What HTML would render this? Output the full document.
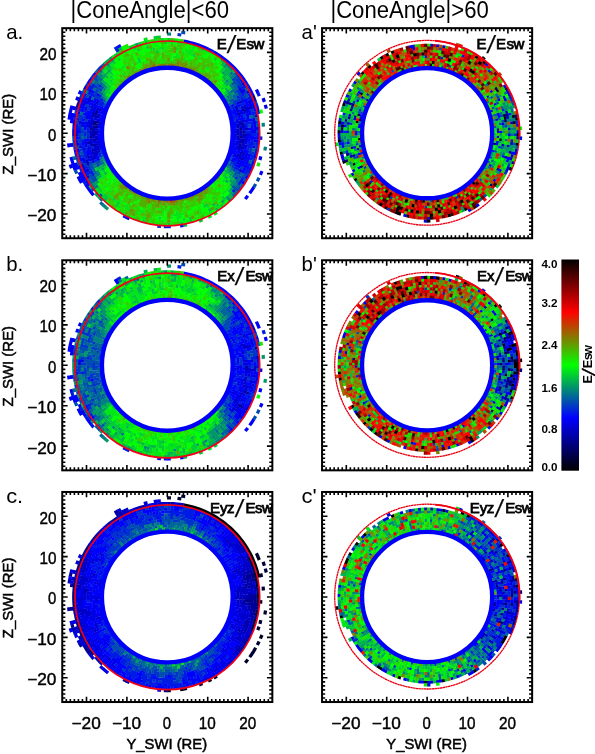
<!DOCTYPE html>
<html lang="en"><head><meta charset="utf-8"><title>E/Esw maps</title>
<style>html,body{margin:0;padding:0;background:#fff}svg{display:block}</style></head>
<body>
<svg width="595" height="754" viewBox="0 0 595 754" font-family="'Liberation Sans', sans-serif" fill="#000">
<g fill="none" stroke-width="3.25">
<path stroke="#000080" d="M97.1 123.2l-.3 2.7M241 130.8l-.2-2.9M94.3 122.8l-.3 2.8M90.8 135.7l.1 3M254.1 98.3l-1.4-3.3M78.4 104.1l-1.1 3.5"/>
<path stroke="#000099" d="M97.5 120.7l-.4 2.8M96.8 125.6l-.2 2.8M238.2 135.8l0-2.7M97.2 110.3l-.8 2.6l-.7 2.6M94.7 120.2l-.4 2.9M94 125.3l-.3 2.9M93.6 133l0 2.9M239.9 146.2l.4-2.9M240.8 138.5l.2-2.9M243.9 133.4l-.1-3M90.9 127.7l-.1 3M91.5 143.7l.4 3M92.4 149l.7 2.9M243.4 141.4l.3-3M243.8 136l.1-3M243.7 111.5l-1-3M255.3 101.4l-1.4-3.4"/>
<path stroke="#0000b3" d="M100.3 121.2l-.4 2.7M238 128.4l-.2-2.8M98.5 115.9l-.6 2.7M96.4 130.6l0 2.6l0 2.6M96.6 138l.2 2.8M97.1 142.9l.4 2.8M97.9 147.8l.6 2.7M238 138.3l.2-2.8M241 133.4l0-2.9M240.6 125.6l-.3-2.7l-.4-2.7M238.9 115.5l-.8-2.8M95.8 115.2l-.7 2.8M93.8 127.9l-.2 2.7l0 2.8M93.7 138.2l.3 2.9M94.3 143.3l.4 2.9M237.4 156.1l.8-2.7M240.3 143.6l.3-2.8M243.7 128l-.3-2.8l-.3-2.8M93.8 111.9l-.8 2.8l-.6 2.7M90.8 130.4l-.1 3M93 151.6l.8 2.9M240.8 154.5l.8-2.9M242.2 149.3l.5-3M243.1 144l.4-3M243.7 138.7l.1-3M246.6 130.6l-.1-3.1M88.3 141.3l.4 3.1M241.8 160.5l1.1-2.9M245.5 108l-1-3.1M88.2 155.7l1 3.1M86.4 159.3l1 3l1.1 2.9M82 164l1.3 3.4M79.5 101l-1.2 3.5"/>
<path stroke="#0000cc" d="M235.4 133.3l-.1-2.6M234.3 145.2l.4-2.7M238.2 133.3l0-2.6l-.2-2.6M237.8 125.9l-.3-2.7M100.7 108.8l-.9 2.6M99.2 113.5l-.7 2.7M96.6 128.1l-.2 2.8M96.4 135.5l.2 2.8M97.4 145.4l.6 2.7M98.5 150.2l.7 2.7M236.6 148.1l.6-2.7M237.8 140.8l.2-2.8M240.9 128.2l-.3-2.9M238.2 113l-.8-2.6l-.8-2.4l-1-2.6M98.1 107.8l-1 2.8M93.6 135.6l.2 2.9M94.7 145.9l.5 2.6l.6 2.5l.6 2.5l.8 2.6M238.8 151.2l.6-2.7l.5-2.6M240.6 141.1l.3-2.9M241 135.9l0-2.9M243.1 122.7l-.4-3M97.4 101.9l-1.1 2.8M92.4 117.1l-.5 2.8l-.4 2.6l-.3 2.7l-.3 2.8M90.7 133l.1 3M90.9 138.4l.3 2.8l.3 2.8M93.7 154.1l.8 2.8l.9 2.6M237.2 164.5l1.1-2.8M239.2 159.5l.9-2.6l.8-2.8M242.7 146.7l.4-3M241 103.6l-1.2-2.8M92.8 105.9l-1.1 2.9M88.4 124.7l-.3 3.1M89.1 146.8l.6 3.1M91.7 157.6l1.1 2.9M243.6 155.2l.8-3M245.5 147.1l.4-3M246.6 136.1l.1-3.1M247.1 113.5l-.8-3l-.9-2.9M87.5 152.9l.8 3.1M239.8 171.9l1.5-2.8M249.1 109.9l-1-3.1M251.8 109.2l-1-3.3M256.7 117.6l-.7-3.4M248.9 93.6l-1.6-3.1M244.3 85.3l-1.9-3M83.3 99l-1.3 3.4M76.6 133l.1 3.6M83.1 167l1.4 3.3M257.8 139.7l.1-3.5M86.4 86.3l-1.8 3.2M80.7 98l-1.4 3.4M77.5 107.2l-1 3.6M74.7 120l-.4 3.4l-.3 3.5M73.8 129.7l0 3.5l0 3.5"/>
<path stroke="#0000e6" d="M235.3 131l-.1-2.7M102.6 112l-.8 2.6M101.3 116.6l-.6 2.6M99.9 123.6l-.3 2.5l-.2 2.5M99.3 130.7l-.1 2.6M99.4 137.8l.2 2.5l.3 2.4l.4 2.3l.4 2.4l.6 2.4M234.7 142.8l.3-2.6M235.2 138.1l.1-2.5l.1-2.5M237.5 123.5l-.4-2.6l-.5-2.6M98 118.3l-.6 2.7M96.8 140.5l.3 2.7M233.9 157.6l.8-2.5l.8-2.5M236.1 150.5l.6-2.7M237.1 145.7l.4-2.6l.3-2.6M239.5 118l-.7-2.8M95.2 117.7l-.5 2.8M94 140.8l.3 2.8M236.5 158.6l1-2.8M243.8 130.7l-.1-3M241.6 114.8l-.8-2.9M238.3 104.7l-1.1-2.8M98.6 99.5l-1.3 2.7M96.4 104.4l-1 2.6l-.9 2.5l-.8 2.8M238.2 162l1.1-2.8M241.5 151.9l.7-2.9M245.9 122.3l-.4-3M244.4 114.2l-.8-3M242.9 108.8l-1.1-2.9M98.6 93.4l-1.5 2.7M93.8 103.3l-1.2 2.9M91.9 108.5l-1 3M89.1 119.3l-.4 2.9l-.4 2.9M88.1 138.6l.3 3.1M90.9 154.9l1 3M92.6 160.2l1.2 2.9M242.7 157.9l1-3M244.9 149.9l.6-3.1M245.9 144.4l.4-2.9l.2-2.8l.1-2.9M249.5 130.5l-.2-3.2M243.6 102.6l-1.3-3M92.3 99.6l-1.3 3M86.9 115.9l-.6 3.2M85.9 121.6l-.4 3.2M85.5 141.6l.4 3l.5 3M89.1 158.4l1 3.1M244.5 161.5l1-2.9l.8-2.7l.8-3M249.5 136.2l0-3.2M252.3 133.4l0-3.3M242.5 93.4l-1.6-2.7l-1.6-2.7M90.9 95.8l-1.3 2.8l-1.1 2.7l-1.2 3M86.5 106.8l-1 3.1M83.1 121.2l-.4 3.1l-.2 3.1M83.5 147.8l.7 3.3M244.9 168l1.3-3.1M255.2 133.4l-.1-3.3l-.1-3l-.3-3.1l-.4-3l-.5-3.2M250.9 106.2l-1-3.1l-1.2-3M245 92.1l-1.7-3M91.3 89.1l-1.7 3M85.9 100.1l-1.2 3l-1 3.1M80.3 120.8l-.4 3.4M80.3 145.2l.5 3.4M82.8 157.2l.9 3.2l1.1 3M87 168.8l1.4 3.1M253.8 148.6l.5-3.4M254.7 142.6l.3-3.5M257.9 130.2l-.1-3.5M254.5 108.4l-1-3.4M252.6 102.4l-1.3-3.4M81.1 105l-1 3.4M79.3 111.1l-.8 3.4M76.7 129.8l-.1 3.6M77.1 142.5l.4 3.5M84.4 169.9l1.5 3.2M87.1 175.6l1.7 3.1M242.4 184.1l1.9-3M250.1 170.3l1.4-3.3M254.4 158.4l.9-3.4M217 54l-3.1-1.9M211.4 50.7l-3.3-1.6M199.5 45.4l-3.5-1.2M86.2 179.8l1.9 3.1M126.1 217.2l3.3 1.5M78 96.9l-1.3 3.5M74.7 106.4l-.9 3.7M71.5 143.1l.4 3.7M79.2 172.2l1.6 3.4M91.2 192.4l2.4 2.9M259.9 160l.9-3.7M78.1 176.5l1.7 3.4M266.3 108.7l-1-3.8M264.4 101.9l-1.3-3.8M70.2 164.5l1.3 3.8"/>
<path stroke="#0000ff" d="M235.2 128.6l-.2-2.5l-.3-2.4l-.4-2.5M232.8 114.6l-.8-2.6M104.2 107.6l-.9 2.3l-.8 2.4M101.9 114.3l-.7 2.6M100.7 118.9l-.5 2.6M99.2 133.1l.1 2.5l.1 2.5M232 154.4l.7-2.4l.7-2.3l.5-2.3l.5-2.5M235 140.5l.2-2.7M236.1 116.2l-.6-2.5l-.8-2.4l-.8-2.5M233.1 106.8l-1.1-2.6M101.6 106.5l-1 2.6M99.9 111.1l-.8 2.7M232 162.2l1-2.4l1-2.5M235.4 152.9l.7-2.7M239.9 120.5l-.5-2.8M102.3 98.4l-1.3 2.6M99 105.4l-1 2.7M97.1 155.8l.9 2.6l1 2.6M235.6 161l1-2.7M238.1 153.7l.8-2.8M242.7 120.1l-.5-2.8l-.7-2.8M240.9 112.3l-.8-2.9M239.3 107.2l-1.1-2.8M236 166.9l1.3-2.7M246.5 127.8l-.3-3.1M96 98.3l-1.2 2.6l-1.2 2.7M91 111.2l-.7 2.8l-.7 2.7l-.5 2.9M89.6 149.5l.7 2.9l.7 2.8M238.6 168.1l1.2-2.6l1.1-2.6l1.1-2.7M244.3 152.6l.7-3.1M248.7 121.9l-.4-3l-.6-2.8l-.7-3M91.1 102.2l-1.1 3M88.3 110.4l-.8 2.9l-.7 3M85.6 124.4l-.3 3.1l-.2 3M85.3 138.8l.3 3.2M86.8 150.1l.8 3.2M242.3 166.8l1.2-2.8l1.1-2.8M247 153.3l.8-3.2M249 142l.3-3.1l.2-3M252.3 130.4l-.2-3.1l-.2-3.2M251.5 121.5l-.5-3.2M250.5 115.7l-.7-3.1l-.8-3M248.2 107.1l-1-3l-1.1-2.8l-1.2-2.9M93.7 90.5l-1.6 2.9M84.8 112.5l-.7 3.2M83.6 118.3l-.5 3.2M82.7 141.9l.4 3.3M242.3 173.3l1.4-2.8l1.4-2.9M246.1 165.2l1.1-2.9l1-2.8l.8-2.9l.9-3M251.5 145.2l.4-3.3M252.1 139.3l.2-3.3M87.1 97.3l-1.3 3.2M83.8 105.9l-1 3.1l-.8 3.1M79.5 129.9l-.1 3.5M247.5 169.1l1.3-3.2M254.9 139.5l.2-3.4M255.3 111.4l-.9-3.4M253.6 105.4l-1.1-3.4M82.1 102l-1.1 3.4M76.7 136.2l.1 3.5M77.9 148.8l.7 3.4M80.1 158l1 3.4M245.8 178.7l1.7-3.1M252.5 164.4l1.1-3.4M257.5 142.9l.3-3.6M257.9 136.6l.1-3.6M258.8 113.9l-.8-3.3l-.9-3.4M252.8 95.3l-1.4-3.1l-1.5-2.9l-1.7-3M246.7 83.8l-1.9-2.9l-1.8-2.7l-2-2.6l-2.1-2.5l-2.1-2.5l-2.2-2.4l-2.3-2.3l-2.4-2.2l-2.5-2.1l-2.5-2.1l-2.6-2l-2.7-1.8l-2.9-1.9M208.5 49.2l-3.2-1.4l-3-1.3l-3.2-1.3M196.4 44.3l-3.3-1l-3.2-.8l-3.2-.8l-3.4-.6M95.8 72.9l-2.3 2.9M91.8 78.1l-2 2.8l-1.9 2.9M75.9 113.6l-.7 3.6M75.2 149.2l.7 3.6M79.3 165l1.4 3.4M81.8 171.1l1.4 3.1l1.5 2.9l1.7 3M87.9 182.6l2 3.1M123.2 215.7l3.3 1.6M180.1 225.8l3.6-.5M80.8 90.8l-1.6 3.4M73.1 113l-.7 3.5l-.5 3.3l-.4 3.5M75.6 162.8l1.2 3.4l1.2 3.3M80.6 175.3l1.6 3.1l1.8 3.2M85.5 184.1l1.9 3l1.9 2.7l2.2 2.9M258 93l-1.6-3.5M120.9 45.5l-3.4 1.9M72 105.7l-.9 3.5l-.8 3.4l-.7 3.4l-.5 3.6M68.6 143.4l.5 3.8M71 157l1 3.5l1 3.3l1.1 3.3l1.3 3.4M79.6 179.6l1.9 3.4M245.3 198.9l2.5-3.1M249.7 193.3l2.2-3.1l2-3.1M260.4 174.9l1.6-3.7"/>
<path stroke="#001ae5" d="M233.9 119.2l-.5-2.5l-.7-2.4M232.1 112.3l-.9-2.5M99.4 128.3l-.1 2.7M231.2 156.6l.9-2.5M236.7 118.6l-.6-2.7M234 109.1l-1-2.6M103.6 102l-1.1 2.4l-1 2.4M99.1 152.6l.8 2.5l.8 2.5M101.1 100.7l-1.2 2.5l-1 2.5M233.5 165.7l1.2-2.5l1-2.5M101.1 94.8l-1.5 2.6M91.9 146.3l.5 3M95.3 159.2l1.1 2.8M234.8 169.3l1.4-2.7M246.7 133.4l-.1-3.1M246.3 125.1l-.4-3.1M245.5 119.6l-.6-3.1M242 106.2l-1.2-2.9M238.7 98.5l-1.4-2.7M88.1 127.5l-.1 2.9l-.1 3M88 135.8l.1 3.1M88.7 144.1l.4 3M237.3 170.6l1.4-2.7M249.5 133.4l0-3.2M249.1 124.8l-.4-3.2M244.6 105.2l-1.1-3M242.5 99.9l-1.4-2.9M100.9 84.7l-1.9 2.7M94.8 94.5l-1.5 2.8M90.1 104.9l-1 3.1M85.1 133l0 3.2M86.3 147.3l.6 3.2M235.4 179.3l1.7-2.7M247.7 150.5l.6-3l.4-2.9l.4-3M251.9 124.5l-.4-3.3M243.8 96.1l-1.5-3M239.5 88.3l-1.8-2.8M92.3 93.1l-1.5 3M85.6 109.6l-.9 3.2M82.5 139l.2 3.3M83.1 144.9l.5 3.2M84.1 150.7l.7 3.1l.8 2.8l.9 3M90.8 170.3l1.4 2.8l1.5 2.8M251 148.1l.5-3.2M251.9 142.3l.2-3.3M252.3 136.3l0-3.3M253.3 115.1l-.8-3.3M248.8 100.5l-1.3-3.2M243.5 89.4l-1.8-2.9M94.6 83.9l-1.8 2.7l-1.7 2.8M89.8 91.8l-1.6 3M79.7 126.9l-.2 3.4M79.5 136.1l.2 3.4M79.9 142.2l.4 3.4M85.8 165.9l1.3 3.2M88.2 171.6l1.6 3M232.5 192.1l2.2-2.6M238.3 185l1.8-2.7l1.7-2.5l1.7-2.8M244.8 174.6l1.5-2.9l1.3-2.9M248.7 166.3l1.2-3.2M250.8 160.5l1-3.1l.8-3.1M255.1 136.5l.1-3.5M256.1 114.5l-.8-3.4M251.5 99.4l-1.3-3.1l-1.5-3M245.9 88l-1.8-3M242.6 82.6l-2-2.9M90.5 85l-1.7 2.9l-1.7 2.9M85.9 93.3l-1.5 3l-1.3 3.1M80.2 108l-.9 3.4M78 117.3l-.5 3.5M77.1 123.5l-.3 3.4l-.1 3.3M76.8 139.3l.3 3.6M79.3 155l.9 3.4M85.7 172.8l1.6 3.1M248.7 173.1l1.5-3.2M251.3 167.4l1.3-3.4M255.3 155.3l.7-3.2l.7-3.3M257.1 146l.4-3.5M257.3 107.6l-1.1-3.5M248.4 86.6l-1.9-3.1M214.2 52.3l-3.2-1.8M75.2 116.8l-.5 3.6M74 126.5l-.2 3.6M75.8 152.5l.8 3.5M80.5 168.1l1.4 3.3M157.3 226.2l3.7 .3M163.8 226.7l3.5 0l3.5 0M260.6 139.9l.2-3.6M119.3 49.7l-3.2 1.9M83.8 181.2l1.9 3.2M259.3 96.2l-1.5-3.5M117.9 47.2l-3.3 2"/>
<path stroke="#0033cc" d="M234.4 121.5l-.5-2.6M231.3 110.1l-.9-2.4l-1-2.3M105.2 105.4l-1.1 2.4M101.2 149.5l.7 2.5l.7 2.4M229.4 161l1.1-2.4M231 164.4l1.1-2.5M235.7 105.7l-1-2.5l-1.2-2.5M232.3 168l1.3-2.6M240.2 109.7l-1-2.8M237.3 102.2l-1.3-2.7M99.8 97.1l-1.4 2.7M97.3 164.2l1.3 2.7M233.5 171.6l1.5-2.6M245 116.9l-.7-3.1M239.9 101.1l-1.3-2.8M101.6 88.7l-1.7 2.6M97.3 95.8l-1.4 2.7M87.9 133l.1 3.1M241.3 97.3l-1.4-2.7l-1.4-2.5l-1.6-2.6M97.7 89.5l-1.6 2.6l-1.5 2.7M89.2 107.6l-1 3.1M86.4 118.8l-.5 3.1M85.1 130.2l0 3.2M90 161.2l1.1 3M238.4 174.5l1.6-2.9M241.1 169.4l1.4-2.9M245.1 98.8l-1.4-3M234.4 81l-2.1-2.6M96.9 85.5l-1.8 2.8M87.4 103.9l-1 3.2M84.2 115.3l-.7 3.3M82.3 130.1l0 3.3M88.4 164.9l1.2 2.9l1.3 2.8M249.8 153.9l.7-3l.6-3.1M252.6 112.1l-.9-3.3M246.4 94.8l-1.6-3M241.9 86.8l-1.8-2.7l-1.7-2.5l-2-2.6M81.4 114.8l-.6 3.1l-.5 3.3M79.9 123.8l-.3 3.5M79.4 133l.1 3.5M79.6 139.1l.3 3.5M80.7 148.3l.7 3.3M82 154.3l.9 3.3M84.7 163.1l1.2 3.2M252.5 154.6l.8-3.3M254.3 145.6l.4-3.4M258 133.4l-.1-3.6M257.5 123.9l-.4-3.5M240.8 80l-2-2.6l-2.1-2.6M78.6 114.2l-.7 3.4M77.5 120.4l-.4 3.5M78.5 151.9l.8 3.4M81 161l1.1 3.4M247.3 175.9l1.6-3.1M253.5 161.4l1-3.4M256.6 149.1l.5-3.5M256.3 104.5l-1.2-3.5M102.5 65.8l-2.5 2.4l-2.3 2.6M93.7 75.5l-2.2 2.9M88.1 83.5l-1.9 3.1M83.3 92l-1.4 3.2l-1.4 3.1M76.6 110.4l-.8 3.5M74 139.5l.3 3.7M74.7 146l.5 3.6M76.5 155.6l1 3.6M181.3 35l-3.8-.5"/>
<path stroke="#004db2" d="M106.2 103.2l-1.1 2.4M102.5 154.1l.9 2.5M230.4 158.8l.9-2.5M231.1 102.3l-1.3-2.5M104.8 99.8l-1.3 2.5M229.8 166.6l1.3-2.5M233.6 101l-1.3-2.6M98.9 160.7l1.1 2.6M235 97.4l-1.5-2.6M96.3 161.7l1.1 2.8M236.1 93.7l-1.6-2.7M103.2 86.4l-1.8 2.5M234.5 175.4l1.6-2.5l1.4-2.6M249.3 127.6l-.3-3.2M233.9 85l-1.9-2.6M99.2 87.1l-1.7 2.7M85.1 135.9l.2 3.2M91 163.8l1.2 2.8l1.3 2.8M237.9 85.8l-1.8-2.6l-1.9-2.5M98.6 83.1l-1.9 2.7M82.5 127.1l-.2 3.3M82.3 133l0 3.3M93.6 175.6l1.6 2.7l1.7 2.6M232.3 188l2.1-2.6M239.3 178.4l1.7-2.8M253.9 118.1l-.7-3.3M247.6 97.6l-1.4-3.1M236.7 79.2l-2.2-2.6M98.2 79l-2.1 2.7M88.4 94.5l-1.4 3.1M81.3 151.3l.8 3.3M89.6 174.3l1.6 2.8l1.6 2.7l1.8 2.7M234.5 189.8l2.2-2.6M243.3 177.3l1.7-3M257.8 127.1l-.3-3.6M236.9 75l-2.3-2.6M97.9 74.8l-2.1 2.6l-2 2.6M92.2 82.3l-1.9 3M77.5 145.6l.5 3.5M99.8 193.7l2.4 2.6M236.7 191.6l2.1-2.6l2-2.6M244.1 181.4l1.8-3M73.8 136.3l.2 3.6M74.3 142.8l.4 3.6M77.3 158.8l1.1 3.3l1.1 3.3M91.5 188l2.2 2.9M75.3 170.2l1.5 3.5M185.2 32.8l-3.9-.6M253.7 187.4l2-3.4M257.3 181.3l1.8-3.6"/>
<path stroke="#006699" d="M229.5 105.6l-1.1-2.4M227.3 165.3l1.2-2.4M232.1 104.5l-1.1-2.5M228.8 97.9l-1.5-2.4M100.6 157.3l1 2.6M102.5 161.9l1.1 2.5M103.5 96.2l-1.4 2.5M99.9 163l1.2 2.7M231.1 170.2l1.4-2.5M236.2 99.8l-1.4-2.7M232.3 92.8l-1.6-2.5M102.5 92.5l-1.6 2.6M237.5 96.1l-1.5-2.7M234.7 91.3l-1.7-2.6M100.1 91l-1.6 2.7M93.6 162.8l1.2 2.8M233 177.7l1.7-2.6M237.1 89.8l-1.6-2.6l-1.8-2.5M102.6 82.4l-1.9 2.6M93.5 97l-1.4 2.9M93.3 169.1l1.4 2.7l1.5 2.7M236.9 176.9l1.7-2.7M251.1 118.6l-.7-3.3M102.3 78.4l-2.1 2.6M95.3 88l-1.7 2.8M82.3 136l.2 3.3M236 183.3l1.8-2.5l1.7-2.7M240.9 175.9l1.6-2.9M232.7 74.5l-2.3-2.5M100.1 76.6l-2.2 2.6M96.3 81.4l-2 2.8M82.1 111.8l-.8 3.3M236.4 187.4l2.1-2.7M249.8 163.4l1.1-3.2M253.2 151.6l.7-3.3M257.1 120.8l-.5-3.5M247.5 90.8l-1.7-3.1M102.2 70.1l-2.4 2.6M88.7 178.4l1.7 2.9l1.8 2.8M232.4 196.3l2.3-2.4l2.2-2.5M240.6 186.7l2-2.9M104.9 63.6l-2.7 2.5M97.9 70.5l-2.4 2.7M84.8 89.1l-1.6 3.3M99.9 198l2.6 2.6M73.8 156.3l.9 3.7M100.2 202.4l2.8 2.5"/>
<path stroke="#008080" d="M227.5 101.4l-1.3-2.4M107.3 101.1l-1.2 2.4M103.3 156.3l.9 2.5M226.2 167.4l1.3-2.4M228.4 163.2l1.1-2.4M230 100l-1.4-2.4M106 97.6l-1.4 2.4M101.5 159.6l1.1 2.6M228.6 168.8l1.4-2.4M232.5 98.7l-1.3-2.4l-1.4-2.2l-1.5-2.3M229.7 172.4l1.5-2.5M105.5 88.1l-1.8 2.4M233.2 88.9l-1.7-2.4l-1.7-2.3M228.2 82.3l-2-2.3M104.8 84.2l-1.8 2.5M94.7 165.3l1.3 2.8M97.1 170.3l1.4 2.6l1.6 2.5M96 174.2l1.7 2.7M232.6 78.7l-2.2-2.5M100.4 80.7l-2 2.7M234.2 185.7l2-2.7M234.7 76.9l-2.2-2.6M102.1 74.3l-2.2 2.6M96.1 184.7l2.1 2.7M232.7 70.3l-2.4-2.3l-2.3-2.2l-2.5-2.2M109.1 63.6l-2.6 2.3M94 79.7l-2 2.9M87.3 90.5l-1.6 3.1M92 183.8l1.9 2.7l2 2.7M227.8 200.7l2.6-2.4M263.4 126.7l-.3-3.8M102.7 204.7l2.8 2.4M171 34.1l-3.9-.1M264.9 150.6l.6-3.8"/>
<path stroke="#009966" d="M228.5 103.5l-1.2-2.4M104.1 158.6l1.1 2.4M103.5 164.1l1.3 2.5M227.3 170.9l1.5-2.4M228.5 92.1l-1.6-2.4M104.9 94l-1.5 2.5M102.1 167.7l1.4 2.5M233.7 95.1l-1.6-2.6M107.1 85.9l-1.8 2.4M103.9 90.3l-1.6 2.5M225.8 182.5l1.9-2.3M230.7 176.1l1.5-2.3l1.5-2.5M229.8 182.2l1.8-2.5M224.5 74.2l-2.3-2.2M230.2 186.2l1.9-2.4l1.7-2.3l1.8-2.5M230.6 76.4l-2.2-2.4M110.5 69.9l-2.4 2.2M106.2 74l-2.1 2.3l-2.1 2.4M96.7 180.6l1.9 2.7M230.4 190.2l2.2-2.5M226.2 68l-2.6-2.2M94.3 182.2l2 2.8M221.3 202.6l2.6-2.2M226 198.6l2.5-2.3M230.4 194.4l2.3-2.5M114.1 59.7l-2.8 2.1M100 72.4l-2.3 2.6M138.6 44.2l-3.5 1.2M112.5 57.4l-2.9 2.2M95.5 193.2l2.4 2.7M105.2 206.9l2.9 2.4"/>
<path stroke="#00b34c" d="M226.3 99.3l-1.3-2.2l-1.3-2.1M108.4 99l-1.3 2.4M105.1 160.8l1.1 2.4M223.7 171.4l1.4-2.2M227.5 95.8l-1.5-2.4M107.3 95.5l-1.5 2.4M226 173l1.5-2.4M227 90l-1.7-2.3M106.3 91.8l-1.6 2.5M101 165.4l1.3 2.6M104.7 172.1l1.6 2.5M225.3 178.7l1.7-2.3M228.3 174.6l1.6-2.5M227.7 86.2l-1.8-2.2l-1.8-2.1M98.4 166.6l1.4 2.7M229.1 178.3l1.8-2.4M230 84.5l-2-2.5M226.4 80.2l-2-2.1l-2.1-2.1M106.6 82l-2 2.5M99.9 175.1l1.7 2.6M231.4 180l1.8-2.5M232.2 82.7l-1.9-2.3l-2-2.3M226.6 76.2l-2.3-2.3M108.3 76l-2.2 2.3M104.4 80.2l-2 2.5M97.5 176.6l1.7 2.7M228.6 74.3l-2.2-2.3l-2.3-2.1M108.4 71.9l-2.4 2.4M212.2 205.4l2.8-1.8M228.4 192.4l2.2-2.4M230.6 72.3l-2.3-2.3l-2.3-2.2M223.9 66l-2.6-2.2M111 65.8l-2.6 2.2M104.2 72l-2.3 2.5M208.4 210.9l3-1.7M228.2 196.5l2.4-2.4M234.8 72.7l-2.4-2.6M225.7 63.8l-2.6-2.1l-2.6-2M111.6 61.6l-2.7 2.2M104.4 67.8l-2.5 2.5M104.2 198.3l2.6 2.4M215.2 210.2l3-1.9M230.2 198.6l2.5-2.5M109.9 59.4l-2.7 2.2l-2.6 2.2M89.7 185.3l2.1 3M97.7 195.6l2.5 2.7M183.3 225.3l3.6-.7M122.2 48l-3.3 1.9"/>
<path stroke="#00cc33" d="M109.6 97l-1.3 2.3M106.1 162.9l1.2 2.4M226.2 93.7l-1.6-2.3M223.3 89.7l-1.8-2.2M110 91.4l-1.6 2.3M104.6 166.4l1.4 2.4M223.1 177l1.6-2.1l1.5-2.2M110.9 85.7l-1.7 2.1l-1.5 2.1l-1.6 2.2M103.4 169.9l1.5 2.5M230.9 90.5l-1.8-2.4M224.3 82.1l-2-2.2M141.3 61.2l-2.8 1.1M112.3 79.9l-2 2.2M108.8 83.9l-1.9 2.3M99.6 169l1.5 2.6M140.3 58.5l-2.9 1.2M112.3 76l-2.2 2.2M95.9 167.9l1.4 2.7M228.5 78.3l-2.2-2.3M222.4 72.2l-2.4-2.1M195.6 56l-3.1-1M158.9 51.4l-3.2 .4M112.4 72l-2.3 2.2M203.2 207.2l2.7-1.4l2.7-1.5M224.3 70.1l-2.5-2.2M164.5 48.2l-3.3 .2M155.6 49l-3.2 .5M112.8 67.9l-2.5 2.2M112.5 198.2l2.6 2.1M117.2 201.9l2.7 1.9M158.2 217.8l3.3 .2M221.8 198.5l2.5-2.2M216.6 60.5l-2.9-1.9M149.2 47.2l-3.3 .8M140.3 49.6l-3.2 1.1M120.9 58.6l-2.9 1.9M115.8 62l-2.7 2.1M108.6 67.8l-2.5 2.3M97.9 187.2l2.1 2.5l2.1 2.4M104 194.1l2.3 2.3l2.3 2.2M115.5 204.2l2.8 2M182.4 219.8l3.3-.7M188.4 218.5l3.3-.9M216.3 206.2l2.8-2M223.6 200.6l2.6-2.2M204.4 50.4l-3.3-1.4M167.5 42.5l-3.6 .1M136.5 47.9l-3.4 1.3M106.8 65.7l-2.6 2.4M101.9 196.1l2.5 2.5M142.1 220.3l3.4 .9M167.1 223.9l3.6-.1M179.7 223l3.5-.5M189.1 221.2l3.4-.9M220.5 206.7l2.8-2.1M170.8 39.7l-3.7 0M164.2 39.7l-3.6 .2M148 41.7l-3.5 .8M141.7 43.2l-3.5 1.1M132.4 46.4l-3.3 1.4M117.9 53.8l-3.1 2M199.1 221.2l3.4-1.4M160.8 37.1l-3.6 .3l-3.5 .4"/>
<path stroke="#00e619" d="M223.8 95.3l-1.5-2.2M115.2 89.3l-1.6 2.1M112.3 93.1l-1.5 2.2M107.1 165l1.3 2.4M212.7 183.9l2-1.8M225 169.4l1.3-2.3M111.5 89.4l-1.6 2.2M108.6 93.4l-1.5 2.4M107.1 170.6l1.5 2.4M112.9 178.7l1.8 2.1M225.5 87.9l-1.7-2.1l-1.8-2M124.1 73.5l-2.3 1.7M114.4 81.9l-1.9 2l-1.8 2M222 182.6l1.8-2l1.7-2.1M226.9 176.7l1.6-2.4M229.3 88.3l-1.8-2.4M208 68.4l-2.6-1.6M191.1 60.4l-2.9-.8M186 59l-2.9-.7M178.1 57.4l-2.8-.3l-2.8-.3M138.8 62.2l-2.8 1.1M114.2 78l-2.1 2.1M110.5 81.9l-1.9 2.2M100.9 171.3l1.5 2.5l1.4 2.2l1.7 2.3M108.6 182.3l1.9 2.2M164.5 209.7l3 .1M218.4 190.2l2.2-2M227.5 180.5l1.8-2.4M178.5 54.6l-3.1-.4M125.4 65.8l-2.5 1.6l-2.4 1.7M114.3 74.1l-2.3 2.1M110.3 77.9l-2 2.2l-1.9 2.2M101.4 177.5l1.8 2.5M161.6 212.4l3.1 .1M175.4 212.2l3.1-.4M202 204.6l2.7-1.4M213.8 197.5l2.5-1.8M228 184.4l2-2.5M200.9 58.2l-3-1.3M192.9 55.1l-2.9-.9l-3-.8M184.6 52.8l-3.2-.6M161.7 51.2l-3.2 .3M110.3 73.9l-2.3 2.3M106.3 78.1l-2.1 2.4M104.2 185.9l2.1 2.4M108 190.2l2.3 2.3M118.8 199.6l2.7 1.9M126 204.3l2.9 1.6M139 210.4l2.9 1l2.9 .9M172.9 215.2l3-.2l2.8-.4l2.9-.4l3-.6M213.1 201.5l2.7-1.9M222.2 194.4l2.2-2.1l2-2l2-2.1l2-2.3M217.4 64.5l-2.7-1.9M193.7 52.4l-3-.9l-2.8-.8l-3.1-.7M179.3 49l-3.3-.4M161.5 48.4l-3.3 .2M152.7 49.4l-3.3 .7M115.1 66.1l-2.6 2.1M108.1 194.3l2.3 2.1l2.4 2.1M114.8 200.1l2.7 2M124.6 206.8l2.8 1.5l2.8 1.4M135.3 212l3.1 1.2M170.1 218.2l3.3-.2M176 217.8l3.1-.4l3.1-.5M199 212.1l3.1-1.3M207.1 208.4l2.9-1.6M194.6 49.7l-3.3-1M158.3 45.8l-3.4 .4M113.3 63.8l-2.6 2.2M106.4 69.9l-2.4 2.4M101.9 191.9l2.3 2.5M118 205.9l2.9 1.9M142.9 217.6l3.3 .9M161 220.8l3.4 .2M176.3 220.6l3.4-.4M200 214.7l3.2-1.3M213.7 207.8l2.9-1.9M210 53.2l-2.9-1.5l-3.1-1.4M195.5 47l-3.4-1M180.1 43.4l-3.5-.4M173.8 42.7l-3.5-.1M148.6 44.4l-3.4 .8M127.7 51.6l-3.1 1.6M116.7 57.9l-2.9 2M95.7 188.9l2.1 2.6l2.2 2.5M121.8 211.7l3.1 1.7M133.1 217.2l3.4 1.3M186 222l3.4-.8M209.7 213.4l3.1-1.7M217.9 208.5l2.9-2M223 204.8l2.7-2.2M177.3 40.2l-3.7-.3M157.7 40.2l-3.6 .4M135.5 45.2l-3.4 1.4M120.7 52.1l-3.1 1.9M115.2 55.6l-3 2.1M208.1 217.3l3.3-1.6M213.9 214.3l3.1-1.9M147.5 38.9l-3.7 .9"/>
<path stroke="#00ff00" d="M221 91.4l-1.6-2.1M110.9 95l-1.4 2.2M108.3 167.1l1.3 2.2l1.3 2.1M113.6 175l1.6 2.1M116.6 178.6l1.8 2M210.9 185.4l2.1-1.7M219.4 177.1l1.6-2.1M224.7 91.6l-1.6-2.2M218.4 84.1l-2-2M140.9 67.4l-2.6 1.1M114.7 85.6l-1.8 2.1M105.8 168.5l1.5 2.4M108.4 172.7l1.5 2.2l1.5 2l1.7 2M184.3 202l2.7-.7M212.8 187.6l2.1-1.8M216.4 184.3l2-2M219.9 180.8l1.7-2l1.7-2.1M222.2 84l-2-2.1M208.7 72.2l-2.5-1.6M172.6 59.7l-2.9-.2M142.2 63.9l-2.5 .9l-2.4 1l-2.5 1.2M120 76.6l-2.1 1.9M107.6 176.4l1.7 2.3M110.7 180.5l1.9 2.1M128.1 195.6l2.5 1.5M137.2 200.5l2.6 1.1M167.1 206.9l2.9 0M206.2 195.8l2.5-1.6M220.2 184.5l2-2.1M220.6 78.2l-2.2-2M188.6 59.7l-2.9-.8M162.1 56.8l-3 .3M146.4 59.6l-2.8 .8l-2.6 .9M133.9 64.3l-2.7 1.4M126.9 68.2l-2.5 1.6M120.3 72.8l-2.3 1.9M116.2 76.2l-2.2 2M106.9 180.2l1.9 2.3M114 188.2l2.2 2M133.6 201.9l2.7 1.3M203.1 200.9l2.6-1.5M210 196.8l2.4-1.8M216.4 191.9l2.2-1.9M224.1 184.5l1.9-2.2M222.6 76.2l-2.3-2.1M218.5 72.5l-2.5-2M202.2 61.9l-2.8-1.3M194.6 58.7l-2.8-1l-2.8-.9M175.8 54.3l-3.1-.3M153.7 55l-3.1 .6M137.7 59.5l-2.8 1.2M118.6 70.5l-2.3 1.9l-2.2 1.9M120.5 197.3l2.5 1.8M129.9 203.2l2.7 1.4M140 207.7l2.9 1.1M164.4 212.5l3.1 .1M191.7 208.8l2.8-1l2.7-1.1M199.4 205.8l2.8-1.3M209.2 200.6l2.6-1.7M220.3 192.3l2.3-2.1M224.3 188.5l2.1-2.3M220.3 70.3l-2.5-2M178.9 51.8l-3.2-.4M144.8 54.1l-3.1 1M136.7 56.9l-3 1.3M123.9 63.4l-2.6 1.6l-2.3 1.7l-2.5 1.8M114.6 70.1l-2.4 2.1M106.1 188.1l2.2 2.3M123.6 202.8l2.7 1.7M164.3 215.4l3.2 0M187 213l3-.8l2.9-.9M200.6 208.4l2.9-1.4M220 196.3l2.4-2.1M222.1 68.2l-2.4-2l-2.6-1.9M215 62.8l-2.8-1.8M207.4 58.2l-2.8-1.4l-2.9-1.4M185.2 50.1l-3.3-.7M149.8 50l-3.1 .7l-2.8 .8l-2.9 .8l-3 1M135.6 54.3l-3.1 1.3M122.4 61l-2.7 1.7l-2.4 1.7l-2.5 1.9M98.4 183l2 2.7M155.3 217.4l3.3 .4M161.2 218l3.1 .2l3.2 0M173.1 218l3.3-.2M181.9 217l3.3-.7M201.7 211l2.9-1.4l2.8-1.4M209.7 206.9l2.8-1.7M217.1 202.1l2.7-2M224.1 196.5l2.3-2.1l2.2-2.3M219.1 62.2l-2.8-2M214 58.8l-2.9-1.8M208.7 55.7l-3-1.6M197.5 50.7l-3.2-1.1M188.7 48l-3.3-.8M167.5 45.3l-3.5 .1M161.4 45.5l-3.5 .3M155.3 46.2l-3.4 .5M146.2 47.9l-3.3 .9M137.4 50.6l-3.2 1.2M131.7 52.9l-3.1 1.4M123.5 57l-2.9 1.8M118.3 60.2l-2.8 2M154.9 220.2l3.4 .4M164 221l3.5 .1M170.2 221l3.2-.1l3.3-.3M179.3 220.2l3.4-.5M185.4 219.2l3.3-.8M194.3 216.8l3.2-1.1M205.7 212.3l3-1.6M220.8 59.9l-2.9-2M215.5 56.4l-2.9-1.7l-2.9-1.7M198.5 48l-3.4-1.1M192.5 46.1l-3.3-.9l-3.2-.8M177 43l-3.6-.3M161.2 42.7l-3.4 .3l-3.1 .4l-3.3 .5M145.5 45.2l-3.4 .9M133.5 49l-3.1 1.3l-3 1.5M124.9 53l-2.9 1.7l-2.8 1.6l-2.8 1.8M106.5 200.5l2.6 2.3M116.4 208.3l3 1.9M130.2 216l3.3 1.4M139.1 219.4l3.4 1M182.9 222.6l3.4-.7M192.1 220.4l3.4-1M204 216.1l3.2-1.5M212.5 211.8l3-1.8M225.5 202.8l2.6-2.3M180.5 40.6l-3.6-.4M167.5 39.7l-3.7 0M129.4 47.7l-3.1 1.4l-3.1 1.6M261.6 113.4l-.9-3.7M125.2 46.5l-3.3 1.7"/>
<path stroke="#1ae500" d="M222.5 93.3l-1.6-2.1M219.5 89.6l-1.6-2l-1.7-1.8M116.8 87.5l-1.7 2.1M113.7 91.2l-1.6 2.1M110.8 171.1l1.4 2.1l1.5 2M115.1 176.8l1.7 2.1M209.1 186.9l2.1-1.6M214.5 182.3l1.9-1.9M220.9 175.2l1.5-2l1.4-2.1M221.7 87.7l-1.7-1.9l-1.8-2M213 79l-2.2-1.8M202.9 71.9l-2.3-1.3l-2.4-1.2M165 62.3l-2.6 .2l-2.7 .2M143.2 66.5l-2.6 1M138.6 68.4l-2.4 1.1l-2.3 1.2M127.8 74.3l-2.3 1.6M123.8 77.2l-2.2 1.8M118.2 82.1l-2 2M113.1 87.5l-1.8 2.2M114.5 180.5l1.8 2l1.9 1.8M131.7 194.5l2.4 1.4M214.6 186l2.1-1.9M218.2 182.6l1.9-2.1M220.4 82.1l-1.9-1.9l-1.9-1.8l-2-1.8M212.8 75.2l-2.3-1.7M206.5 70.8l-2.5-1.5M202.1 68.2l-2.6-1.3M190.2 63.1l-2.7-.8M175.2 59.9l-2.9-.3M167.5 59.5l-2.9 0M162.3 59.6l-2.7 .3l-2.7 .3M149.6 61.6l-2.6 .7l-2.6 .8M128.4 70.6l-2.5 1.6M118.1 78.3l-2 1.9l-1.9 1.9M106.1 174.3l1.6 2.4M109.1 178.5l1.8 2.2M112.4 182.4l1.9 2l1.8 1.8l2 1.9M123.8 192.8l2.4 1.6M130.3 197l2.5 1.4M149.3 204.7l2.8 .7M162 206.7l2.9 .2M182.5 205.4l2.8-.7M187.5 204.1l2.7-.8M212.6 191.4l2.1-1.7l1.9-1.7l2-1.9M222.5 80.1l-2.1-2.1M210.2 69.8l-2.5-1.6M198.6 63.3l-2.8-1.1M180.8 57.8l-3-.4M172.8 56.8l-3-.1M154.2 57.8l-3 .5M124.6 69.6l-2.3 1.7l-2.3 1.7M118.2 74.5l-2.2 1.9M110.3 184.3l2 2.2M116 190l2.2 1.9M122.2 195l2.4 1.8M136 203.1l2.8 1.1M146 206.7l2.8 .8l2.7 .6M156.5 209l2.8 .3l2.8 .3M167.1 209.8l3-.1M172.5 209.6l3-.3M183.1 208.1l2.9-.7M195.8 204.2l2.8-1.1M200.7 202.1l2.7-1.4M205.4 199.6l2.5-1.5l2.3-1.5M220.4 188.4l2-2l1.9-2.1M220.5 74.3l-2.3-2M216.3 70.7l-2.5-1.8M207.1 64.5l-2.7-1.5M199.7 60.7l-2.8-1.2M189.3 56.9l-2.8-.7l-2.9-.7M181.2 55l-3-.4M173 54l-2.9-.1l-2.8-.1l-2.9 .1M161.9 54l-3.1 .3M151 55.5l-2.9 .7l-2.7 .7l-2.6 .8l-2.8 1M132.6 61.8l-2.7 1.4M127.8 64.4l-2.7 1.6M103 179.7l1.7 2.4l1.8 2.1l1.8 2.1l1.9 2l2.1 2.1M114.1 192.1l2.3 2M118.3 195.7l2.5 1.8M137.4 206.7l2.9 1.2M142.6 208.6l3 1M147.9 210.2l3.1 .7M172.7 212.4l3.1-.3M180.9 211.4l2.9-.5l2.9-.7M189 209.6l3-1M196.9 206.9l2.8-1.2M206.8 202l2.7-1.6M222.3 190.4l2.2-2.2M226.2 186.4l2-2.3M215.8 66.8l-2.7-1.9M187.4 53.5l-3.2-.8M167.5 51l-3.1 0l-3 .2M150.4 52.7l-3 .7l-2.9 .8M142.1 55l-2.9 .9l-2.9 1.1M128.9 60.5l-2.9 1.6M99 179l1.9 2.7M102.4 183.7l2 2.5M121.2 201.3l2.7 1.7M133.7 208.2l3 1.3M152.9 214.1l3 .5l2.8 .4l2.9 .2l3 .2M170 215.4l3.2-.2M192.5 211.4l2.9-.9l2.7-1.1l2.8-1.2M210.7 203l2.7-1.7M217.8 198.1l2.5-2M212.5 61.2l-2.8-1.7M170.4 48.2l-3.1 0l-3.1 0M158.6 48.6l-3.3 .4M130.2 56.7l-2.8 1.4l-2.6 1.5l-2.7 1.6M100.2 185.4l2 2.5l1.9 2.2l2.1 2.3M119.6 203.6l2.8 1.8M138 213.1l3.2 1M152.4 216.9l3.2 .5M187.7 215.8l3-.9l3-.9M219.5 200.3l2.6-2.1M221.5 64.1l-2.7-2.1M211.4 57.2l-3-1.7M206 54.3l-3-1.4l-2.8-1.2l-3-1.1M191.7 48.8l-3.3-.9M185.7 47.3l-3.3-.7M176.7 45.8l-3.5-.3M170.6 45.4l-3.5-.1M164.4 45.4l-3.4 .2M143.3 48.7l-3.3 1M134.6 51.7l-3.2 1.3M113.1 202.3l2.7 2.1M120.6 207.6l2.8 1.7l2.8 1.6M137.1 215.7l3 1.1l3.2 .9M148.9 219.1l3.3 .7M157.9 220.6l3.5 .3M197.2 215.8l3.2-1.2M202.9 213.5l3.1-1.4M218.8 204.4l2.7-2.1M170.7 42.6l-3.6-.1M151.7 43.8l-3.4 .7M148.3 221.9l3.4 .7M154.5 223l3.3 .4l3.4 .3M170.3 223.8l3.5-.1M195.1 219.5l3.2-1.1l3.2-1.2M206.9 214.8l3.1-1.6M151.3 41.1l-3.6 .7M144.9 42.4l-3.6 1M128.3 45.1l-3.4 1.6M257.8 166.3l1.2-3.5"/>
<path stroke="#33cc00" d="M216.4 86l-1.8-1.8l-1.9-1.7M211.2 81.1l-2.1-1.6M125.5 79.5l-2.1 1.6M121.9 82.5l-2 1.8M118.4 85.8l-1.8 2M118.2 180.4l1.8 1.8l1.9 1.7M127.2 188.2l2.2 1.5M216.2 180.6l1.8-2M214.9 80.6l-2.1-1.8M205 73.2l-2.4-1.5M189.4 65.8l-2.7-.8M174.9 62.7l-2.7-.2l-2.4-.2l-2.5 0l-2.6 0M160 62.7l-2.6 .3l-2.6 .4M132 71.7l-2.3 1.4l-2.2 1.4M121.8 78.8l-1.9 1.7l-2 1.8M116.4 83.8l-1.9 2.1M117.9 184.1l2.1 1.9M123.5 189l2.1 1.6l2.1 1.4l2 1.3l2.3 1.4M136.1 196.9l2.4 1.1l2.4 1M152.4 202.5l2.7 .6M164.7 204.1l2.7 0M181.9 202.6l2.7-.6M186.7 201.4l2.7-.8M193.7 199l2.4-1l2.4-1.1M208.9 190.6l2.1-1.5l2-1.7M210.8 73.6l-2.4-1.6M197.4 65.9l-2.5-1.1l-2.5-.9M185.3 61.7l-2.8-.7M164.9 59.5l-2.9 .2M157.2 60.2l-2.7 .4l-2.7 .5M144.7 63l-2.8 1M132.8 68l-2.4 1.3l-2.3 1.5M126.2 72l-2.4 1.6M117.9 187.9l2 1.8l2.1 1.7M132.5 198.2l2.5 1.3l2.5 1.1M146.8 204l2.8 .8M159.4 206.5l2.9 .3M169.7 206.9l2.7-.1l2.6-.3l2.6-.3l2.7-.4M185 204.8l2.8-.8M189.9 203.4l2.6-.9l2.4-.9l2.5-1.1M204 197.1l2.5-1.5M208.4 194.4l2.2-1.6l2.2-1.6M218.6 76.4l-2.1-1.8l-2.1-1.7l-2.1-1.6l-2.3-1.7M203.4 65.7l-2.7-1.4M196.1 62.3l-2.6-1l-2.7-1M170.1 56.7l-2.8-.1l-2.8 .1M159.5 57l-3 .4M151.5 58.3l-2.9 .7M131.5 65.5l-2.6 1.5M105.3 178.1l1.8 2.4M112.1 186.3l2.1 2.1M124.4 196.6l2.3 1.5l2.5 1.5M131.2 200.7l2.7 1.4M153.8 208.6l3 .4M161.8 209.6l3 .1M175.1 209.4l2.9-.4l2.6-.4l2.8-.5M188.2 206.8l2.8-.8l2.5-.9l2.6-1M212.2 195.2l2.2-1.7l2.2-1.8M214.1 69.1l-2.4-1.7l-2.5-1.6M184 55.6l-3.1-.6M156.4 54.6l-3 .4M135.2 60.6l-2.8 1.3M130.2 63l-2.7 1.5M120.8 68.9l-2.5 1.8M112 190.2l2.3 2.1M122.8 198.9l2.4 1.6l2.6 1.5M134.9 205.7l2.8 1.2M145.3 209.5l3 .8M150.6 210.8l2.9 .6l2.9 .4M178.2 211.8l3-.4M186.3 210.3l3-.8M204.4 203.4l2.7-1.5M211.6 199.1l2.5-1.8M216 195.9l2.3-1.9l2.2-1.9M218.1 68.5l-2.6-1.9M211 63.6l-2.6-1.6l-2.5-1.4l-2.6-1.3l-2.7-1.3M198.3 57l-3-1.1M173.2 51.2l-3-.2l-3.1 0M156 51.8l-3 .4l-3 .6M134 58l-2.7 1.3l-2.7 1.4M126.3 61.9l-2.7 1.7M116.8 68.3l-2.5 2M100.7 181.4l1.9 2.6M110.1 192.2l2.2 2.1l2.3 2M128.6 205.7l2.7 1.4l2.7 1.3M136.3 209.4l3 1.1M144.5 212.2l3.1 .8M150 213.6l3.2 .6M184.2 213.7l3.2-.8M208.3 204.5l2.7-1.7M215.5 199.8l2.6-1.9M210 59.6l-2.9-1.6M202.1 55.6l-3.1-1.3M196.6 53.3l-3.2-1M182.2 49.5l-3.2-.5M173.4 48.4l-3.3-.2M132.9 55.4l-3 1.4M106 192.1l2.4 2.4M122.1 205.2l2.8 1.7M143.7 214.9l3.2 .9M149.4 216.3l3.3 .7M193.4 214.1l3.2-1M182.7 46.7l-3.2-.5l-3.2-.4M173.6 45.6l-3.4-.2M126.2 55.5l-3 1.7M110.7 200.4l2.6 2.2M125.9 210.7l3 1.6M134.2 214.6l3.2 1.2M151.9 219.7l3.4 .5M218.2 58.1l-3-1.9M186.3 44.5l-3.3-.6l-3.3-.5M142.5 46l-3.2 .9l-3.2 1.1M108.9 202.6l2.7 2.2M113.8 206.5l2.9 2M119.1 210l3 1.8M127.4 214.6l3.2 1.5M151.4 222.5l3.5 .5M160.8 223.7l3.3 .1l3.4 .1M173.4 223.7l3.4-.3l3.3-.4M183.7 41.1l-3.6-.5M161 39.9l-3.7 .3M154.5 40.6l-3.6 .5"/>
<path stroke="#4db200" d="M213 82.7l-2.1-1.7M207.4 78.2l-2.2-1.5M203.5 75.5l-2.2-1.3l-2-1.1l-2.3-1.1M148.7 67.7l-2.6 .8M139.7 71l-2.4 1.1M135.5 73l-2.2 1.2l-2.2 1.3M127.4 78l-2.1 1.6M123.7 81l-2.1 1.7M120.1 84.1l-1.9 1.9M137.3 194.3l2.4 1.1M143.9 197.1l2.5 .9M155.3 200.2l2.7 .4M183.6 199.3l2.6-.7M207.2 188.4l2.1-1.6M217.8 178.9l1.7-2.1M211.1 77.4l-2.1-1.6l-2.1-1.4l-2.2-1.4M198.5 69.5l-2.4-1.1l-2.2-.9l-2.4-.9l-2.4-.9M177.3 63l-2.7-.3M150.3 64.4l-2.7 .7M145.5 65.7l-2.6 .9M134.1 70.5l-2.4 1.4M125.7 75.8l-2.2 1.6M133.9 195.7l2.5 1.3M140.6 198.9l2.5 .9l2.4 .9M150 202l2.7 .6M154.8 203l2.8 .4M159.7 203.7l2.8 .2M167.2 204.1l2.7 0M174.6 203.7l2.6-.3l2.4-.4l2.6-.5M189.1 200.7l2.4-.9l2.5-.9M202.6 194.7l2.4-1.5M206.8 192.1l2.3-1.6M214.8 76.8l-2.2-1.8M204.3 69.4l-2.5-1.4M199.8 67l-2.7-1.2M192.7 64l-2.8-1M187.8 62.4l-2.8-.8M182.8 61.1l-2.7-.5l-2.5-.4l-2.7-.3M135.1 66.9l-2.6 1.3M122 75l-2.2 1.8M121.8 191.2l2.3 1.7M125.9 194.2l2.5 1.6M139.5 201.5l2.6 1l2.4 .8l2.6 .8M151.8 205.3l2.7 .5l2.7 .4M164.6 206.9l2.9 0M180 205.8l2.8-.5M201.8 198.4l2.5-1.4M218.4 186.3l2-2M205.7 67l-2.6-1.5M201 64.5l-2.7-1.3M183.4 58.3l-3-.5M164.8 56.7l-3 .1M156.8 57.4l-3 .4M148.9 58.9l-2.9 .8M136.3 63.2l-2.7 1.3M118 191.7l2.2 1.8l2.2 1.7M128.9 199.4l2.6 1.5M138.5 204.1l2.6 1l2.5 .9l2.8 .8M151.2 208.1l3 .5M169.8 209.7l3-.1M185.7 207.5l2.9-.8M198.3 203.2l2.7-1.3M209.5 66l-2.7-1.6M204.7 63.2l-2.7-1.4M197.2 59.7l-2.9-1.2M164.7 53.9l-3.1 .1M159.2 54.2l-3.1 .4M127.5 201.9l2.7 1.5M132.4 204.5l2.8 1.3M156.1 211.8l2.9 .4l2.9 .2M167.1 212.6l3-.1l2.9-.1M213.4 65.1l-2.7-1.7M181.7 52.3l-3.1-.5M116.5 197.9l2.6 1.9M147.2 212.9l3.2 .8M199.3 54.4l-3.1-1.2M138.4 53.2l-3.1 1.2M132.5 210.8l3.1 1.3M140.9 214l3.1 1M167.1 218.2l3.3 0M184.8 216.4l3.2-.7M196.2 213.2l3.1-1.2M214.7 203.8l2.7-1.9M152.2 46.6l-3.3 .7M128.9 54.1l-3 1.6M108.4 198.4l2.6 2.2M128.6 212.1l3.1 1.4M145.9 218.4l3.3 .8M201.5 49.2l-3.4-1.3M164.3 42.6l-3.5 .1M111.3 204.6l2.8 2.1M124.6 213.2l3.1 1.6M136.1 218.4l3.4 1.1M145.2 221.2l3.4 .8M201.1 217.4l3.3-1.4M174 39.9l-3.6-.2M123.6 50.5l-3.2 1.8"/>
<path stroke="#669900" d="M209.3 79.6l-2.1-1.6M205.5 76.8l-2.2-1.4M197.3 72.1l-2.4-1.1M188.5 68.5l-2.4-.7l-2.5-.7M181.6 66.6l-2.6-.5M167.4 65.1l-2.6 .1M158 65.8l-2.7 .4M151 67.1l-2.6 .7M144.2 69.2l-2.5 .9M137.6 72l-2.4 1.2M131.3 75.4l-2.2 1.4M121.6 183.7l2.1 1.7M131.1 190.9l2.3 1.3M135.2 193.2l2.4 1.2M139.5 195.3l2.3 1l2.4 .9M150.7 199.2l2.6 .6M160 200.9l2.7 .2M176.6 200.6l2.5-.4l2.4-.4l2.4-.6M188.2 198l2.5-.9M192.7 196.4l2.3-1l2.3-1.1M199.1 193.4l2.2-1.2l2.1-1.3l2.1-1.3M216.7 82.3l-2.1-1.9M184.6 64.4l-2.6-.6l-2.5-.5M155.1 63.3l-2.5 .5l-2.6 .6M147.9 65l-2.7 .8M119.7 185.8l2 1.7l2.1 1.7M145.2 200.6l2.7 .8M157.3 203.4l2.7 .3M162.2 203.9l2.8 .2M169.6 204.1l2.8-.2M198.2 197l2.4-1.2l2.3-1.3M204.7 193.4l2.4-1.5M170 59.5l-2.9 0M152.1 61l-2.8 .7M156.9 206.2l2.8 .3M197.1 200.6l2.5-1.1l2.5-1.3M116.1 193.9l2.5 2M176.1 51.5l-3.2-.3M114.3 196.1l2.5 2M167.1 215.4l3.2 0M176.4 48.6l-3.3-.2M129.9 209.6l3 1.4M146.6 215.7l3.2 .7M131.4 213.4l3.2 1.3M167.1 221.1l3.5-.1M191.3 217.7l3.3-1M211.1 209.4l2.9-1.8"/>
<path stroke="#808000" d="M195.1 71.1l-2.3-1l-2.2-.9l-2.4-.8M183.9 67.2l-2.6-.6M179.3 66.2l-2.5-.4l-2.4-.3l-2.5-.2M169.8 65.2l-2.6-.1M165.1 65.2l-2.5 .1l-2.4 .2l-2.5 .3M153.3 66.6l-2.6 .6M146.4 68.4l-2.5 .9M141.9 70l-2.4 1.1M129.4 76.7l-2.2 1.5M123.4 185.3l2 1.5l2 1.6M129.1 189.6l2.2 1.4M133.1 192.1l2.4 1.3M146.1 197.9l2.4 .7l2.5 .7M153 199.8l2.6 .5M162.4 201.1l2.5 .1l2.4 .1l2.5-.1M185.9 198.7l2.6-.8M190.4 197.2l2.5-.9M197 194.4l2.4-1.2M205.2 189.7l2.2-1.5M187 65.1l-2.7-.7M179.8 63.4l-2.8-.4M147.6 201.3l2.7 .7M172.1 203.9l2.8-.2M129.2 66.8l-2.6 1.6"/>
<path stroke="#996600" d="M172.2 65.3l-2.7-.1M155.6 66.1l-2.6 .5M157.7 200.6l2.6 .3M171.9 201.1l2.5-.2l2.5-.3"/>
<path stroke="#cc3300" d="M169.5 201.2l2.7-.1"/>
</g>
<circle cx="167.3" cy="133.2" r="65.4" fill="none" stroke="#0000f8" stroke-width="4.4"/>
<circle cx="167.3" cy="133.4" r="92.4" fill="none" stroke="#f00018" stroke-width="1.7"/>
<rect x="62.26" y="28.16" width="210.08" height="210.08" fill="none" stroke="#000" stroke-width="2"/><path d="M66.30 28.16v3.10M66.30 238.24v-3.10M62.26 234.20h3.10M272.34 234.20h-3.10M70.34 28.16v3.10M70.34 238.24v-3.10M62.26 230.16h3.10M272.34 230.16h-3.10M74.38 28.16v3.10M74.38 238.24v-3.10M62.26 226.12h3.10M272.34 226.12h-3.10M78.42 28.16v3.10M78.42 238.24v-3.10M62.26 222.08h3.10M272.34 222.08h-3.10M82.46 28.16v3.10M82.46 238.24v-3.10M62.26 218.04h3.10M272.34 218.04h-3.10M86.50 28.16v5.40M86.50 238.24v-5.40M62.26 214.00h5.40M272.34 214.00h-5.40M90.54 28.16v3.10M90.54 238.24v-3.10M62.26 209.96h3.10M272.34 209.96h-3.10M94.58 28.16v3.10M94.58 238.24v-3.10M62.26 205.92h3.10M272.34 205.92h-3.10M98.62 28.16v3.10M98.62 238.24v-3.10M62.26 201.88h3.10M272.34 201.88h-3.10M102.66 28.16v3.10M102.66 238.24v-3.10M62.26 197.84h3.10M272.34 197.84h-3.10M106.70 28.16v3.10M106.70 238.24v-3.10M62.26 193.80h3.10M272.34 193.80h-3.10M110.74 28.16v3.10M110.74 238.24v-3.10M62.26 189.76h3.10M272.34 189.76h-3.10M114.78 28.16v3.10M114.78 238.24v-3.10M62.26 185.72h3.10M272.34 185.72h-3.10M118.82 28.16v3.10M118.82 238.24v-3.10M62.26 181.68h3.10M272.34 181.68h-3.10M122.86 28.16v3.10M122.86 238.24v-3.10M62.26 177.64h3.10M272.34 177.64h-3.10M126.90 28.16v5.40M126.90 238.24v-5.40M62.26 173.60h5.40M272.34 173.60h-5.40M130.94 28.16v3.10M130.94 238.24v-3.10M62.26 169.56h3.10M272.34 169.56h-3.10M134.98 28.16v3.10M134.98 238.24v-3.10M62.26 165.52h3.10M272.34 165.52h-3.10M139.02 28.16v3.10M139.02 238.24v-3.10M62.26 161.48h3.10M272.34 161.48h-3.10M143.06 28.16v3.10M143.06 238.24v-3.10M62.26 157.44h3.10M272.34 157.44h-3.10M147.10 28.16v3.10M147.10 238.24v-3.10M62.26 153.40h3.10M272.34 153.40h-3.10M151.14 28.16v3.10M151.14 238.24v-3.10M62.26 149.36h3.10M272.34 149.36h-3.10M155.18 28.16v3.10M155.18 238.24v-3.10M62.26 145.32h3.10M272.34 145.32h-3.10M159.22 28.16v3.10M159.22 238.24v-3.10M62.26 141.28h3.10M272.34 141.28h-3.10M163.26 28.16v3.10M163.26 238.24v-3.10M62.26 137.24h3.10M272.34 137.24h-3.10M167.30 28.16v5.40M167.30 238.24v-5.40M62.26 133.20h5.40M272.34 133.20h-5.40M171.34 28.16v3.10M171.34 238.24v-3.10M62.26 129.16h3.10M272.34 129.16h-3.10M175.38 28.16v3.10M175.38 238.24v-3.10M62.26 125.12h3.10M272.34 125.12h-3.10M179.42 28.16v3.10M179.42 238.24v-3.10M62.26 121.08h3.10M272.34 121.08h-3.10M183.46 28.16v3.10M183.46 238.24v-3.10M62.26 117.04h3.10M272.34 117.04h-3.10M187.50 28.16v3.10M187.50 238.24v-3.10M62.26 113.00h3.10M272.34 113.00h-3.10M191.54 28.16v3.10M191.54 238.24v-3.10M62.26 108.96h3.10M272.34 108.96h-3.10M195.58 28.16v3.10M195.58 238.24v-3.10M62.26 104.92h3.10M272.34 104.92h-3.10M199.62 28.16v3.10M199.62 238.24v-3.10M62.26 100.88h3.10M272.34 100.88h-3.10M203.66 28.16v3.10M203.66 238.24v-3.10M62.26 96.84h3.10M272.34 96.84h-3.10M207.70 28.16v5.40M207.70 238.24v-5.40M62.26 92.80h5.40M272.34 92.80h-5.40M211.74 28.16v3.10M211.74 238.24v-3.10M62.26 88.76h3.10M272.34 88.76h-3.10M215.78 28.16v3.10M215.78 238.24v-3.10M62.26 84.72h3.10M272.34 84.72h-3.10M219.82 28.16v3.10M219.82 238.24v-3.10M62.26 80.68h3.10M272.34 80.68h-3.10M223.86 28.16v3.10M223.86 238.24v-3.10M62.26 76.64h3.10M272.34 76.64h-3.10M227.90 28.16v3.10M227.90 238.24v-3.10M62.26 72.60h3.10M272.34 72.60h-3.10M231.94 28.16v3.10M231.94 238.24v-3.10M62.26 68.56h3.10M272.34 68.56h-3.10M235.98 28.16v3.10M235.98 238.24v-3.10M62.26 64.52h3.10M272.34 64.52h-3.10M240.02 28.16v3.10M240.02 238.24v-3.10M62.26 60.48h3.10M272.34 60.48h-3.10M244.06 28.16v3.10M244.06 238.24v-3.10M62.26 56.44h3.10M272.34 56.44h-3.10M248.10 28.16v5.40M248.10 238.24v-5.40M62.26 52.40h5.40M272.34 52.40h-5.40M252.14 28.16v3.10M252.14 238.24v-3.10M62.26 48.36h3.10M272.34 48.36h-3.10M256.18 28.16v3.10M256.18 238.24v-3.10M62.26 44.32h3.10M272.34 44.32h-3.10M260.22 28.16v3.10M260.22 238.24v-3.10M62.26 40.28h3.10M272.34 40.28h-3.10M264.26 28.16v3.10M264.26 238.24v-3.10M62.26 36.24h3.10M272.34 36.24h-3.10M268.30 28.16v3.10M268.30 238.24v-3.10M62.26 32.20h3.10M272.34 32.20h-3.10" stroke="#000" stroke-width="1.6" fill="none"/>
<text y="49.2" font-size="15" stroke="#000" stroke-width="0.75"><tspan x="216.8">E</tspan><tspan x="228.0" dy="3.8" font-size="23" font-style="italic" stroke-width="0.25">/</tspan><tspan x="236.3 246.6 253.6" dy="-3.8">Esw</tspan></text>
<text x="6.2" y="38.9" font-size="21" text-anchor="start" textLength="17.0" lengthAdjust="spacingAndGlyphs">a.</text>
<text x="56.4" y="59.8" font-size="15.6" text-anchor="end" textLength="17.0" lengthAdjust="spacingAndGlyphs" stroke="#000" stroke-width="0.4">20</text>
<text x="56.4" y="100.2" font-size="15.6" text-anchor="end" textLength="17.0" lengthAdjust="spacingAndGlyphs" stroke="#000" stroke-width="0.4">10</text>
<text x="56.4" y="140.6" font-size="15.6" text-anchor="end" textLength="8.3" lengthAdjust="spacingAndGlyphs" stroke="#000" stroke-width="0.4">0</text>
<text x="56.4" y="181.0" font-size="15.6" text-anchor="end" textLength="29.2" lengthAdjust="spacingAndGlyphs" stroke="#000" stroke-width="0.4">−10</text>
<text x="56.4" y="221.4" font-size="15.6" text-anchor="end" textLength="29.2" lengthAdjust="spacingAndGlyphs" stroke="#000" stroke-width="0.4">−20</text>
<text x="13.3" y="134.1" font-size="15" text-anchor="middle" textLength="80.6" lengthAdjust="spacingAndGlyphs" transform="rotate(-90 13.3 134.1)" stroke="#000" stroke-width="0.5">Z_SWI (RE)</text>
<g fill="none" stroke-width="3.25">
<path stroke="#000000" d="M359.2 137.8l.2 2.7M357.3 120.7l-.4 2.8M500.4 141.1l.3-2.9M505.3 119.6l-.6-3.1M353.4 162.8l1.2 2.8M342.5 124.1l-.2 3.3M354.9 178.1l1.8 2.8M395.1 212l3.1 1.2M406.4 215.7l3.2 .7M447.5 215.8l3.2-.9M464.2 209.7l3-1.5M514.5 124.2l-.4-3.4M513.7 118.1l-.7-3.3M394.4 51.7l-3.2 1.3M388.7 54.1l-3 1.6M383.3 57l-2.9 1.8M370.8 65.8l-2.6 2.2M364 72l-2.3 2.5M344.6 103l-1.1 3.2M340.1 120.8l-.4 3.4M339.3 129.9l-.1 3.5M339.4 139.1l.3 3.5M341.1 151.3l.8 3.3M343.5 160.2l1.1 3.2M516.9 120.8l-.5-3.5M485.5 63.8l-2.7-2.2M478 58.1l-3-1.9M509.9 170.3l1.4-3.3M516.9 146l.4-3.5M517.7 136.6l.1-3.6M484.8 59.6l-2.9-2.2"/>
<path stroke="#00001a" d="M362.3 92.5l-1.6 2.6"/>
<path stroke="#000033" d="M360.5 118.9l-.5 2.6M494.1 145.2l.4-2.7M359 113.5l-.7 2.7M504.8 116.9l-.7-3.1M498.4 92.2l-1.7-2.7"/>
<path stroke="#00004d" d="M360.8 165.4l1.3 2.6M342.3 127.1l-.2 3.3M507.3 90.8l-1.7-3.1"/>
<path stroke="#000066" d="M505.7 122.3l-.4-3M496.9 89.8l-1.7-2.7M347.3 152.9l.8 3.1M490 186.2l2-2.5"/>
<path stroke="#000080" d="M353.6 103.3l-1.2 2.9M351.7 108.5l-1 3M348.3 101.2l-1.2 3.1M346.2 159.3l1 3.2M516.5 117.6l-.7-3.4M517.6 139.7l.1-3.5"/>
<path stroke="#000099" d="M368.2 99l-1.3 2.4M357.7 147.8l.6 2.7M355.6 115.2l-.7 2.8M351.7 146.3l.5 3M353.5 154.1l.8 2.9M349.5 116.5l-.6 3.1M497.1 170.6l1.4-2.7M507.6 116.3l-.8-3.2M350.9 102.2l-1.1 3M509.6 153.9l.7-3.2M512.3 164.4l1.1-3.4"/>
<path stroke="#0000b3" d="M360 144.9l.5 2.6M498 133.3l0-2.7M497 121l-.6-2.7M502.5 146.7l.4-3M350.7 154.9l1 3M509.3 130.5l-.2-3.2M506.9 113.5l-.8-3.1M346.2 118.8l-.5 3.1M505.2 158.8l1-3.1M511.3 145.2l.4-3.3M345.7 100.1l-1.2 3.2M339.3 136.1l.2 3.4M510.6 160.5l1-3.3"/>
<path stroke="#0000cc" d="M361.1 116.6l-.6 2.6M498 130.9l-.2-2.8M497.8 138.3l.2-2.8M503.3 125.4l-.4-3M499.7 101.1l-1.3-2.8M352.6 105.9l-1.1 2.9M350.1 113.8l-.7 3.1M348.5 122l-.4 3.1M508.1 119.1l-.6-3.2M508 147.6l.5-3.1M511.7 124.5l-.4-3.3M415.4 49l-3.2 .5M349.5 98.4l-1.3 3.1M339.2 133l.1 3.5"/>
<path stroke="#0000e6" d="M491.9 112.3l-.9-2.5M359.4 125.9l-.2 2.7M497.3 143.2l.3-2.7M498.7 115.5l-.8-2.8M495.5 105.7l-1.1-2.6M363.3 96.2l-1.4 2.5M355 117.7l-.5 2.8M358.2 166.6l1.4 2.7M347.8 130.3l-.1 3.1M353.1 169.1l1.5 2.8M493.5 181.7l1.9-2.7M509.3 136.2l0-3.2M506 101.5l-1.2-2.9l-1.3-2.8M342.1 130.1l0 3.3M351.9 173l1.6 2.9M403.5 214.9l3.2 .9M426.9 218.2l3.3 0M445.5 47.3l-3.3-.7M439.5 46.2l-3.4-.4M433.4 45.6l-3.4-.2M415.1 46.2l-3.3 .5l-3.1 .6M356.1 81.4l-2 2.8M351.1 89.1l-1.7 3M348.2 94.5l-1.4 3.1M339.7 142.2l.4 3.4M341.8 154.3l.8 3.1l1 3.1M423.8 221l3.5 .1M468.2 210.9l3-1.7M476.1 206.2l2.8-2M506 171.9l1.4-3l1.2-3M511.5 157.6l.9-3.3M517.8 133.4l-.1-3.6M517.6 127.1l-.3-3.6M510 96.5l-1.4-3.1l-1.5-2.9M505.7 88l-1.8-3M487.9 65.9l-2.6-2.3M359.8 72.4l-2.3 2.6M515.1 155.3l.7-3.2l.7-3.3M520.4 139.9l.2-3.6"/>
<path stroke="#0000ff" d="M361.7 114.3l-.7 2.6M359.7 123.6l-.3 2.6M356.2 133.1l0 2.7M358.9 152.6l.8 2.7M496.9 145.7l.4-2.8M500.8 133.4l0-2.9M499.3 118l-.7-2.8M354.5 145.9l.5 2.8M492.1 92.8l-1.6-2.5M358.4 99.5l-1.3 2.7M359.9 91l-1.6 2.7M348.1 141.3l.4 3.1M345.4 124.4l-.3 3.2M499.6 171.9l1.5-2.8M342.9 121.2l-.4 3.3M342.5 141.9l.4 3.1l.5 3.1M507 162.5l1-3l.9-3M512.3 154.6l.8-3.3"/>
<path stroke="#001ae5" d="M361.6 151.8l.8 2.6M492.5 152.1l.7-2.6M488.6 97.9l-1.5-2.4M368.4 93.4l-1.5 2.4M356.2 130.6l0 2.7M489.6 166.6l1.3-2.5M370.5 180.5l1.9 2.1M499.2 148.7l.5-2.8M443.2 58.3l-3-.5M427.3 56.6l-3 .1M503.5 111.5l-1-3M354.6 100.8l-1.2 2.8M502.5 157.9l1-3M344.9 130.2l0 3.2M346.6 150.1l.8 3.2M510.3 115.7l-.7-3.2M464.5 56.8l-3-1.4M344.6 112.5l-.7 3.2M511.7 142.3l.2-3.3M490.4 72.3l-2.4-2.4M340.6 117.8l-.5 3.4M511.3 99.4l-1.4-3.3"/>
<path stroke="#0033cc" d="M443.7 67.2l-2.6-.6M365 105.4l-1.1 2.4M362.4 112l-.8 2.6M490.2 158.8l.9-2.5M493.8 109.1l-1-2.6M360.5 108.8l-.9 2.6M356.9 142.9l.4 2.8M364.4 166.4l1.4 2.4M455.8 198l2.5-1.1M500.4 125.6l-.3-2.8M356.9 155.8l1 2.8M390.1 197l2.5 1.4M424.4 206.9l2.9 0M351.3 122.4l-.4 3M506.3 127.8l-.3-3.1M498.5 98.5l-1.4-2.7M358.4 93.4l-1.5 2.7M387 208.2l3 1.5M339.7 123.8l-.3 3.5M504.6 174.6l1.6-3M508.5 166.3l1.2-3.2M514.9 136.5l.1-3.5M517.3 123.9l-.4-3.5M512.4 102.4l-1.3-3.4"/>
<path stroke="#004db2" d="M495 128.6l-.2-2.7M495.9 116.2l-.7-2.7M451.5 66.6l-2.6-.9M393.9 70.5l-2.4 1.4M359.7 111.1l-.8 2.7M479.7 180.8l1.8-2.1M491.8 162.2l1.1-2.6M495.2 152.9l.7-2.7M497.3 110.6l-1-2.8M492.3 98.7l-1.4-2.5M502.9 122.7l-.4-3M502 117.4l-.7-2.9M498.1 104.7l-1.1-2.8M354.2 156.7l1 2.8M350 152.2l.8 3M442 49.5l-3.2-.5M342.3 139l.2 3.3M483.9 196.5l2.4-2.2M514.1 145.6l.4-3.4M513.4 105.4l-1.1-3.4"/>
<path stroke="#006699" d="M493.2 116.9l-.7-2.6M488.3 103.5l-1.2-2.4M359.1 130.7l-.1 2.6M363.1 156.3l.9 2.5M429.3 201.2l2.7-.1M488.2 163.2l1.1-2.4M488.4 168.8l1.4-2.4M499.7 120.5l-.5-2.8M353.6 127.9l-.2 2.9M356.2 153.4l.8 2.7M363.2 169.9l1.5 2.5M503.5 128l-.3-3M501.4 114.8l-.8-2.9M487.5 86.2l-1.9-2.3M353.6 111.9l-.8 2.9M502 149.3l.5-3M502.7 108.8l-1.1-2.9M497.3 96.1l-1.5-2.7M347.9 138.6l.3 3.1M503.4 155.2l.8-3M506 141.7l.3-3.1M359 87.1l-1.7 2.7M345.7 121.6l-.4 3.2M345.3 141.6l.4 3.2M350.7 95.8l-1.4 3M479.3 200.3l2.6-2.1M512.1 136.3l0-3.3M512.4 112.1l-.9-3.3M506.2 94.8l-1.6-3M516.4 149.1l.5-3.5"/>
<path stroke="#008080" d="M494.2 121.5l-.5-2.6M360.1 121.2l-.4 2.7M371.9 173.1l1.6 2.1M484.8 169.4l1.3-2.3M365.8 97.6l-1.4 2.4M369.7 174.8l1.6 2.2M354.9 148.4l.7 2.8M492.1 168l1.3-2.6M497.1 102.2l-1.3-2.7M359.6 97.1l-1.4 2.7M506.1 125.1l-.4-3.1M361.4 88.7l-1.7 2.6M509.3 133.4l0-3.2M508.5 121.9l-.5-3.1M506.2 110.7l-1-3.1M504.4 105.2l-1.1-3M344.9 135.9l.2 3.2M349.8 161.2l1.1 3M498.2 174.5l1.6-2.9M512.1 130.4l-.2-3.3M511.3 121.5l-.5-3.2M347.2 103.9l-1 3.2M344 115.3l-.7 3.3M343.9 150.7l.7 3.2M514.9 130.3l-.2-3.4M514.1 121.2l-.5-3.4M511.6 109.2l-1-3.3"/>
<path stroke="#009966" d="M370.7 95l-1.4 2.2M363.2 109.8l-.9 2.5M359 133.1l.1 2.6M360.5 147.2l.6 2.6M491 156.6l.8-2.4l.8-2.4M496.5 118.6l-.6-2.7M361.4 106.5l-1 2.6M356.4 128.1l-.2 2.8M356.2 135.5l.2 2.8M356.6 140.5l.3 2.7M353.4 135.6l.2 2.9M493.3 165.7l1.2-2.7M500.1 143.6l.3-2.8M500.8 135.9l0-2.9M503.7 133.4l-.1-3M363.7 90.3l-1.6 2.5M351.7 119.7l-.4 3M350.6 135.7l.1 2.8l.3 2.9M351.3 143.7l.4 3M499.9 157l.8-2.7l.7-2.7M357.1 95.8l-1.4 2.7M348.2 124.7l-.3 3l-.1 2.9M348.5 144.1l.4 3M495.8 173l1.5-2.7M504.7 149.9l.6-2.9l.4-2.9M506.4 136.1l.1-3.1M509.1 127.6l-.3-3.2M505.3 108l-1-3.1M501.1 97.3l-1.5-2.8M346.7 115.9l-.6 3.2M345.7 144.5l.5 3.1M376.3 197.9l2.6 1.9M460.4 208.4l2.9-1.4M495.2 179.3l1.7-2.7M502.1 166.8l1.3-3M506.8 153.3l.7-3l.6-3M509.1 139.1l.2-3.2M510.9 118.6l-.7-3.3M508.9 109.9l-.9-3l-1-3M360.2 80.7l-2 2.7M342.1 136l.2 3.3M356.5 180.6l1.9 2.7M461.5 211l3-1.4M490.2 190.2l2.2-2.5M510.2 151.1l.7-3.1l.4-3.1M513.1 115.1l-.8-3.3M354.4 83.9l-1.9 2.9M343.6 105.9l-1 3.3M340.1 145.2l.5 3.4M509.6 163.4l1.1-3.2M513.6 148.6l.5-3.4M514.3 108.4l-1-3.4"/>
<path stroke="#00b34c" d="M494.5 123.9l-.4-2.7M410.8 67.1l-2.6 .7M359.7 142.5l.4 2.7M486 167.4l1.3-2.4M495.1 135.7l.1-2.6M497.8 128.4l-.2-2.8M489.8 100l-1.4-2.4M479.9 85.9l-1.9-2.1M442 63.9l-2.7-.6M372.9 87.5l-1.8 2.2M363.4 102l-1.1 2.5M358.3 150.2l.7 2.7M495.9 150.5l.6-2.7M500.1 123.1l-.4-2.9M498 113l-.8-2.7M429.8 59.5l-2.9 0M362.1 98.4l-1.3 2.6M358.8 105.4l-1 2.6l-.8 2.4l-.8 2.6M494.4 163.3l1.1-2.6M503.6 130.7l-.1-3M494.8 97.4l-1.5-2.6M424.6 56.7l-3 .1M355.2 106.9l-1 2.8M352.2 117.1l-.5 3M350.6 130.4l-.1 2.8l.1 2.8M350.9 141l.4 3M487.3 180.5l1.8-2.4M499 159.5l1-2.8M501.3 151.9l.7-2.9M504.2 114.2l-.8-3M488 82.3l-2-2.3M355.8 98.3l-1.3 2.8M348.9 119.3l-.4 3M347.7 133l.1 3l.1 2.9M362.8 179.7l1.8 2.5M504.1 152.6l.7-3.1M347.4 113.1l-.8 3.2M344.9 133l0 3.2M345.1 138.8l.3 3.2M346.1 147.3l.6 3.2M350.8 163.8l1.3 3M504.3 161.5l1-3.1M512.1 133.4l0-3.3M511.9 127.4l-.2-3.3M507.1 104.3l-1.2-3.1M352.1 93.1l-1.5 3M342.1 133l0 3.3M345.3 156.5l1 3.1M358.2 183l2 2.7M515 133.4l-.1-3.5M508.6 100.5l-1.3-3.2M488.3 70.1l-2.5-2.3M342.7 108.8l-.9 3.3M339.5 126.9l-.2 3.4M340.5 148.3l.7 3.3M513 151.6l.7-3.3"/>
<path stroke="#00cc33" d="M417.8 65.8l-2.7 .4M369.4 97l-1.3 2.3M364 107.6l-.9 2.5M441.1 199.8l2.6-.6M445.7 198.7l2.6-.8M483.5 171.4l1.4-2.2M494.5 142.8l.3-2.6M495 138.1l.1-2.7M497.6 125.9l-.3-2.6l-.4-2.6M494.6 111.4l-.9-2.6M389.7 73l-2.4 1.5M362.4 104.2l-1.1 2.6M356.6 125.6l-.2 2.8M360.4 157.3l1 2.6M490.8 164.4l1.1-2.5M492.8 159.9l.9-2.5l.8-2.3l.8-2.5M496.4 148.1l.6-2.7M496.4 108.1l-1-2.7M450 63.1l-2.7-.8M354.5 120.2l-.4 2.7l-.3 2.7M354.1 143.3l.4 2.9M481.8 182.6l1.9-2.1M497.9 153.7l.8-2.8M499.7 146.2l.4-2.9M500.6 138.5l.2-2.9M502.5 120.1l-.5-3M357.2 101.9l-1.1 2.8M354.3 109.4l-.8 2.9M352.9 114.5l-.7 2.9M352.8 151.6l.8 2.9M356.1 161.7l1.1 2.8M502.9 144l.3-2.8l.3-2.7l.1-2.8M506.4 130.6l-.1-3.1M501.8 106.2l-1.2-2.9M350.8 111.2l-.8 3M349.4 149.5l.7 3.1M354.5 165.3l1.3 2.8M421.5 51.2l-3.2 .3M348 155.7l1 3.1M503.3 164.2l1.1-3M508.5 144.8l.4-3.2M496 83.4l-2-2.7M459.1 54.4l-3.1-1.2M346.3 106.8l-1 3.1M343.4 118.3l-.5 3.2M343.3 147.8l.7 3.3M503.5 170.6l1.4-3M505.9 165.2l1.2-3.1M510.7 106.2l-1.1-3.2M380.7 58.6l-2.9 1.9M496.2 187.4l2.1-2.7M514.7 139.5l.2-3.4M517.3 142.9l.3-3.6"/>
<path stroke="#00e619" d="M495.1 131l-.1-2.7M489.3 105.6l-1.1-2.4M484.9 97.2l-1.4-2.2M482.3 93.3l-1.6-2.1M381.7 82.5l-2 1.8M410.5 199.2l2.6 .6M454.7 195.4l2.4-1.1M493.1 149.8l.6-2.6M492.9 106.8l-1.1-2.6M490.9 102.3l-1.3-2.5M362.3 161.9l1.1 2.5M395.9 196.9l2.5 1.1M470.6 189.2l2.2-1.8M500.7 128.2l-.3-2.9M494.5 103.4l-1.2-2.7M464.1 69.4l-2.5-1.4M356.3 112.7l-.8 2.8M353.8 125.3l-.3 2.9M353.8 140.8l.3 2.8M358.7 160.7l1.1 2.6M365.9 174.3l1.6 2.4M498.6 151.2l.7-2.8M500.7 112.3l-.8-2.9M463.2 65.7l-2.7-1.4M386.7 68.2l-2.5 1.6M359.4 169l1.5 2.6M480.2 188.4l2.1-2.1M490.5 176.1l1.6-2.5M495.8 166.9l1.2-2.6l1.1-2.6M363 86.4l-1.8 2.5M407.7 210.2l3.1 .7M487.8 184.4l2-2.5M477.9 68.5l-2.6-1.9M352.1 99.6l-1.3 3M349.9 104.9l-1 3.1M348.1 110.4l-.8 3.1M345.1 127.3l-.2 3.2M438.4 214.6l3.1-.5M470.5 203l2.7-1.7M509.7 112.8l-.9-3.2M461.9 55.6l-3.1-1.3M353.5 90.5l-1.6 2.9M341.2 114.8l-.7 3.3M336.9 142.5l.4 3.5"/>
<path stroke="#00ff00" d="M495.2 133.3l-.1-2.6M441.4 66.6l-2.6-.5M427.2 65.1l-2.6 .1M415.4 66.1l-2.6 .5M359.2 128.3l-.1 2.7M363.9 158.6l1.1 2.4M489.2 161l1.1-2.4M493.7 147.5l.5-2.6M484.5 91.6l-1.6-2.2M356.4 138l.2 2.8M368.2 172.7l1.6 2.3M376 182.3l2 2M383.3 189l2.2 1.6M441.7 202.6l2.7-.6M460.3 195.9l2.4-1.4M452.5 64l-2.8-1M447.6 62.4l-2.8-.8M440.1 60.6l-2.9-.4M424.7 59.5l-2.9 .2M360.9 100.7l-1.2 2.7M353.5 138.2l.3 2.9M359.7 163l1.2 2.7M367.4 176.4l1.7 2.3M406.6 204l2.8 .8M495.4 161l1-2.7M499.1 107.2l-1.1-2.8M485.8 84.1l-1.9-2.2M455.9 62.3l-2.8-1.1M401.1 61.2l-2.8 1.1M391.3 65.5l-2.6 1.5M380.1 72.8l-2.3 1.9M352.2 149l.7 2.9M355.1 159.2l1.1 2.8M357.1 164.2l1.3 2.7M442.9 208.1l2.9-.7M498 162l1.1-2.8M495.9 93.7l-1.6-2.7M482.4 76.2l-2.3-2.1M355.7 167.9l1.4 2.7M369.9 188.2l2.2 2.2M380.3 197.3l2.5 1.8M478 194.1l2.3-2M501.6 160.5l1.1-2.9M506.3 138.9l.1-3.1M458.1 57l-3-1.1M354.6 94.5l-1.5 2.8M475.3 199.8l2.4-1.8l2.4-1.9M506.1 156l.8-3.1M364 76.2l-2.2 2.5M504.7 168l1.3-3.1M507.4 97.6l-1.4-3.1M511.1 167.4l1.3-3.4M520.6 130.1l-.2-3.6"/>
<path stroke="#1ae500" d="M492.6 114.6l-.8-2.6M490.3 107.8l-1.1-2.4M486.1 99.3l-1.3-2.3M457.1 72.1l-2.4-1.1M434.4 65.5l-2.7-.2M379.9 84.1l-1.9 1.9M375 89.3l-1.6 2.1M453.8 67.5l-2.6-1M356.9 123.2l-.3 2.7M464.5 193.4l2.4-1.5M482.9 177l1.6-2.2M497.6 140.8l.2-2.8M478.4 80.3l-2.1-2M474.6 76.8l-2.2-1.8M359.8 103.1l-1.1 2.6M355.5 150.9l.8 2.8M399.3 201.5l2.7 1M404.2 203.3l2.7 .8M439.8 205.8l2.8-.5M468.2 194.4l2.4-1.6M453.4 61.3l-2.8-1M432.6 56.8l-3-.1M370.3 81.9l-1.9 2.2M351 125l-.3 2.9l-.1 2.8M360.7 171.3l1.6 2.6M363.5 175.9l1.8 2.4M386.4 198l2.6 1.6M494.6 169.3l1.4-2.7M503.6 136l.1-3M500.8 103.6l-1.2-2.8M473.9 69.1l-2.5-1.8M441 55l-3-.4M356.9 170.3l1.5 2.7M432.5 212.4l3.1-.3M494.3 175.4l1.6-2.7M505.7 144.4l.4-3.1M502.3 99.9l-1.4-2.9M441.5 52.3l-3-.5l-3-.4M393.8 58l-2.9 1.4M360.7 84.7l-1.9 2.7M357.5 89.5l-1.7 2.7M353.3 97l-1.4 2.9M404.3 212.2l3.1 .8M503.6 96.1l-1.5-3M406.7 50.6l-3.2 .9M392.7 55.4l-3 1.4M366 74l-2.2 2.4M362.1 78.4l-2.1 2.6M345.4 109.6l-.9 3.2M458.8 212.1l3.1-1.3M469.5 206.9l2.8-1.7M511.9 139.3l.2-3.3M504.8 92.1l-1.7-3M430.4 45.4l-3.5-.1M346.9 97.3l-1.3 3.2M349.4 174.3l1.7 3M488 196.5l2.4-2.4M500.6 80l-2.1-2.8M492.5 70.3l-2.5-2.5M469.8 53.2l-3.1-1.6M464.2 50.4l-3.3-1.4M513.3 161.4l1-3.4"/>
<path stroke="#33cc00" d="M467.2 78.2l-2.2-1.5M448.3 68.5l-2.6-.8M406.2 68.4l-2.5 .9M401.7 70l-2.4 1.1M359.1 135.4l.1 2.7M452.5 196.4l2.4-1.1M495.3 113.8l-.8-2.7M487.3 95.8l-1.5-2.4M481.5 87.7l-1.8-2.1M422.3 62.5l-2.8 .2M364.6 99.8l-1.3 2.5M358.3 115.9l-.6 2.7M357.2 145.4l.6 2.7M377.7 184.1l2 1.8l1.9 1.7M436.8 203.4l2.8-.4M498 135.8l0-2.7M491 96.5l-1.5-2.5M409.4 61.6l-2.8 .8M366.1 91.8l-1.5 2.3l-1.4 2.4M357.8 158.3l1 2.7M361.9 167.7l1.4 2.5M372.2 182.4l2 2.1M397 200.5l2.6 1.1M429.5 206.9l2.9-.2M463.8 197.1l2.5-1.5M437.9 57.4l-3-.4M365.1 178.1l1.8 2.4M370.1 184.3l2 2.2M375.8 190l2.2 1.9M493 88.9l-1.8-2.5M478.3 72.5l-2.5-2M352.4 160.2l1.2 2.9M358.3 172.7l1.6 2.7M394.7 205.7l2.8 1.2M461.8 204.6l2.7-1.4M500.6 163.1l1.2-2.9M492 82.7l-2-2.5M435.9 51.5l-3.2-.3M349 107.6l-1 3.1M348.9 158.4l1 3.1M351.9 166.5l1.4 2.9M354.4 171.6l1.6 2.9M365.9 188.1l2.2 2.3M418.3 214.9l3.2 .3M486.1 190.4l2.2-2.3M500.9 169.4l1.4-2.9M502.3 93.4l-1.6-2.9M472.3 61.2l-2.8-1.7M421.3 48.4l-3.3 .2M355.1 88l-1.7 2.8M347.1 162.1l1.2 3.1M353.4 175.6l1.7 2.8M365.8 192.1l2.4 2.4M486 194.5l2.4-2.4M502.1 173.3l1.5-3M503.3 89.4l-1.8-2.9M418.1 45.8l-3.4 .4M501.5 179.9l1.7-2.8l1.6-2.8M502.4 82.6l-2-2.9M472.6 54.7l-3.1-1.7"/>
<path stroke="#4db200" d="M491.1 110.1l-.9-2.5M476.2 86l-1.9-1.9M465.3 76.8l-2.2-1.4M399.5 71l-2.4 1.1M367.1 101.1l-1.2 2.4M366.9 165l1.2 2.2l1.3 2.2M478.2 84.1l-2-2M460.5 70.7l-2.5-1.3M432.2 62.5l-2.8-.2M403 66.5l-2.6 1M381.6 78.8l-1.9 1.7l-2 1.8M367.1 95.5l-1.5 2.4M407.4 201.3l2.7 .7M481.3 178.9l1.8-2.2M500.8 130.8l-.2-2.9M493.4 101l-1.3-2.6M489.7 94.3l-1.6-2.5M422.1 59.6l-2.9 .3M417 60.2l-2.9 .4M370.7 85.7l-1.8 2.2M426.9 206.9l2.9 0M485.1 178.7l1.7-2.3M489.5 172.4l1.5-2.5M493.5 95.1l-1.6-2.6M445.8 59l-2.9-.7M421.9 56.8l-3 .3M379.8 193.4l2.4 1.8M403.3 206l2.9 .8M448 206.8l2.9-.8M491.9 173.9l1.5-2.4l1.4-2.5M464.5 63.2l-2.7-1.4M443.8 55.6l-3.1-.6M405.4 56.8l-3 1M348.9 146.8l.6 3.1M351.5 157.6l1.1 2.9M451.5 208.8l2.9-1.1M480.1 192.3l2.3-2.1M486 186.4l2-2.3M499.6 165.6l1.2-2.8M503.4 102.6l-1.3-3M376.6 68.3l-2.5 2M356 91.9l-1.6 2.9M357.3 176.6l1.7 2.7M492.4 78.7l-2.2-2.5M484.1 70.1l-2.5-2.2M453.5 52.4l-3.1-1M356.7 85.5l-1.8 2.8M508.8 156.8l.9-3.2M448.5 48l-3.3-.8M421.2 45.5l-3.5 .3M349.6 91.8l-1.6 3M492.3 192.1l2.2-2.6"/>
<path stroke="#669900" d="M483.6 95.3l-1.5-2.2M480.8 91.4l-1.6-2.1M474.5 84.3l-2-1.8M364.9 160.8l1.1 2.4M369.3 169.2l1.4 2.2M443.4 199.3l2.6-.7M477.6 178.9l1.7-2.1M482.1 173.3l1.5-2.2M487.1 165.3l1.2-2.4M486 93.7l-1.6-2.3M424.8 62.3l-2.8 .2M407.7 65l-2.7 .8M371.3 89.4l-1.6 2.2M365.6 168.5l1.4 2.3l1.4 2.2M402.7 199.8l2.6 .9M487.1 170.9l1.5-2.4M470.6 73.6l-2.4-1.6M394.9 66.9l-2.6 1.3M392.3 198.2l2.6 1.3M434.7 206.5l2.8-.3M474.4 189.8l2.1-1.9M488.1 174.6l1.6-2.5M465.5 67l-2.6-1.5M382.2 71.2l-2.4 1.8M368.6 83.9l-1.9 2.3M362.1 173.6l1.6 2.5M478.2 190.2l2.2-2M483.9 184.5l1.9-2.2M506.5 133.4l-.1-3.1M491.4 86.7l-1.8-2.5M451.8 57.8l-3-1M413.5 55l-3.1 .6M387.6 64.4l-2.7 1.6M382.8 67.3l-2.5 1.8M370.1 77.9l-2.1 2.3M359.7 175.1l1.7 2.6M421.4 212.4l3.1 .1M499.8 94.8l-1.6-2.9M495.4 87.4l-1.9-2.7M490.2 80.5l-2.1-2.4M473.2 65.1l-2.7-1.7M455.4 56l-3.1-1M383.7 63.4l-2.7 1.7M355.8 174.2l1.7 2.7M358.8 179l1.9 2.7M390.9 207l2.9 1.4M468.1 204.5l2.7-1.7M484.1 192.5l2.3-2.3M500.8 90.8l-1.6-2.7l-1.7-2.6M490.4 76.4l-2.2-2.4M436.2 48.6l-3.3-.2M424.3 48.2l-3.3 .2M358.4 83.1l-1.9 2.7M374.6 200.1l2.7 2M494.5 76.9l-2.2-2.6M476.4 60.5l-2.9-1.9M499.8 182.5l1.9-2.9M514.5 142.6l.3-3.5M517.7 130.2l-.1-3.5"/>
<path stroke="#808000" d="M494.8 126.2l-.3-2.6M493.7 119.2l-.6-2.6M378.2 85.8l-1.7 1.8l-1.6 2M372.1 93.1l-1.5 2.2M408.2 198.6l2.6 .7M480.7 175.2l1.6-2.1M444.4 64.4l-2.7-.6M412.5 63.8l-2.7 .6M369.8 91.4l-1.6 2.3M363.3 164.1l1.3 2.5M484.4 175l1.6-2.3M419.5 59.9l-2.8 .3M411.9 61l-2.8 .7M406.9 62.3l-2.7 .8M388.2 70.6l-2.5 1.6M401.7 202.4l2.8 1M496 99.8l-1.4-2.7M490.7 90.5l-1.8-2.4M484.1 82.1l-2-2.2M365.3 88.1l-1.8 2.4M400.8 205.1l2.8 1M472 195.2l2.4-1.8M494.5 91.3l-1.7-2.6M469.3 66l-2.7-1.6M402.7 57.6l-2.9 1.1M378.4 70.5l-2.3 1.9l-2.2 1.9M364.6 84.2l-1.8 2.5M361.2 177.5l1.8 2.5M480.1 70.3l-2.5-2M362.4 82.4l-1.9 2.6M362.2 183.7l2 2.5M421.2 215.2l3.2 .2M455.1 210.5l3-1.1M497.7 85.8l-1.9-2.7M488.4 74.3l-2.4-2.4M481.9 68.2l-2.6-2.1M474.8 62.8l-2.8-1.8M427.3 48.2l-3.3 0M360 185.4l2 2.5l2 2.3M488.2 192.4l2.2-2.4M500.1 84.2l-2-2.8M358 79l-2.1 2.7M498.1 185l2-2.8M494.6 72.7l-2.4-2.6M514.2 158.4l.9-3.4"/>
<path stroke="#996600" d="M477.8 87.8l-1.8-2M383.5 81l-2.1 1.7M359.4 140.2l.3 2.6M362.3 154.1l.9 2.5M365.9 162.9l1.2 2.4M373.4 175l1.6 2.1M383.2 185.3l2.1 1.6M424.6 201.2l2.5 .1l2.5-.1M479.2 177.1l1.6-2.1M494.8 140.5l.2-2.7M470.9 77.4l-2.2-1.6M437.1 63l-2.7-.3M396.2 69.4l-2.5 1.3M376.2 83.8l-1.9 2.1M422 203.9l2.8 .2M434.4 203.7l2.7-.3M486.8 90l-1.6-2.2l-1.7-2.1M472.6 75.2l-2.3-1.7M461.9 68.2l-2.5-1.3l-2.5-1.1M427.3 59.5l-2.9 0M377.9 78.3l-2.1 2M353.4 133l0 2.9M364.5 172.1l1.6 2.5M379.6 189.6l2.2 1.8M456.9 200.6l2.7-1.2M483.5 180.7l1.8-2.2M489.1 88.3l-1.8-2.4M482.3 80.1l-2.1-2.1M366.9 85.9l-1.8 2.4M356.2 104.4l-1.1 2.8M391 200.7l2.7 1.4M421.6 209.6l3 .1M462.9 200.9l2.6-1.5M488.9 178.3l1.8-2.4M484.3 78.2l-2.2-2.2M480.3 74.3l-2.3-2M471.6 67.5l-2.6-1.7M466.9 64.5l-2.7-1.5M454.4 58.7l-2.9-1.1M397.5 59.5l-2.8 1.2M375.9 193.9l2.5 2M491.2 180l1.8-2.5M493.7 85l-1.9-2.6M484.3 74.2l-2.3-2.2M475.6 66.8l-2.7-1.9M460.7 58.2l-3-1.3M433 51.2l-3.2-.2M424.4 51l-3.2 .2M418.7 51.4l-3.2 .4M404.6 54.1l-2.9 .9l-2.9 1M368.1 76l-2.2 2.3M415.5 214.6l3.2 .4M426.9 215.4l3.2 0M432.7 215.2l3.2-.3M441.2 214.2l3.2-.6M508.8 142l.3-3.2M403.8 51.4l-3.1 1M514.8 127.3l-.3-3.5M460.2 51.8l-3.2-1.2M515.9 114.5l-.8-3.4M368.9 63.6l-2.6 2.3M459.3 45.4l-3.5-1.2"/>
<path stroke="#b34c00" d="M479.3 89.6l-1.7-2.1M393.2 74.2l-2.3 1.3M366 103.2l-1.1 2.4M388.9 189.6l2.2 1.4M448 198l2.5-.9M467 188.4l2.1-1.6M464.8 73.2l-2.4-1.5M439.6 63.4l-2.8-.4M374.5 85.6l-1.8 2.1M412.2 202.5l2.7 .6M429.4 204.1l2.8-.2M485.8 173l1.5-2.4M383.9 73.5l-2.3 1.7M372.4 83.8l-1.9 2.1M367.5 89.7l-1.6 2.4M368.9 178.5l1.8 2.2M414.1 205.8l2.9 .4M452.2 202.5l2.7-1M496.3 158.6l1-2.8M500 109.7l-1-2.8M360.9 94.8l-1.5 2.6M429.6 209.7l2.8-.1l2.9-.3M440.7 211.4l3.1-.6M489.6 182.2l1.8-2.5M508.9 124.8l-.4-3.2M407.4 53.4l-3.1 .8M439.1 49l-3.3-.4M499.1 178.4l1.7-2.8M509.7 103.3l-1.2-3.2M498.3 81.7l-2.1-2.7M442.5 46.7l-3.4-.5M361.9 74.3l-2.2 2.6M490.2 194.4l2.3-2.5M498.7 77.5l-2.2-2.7M390.4 50.3l-3.2 1.5"/>
<path stroke="#cc3300" d="M487.3 101.4l-1.3-2.4M471 81.1l-2.1-1.6M452.7 70.1l-2.5-.9M436.7 65.8l-2.6-.3M422.5 65.3l-2.7 .2M408.5 67.7l-2.6 .8M385.3 79.5l-2.1 1.6M370.6 171.1l1.5 2.2M392.9 192.1l2.4 1.3M401.5 196.3l2.3 .9l2.4 .8M412.8 199.8l2.6 .5M458.9 193.4l2.4-1.3M474.3 182.3l1.9-1.9M474.7 80.6l-2-1.7l-2.1-1.7M387.6 74.3l-2.3 1.6M359.6 155l.9 2.6M431.9 203.9l2.8-.2M444.1 202l2.7-.7M472.6 187.6l2.1-1.8M478 182.6l1.9-2.1M482 84l-2-2.1M468.5 72.2l-2.5-1.6M376 80.1l-2 2M369.1 87.7l-1.7 2.3M353.4 130.5l0 2.9M375.8 186.1l2.1 2M394.6 199.4l2.7 1.2M409.1 204.7l2.8 .7M480.4 78.2l-2.1-1.9l-2.1-1.8M429.9 56.7l-3-.1M406.2 59.6l-2.9 .8M384.4 69.6l-2.4 1.8M366.7 180.2l1.9 2.3M411 208.1l3 .5M453.1 205.2l2.8-1.1M459.5 60.7l-2.8-1.2M430 53.9l-3.1-.1M390 63l-2.7 1.5M385.2 65.8l-2.6 1.7M372.1 76l-2.2 2.2M392.2 204.5l2.8 1.3M435.2 212.2l3.1-.4M484.1 188.5l2.1-2.3M488.3 78.3l-2.1-2.2l-2.1-2.2M374.4 70.1l-2.4 2.1M370.1 73.9l-2.3 2.3M366.1 78.1l-2 2.3l-1.9 2.3M360.5 181.4l1.9 2.6M472.9 201.5l2.7-1.9M488.1 188.3l2.1-2.4M491.8 184l1.9-2.6M496.7 176.9l1.7-2.7M415.1 217.4l3.3 .4M438.8 217.4l3.2-.5M495.8 183.3l1.9-2.7M454.4 49.7l-3.3-1M400.1 49.6l-3.2 1.1M470.9 209.4l2.9-1.8M500.9 75.8l-2.3-2.9"/>
<path stroke="#e61900" d="M472.8 82.7l-2.1-1.7M459.2 73.2l-2.4-1.2M450.5 69.3l-2.5-.9M439.1 66.2l-2.7-.4M420.1 65.5l-2.6 .3M397.4 72l-2.3 1.1l-2.2 1.2M361 149.5l.7 2.6M379.7 182.1l2 1.8M390.9 190.9l2.3 1.3M405.9 197.9l2.6 .8M434.1 200.9l2.6-.3M438.8 200.3l2.6-.5M461 192.2l2.3-1.3M476.5 82.3l-2.1-1.9M414.9 63.3l-2.7 .6M385.5 75.8l-2.2 1.6M361.3 159.6l1.1 2.6M374.3 180.5l1.9 2.1M409.8 202l2.7 .6M424.5 204.1l2.7 0M439.3 203.1l2.7-.6M462.4 194.7l2.4-1.5M466.6 192.1l2.3-1.6M488.3 92.1l-1.6-2.4M437.5 60.2l-2.8-.3M404.5 63l-2.6 .9l-2.6 1M397.3 65.8l-2.7 1.2M390.4 69.3l-2.5 1.5M374.2 81.9l-2 2.1M374 184.3l2 2M383.6 192.8l2.4 1.6M476.3 188.1l2.1-2M490.9 170.2l1.4-2.5M497.2 156.1l.8-2.7M411.3 58.3l-2.9 .7M378 74.5l-2.2 1.9M372.1 79.9l-2 2.2M465.2 199.6l2.6-1.6M457 59.7l-2.9-1.2M374.1 74.1l-2.3 2.1M368.2 80l-2 2.3M373.9 192.1l2.3 2M387.3 201.9l2.7 1.5M464.2 203.4l2.7-1.5M469 200.6l2.6-1.7M492.8 177.7l1.7-2.6M468.4 62.1l-2.9-1.6M415.8 51.8l-3.1 .5M374.1 196.1l2.5 2M435.5 215l3.2-.4M465.5 205.9l2.9-1.6M494.2 81l-2.1-2.6M479.6 66.3l-2.7-2M382.2 61l-2.8 1.8M370.3 69.9l-2.4 2.2M421 218l3.3 .2M397.2 50.6l-3.2 1.2M483.1 61.8l-2.8-2.1M475.3 56.4l-3-1.8"/>
<path stroke="#ff0000" d="M429.6 65.2l-2.6-.1M424.9 65.2l-2.7 .1M391.1 75.4l-2.1 1.4l-1.9 1.3l-2 1.5M378 180.4l1.9 1.9M417.5 200.6l2.6 .3M456.8 194.4l2.4-1.2M470.7 185.4l2.1-1.7M476 180.6l1.8-2M468.9 75.9l-2.2-1.5l-2.2-1.4M462.7 71.9l-2.4-1.4M427.2 62.3l-2.7 0M417.4 63l-2.8 .4M391.8 71.7l-2.4 1.5M383.6 77.2l-2.2 1.8M357.8 118.3l-.6 2.7M387.3 191.9l2.4 1.5M393.7 195.7l2.5 1.3M446.5 201.4l2.7-.8M468.7 190.6l2.2-1.6M476.5 78.5l-2.1-1.9M454.9 64.9l-2.7-1M445.1 61.7l-2.7-.6l-2.6-.5M435 59.9l-2.9-.3M399.6 64.8l-2.6 1.1M386 72l-2.4 1.6M381.6 191.2l2.3 1.7M444.8 204.8l2.8-.8M449.7 203.4l2.8-1M459.3 199.5l2.6-1.3M472.4 191.4l2.2-1.8M467.8 68.4l-2.6-1.6M458.4 63.3l-2.8-1.1M448.4 59.7l-2.9-.8M408.7 58.9l-2.9 .8M393.7 64.3l-2.7 1.4M373.8 188.2l2.2 2M377.8 191.7l2.3 1.9M408.4 207.4l2.9 .7M418.9 209.3l3 .3M445.5 207.5l2.9-.8M450.6 206.1l2.8-1M467.5 198.2l2.5-1.6M474.1 193.6l2.2-1.8l2.1-1.8M486.2 80.2l-2.1-2.3M476.1 70.7l-2.5-1.8M435.6 54.3l-3.1-.3M408.1 56.1l-3 .8M380.6 68.9l-2.5 1.8M368 186.2l2.1 2.3M402.4 208.6l3 1M413.2 211.4l3 .4M443.4 210.9l3.1-.7M448.8 209.6l3-1M482.1 190.4l2.2-2.2M463.3 59.4l-2.9-1.4M386.1 61.9l-2.7 1.7M381.3 64.9l-2.7 1.9M378.6 199.6l2.7 1.9M401.5 211.3l3.1 1M407 212.9l3 .7l3 .6M452.3 211.4l3.1-1M456.4 53.3l-3.2-1M445 50.1l-3.3-.7M418.4 48.6l-3.3 .4M401 52.3l-3.2 1M387.3 58l-2.9 1.6M372.6 67.9l-2.5 2.2M368.2 71.9l-2.4 2.4M363.8 190l2.2 2.4M435.8 217.8l3.3-.4M497.5 180.9l1.8-2.8M500.7 175.9l1.6-2.9M496.5 79.2l-2.2-2.6M486 68l-2.6-2.2M478.9 62.2l-2.8-2M473.8 58.8l-2.9-1.8M468.5 55.7l-2.9-1.5l-2.8-1.3l-3-1.2M424.2 45.4l-3.4 .2M375.6 62l-2.7 2.1M366.2 69.9l-2.4 2.4M483.4 200.6l2.6-2.2M458.3 48l-3.4-1.1M462.3 46.6l-3.4-1.4"/>
<path stroke="#e50000" d="M446 67.8l-2.6-.7M413.1 66.6l-2.6 .6M395 193.2l2.3 1.2l2.2 1M450.2 197.2l2.5-.9M468.9 186.9l2.1-1.6M446.8 65.1l-2.7-.7M419.8 62.7l-2.7 .3M410.1 64.4l-2.7 .7M372.7 178.7l1.8 2.1M381.4 187.4l2.2 1.8M391.5 194.5l2.4 1.4M398.1 197.9l2.6 1.1M419.5 203.7l2.8 .2M451.2 199.9l2.6-1M432.4 59.7l-2.9-.2M392.6 68l-2.5 1.4M419.2 206.5l2.8 .3l2.7 .1M470.3 192.9l2.3-1.7M478.2 186.3l2-2M470 69.8l-2.5-1.6M416.6 57.4l-3 .4M396.1 63.2l-2.7 1.3M389 66.8l-2.6 1.6M376 76.2l-2.2 2M405.8 206.7l2.9 .8M416.3 209l3 .4M437.6 209l3-.4M455.6 204.2l2.8-1.1M482.1 186.5l2-2.2M485.6 182.5l1.9-2.3M410.8 55.5l-3.1 .7M456.7 206.9l2.8-1.2M498.4 168.1l1.3-2.8M482.2 72.2l-2.4-2.1M430.1 51l-3.2 0M396.5 56.9l-3 1.3M372.2 72l-2.3 2.2M369.9 192.2l2.3 2.2M385.8 204.3l2.7 1.5l2.7 1.4M412.7 214.1l3.1 .5M424.1 215.4l3.2 0M457.7 209.5l3-1.3M482 194.4l2.3-2.2M486.3 72.1l-2.4-2.2M447.8 50.7l-3.2-.7M395.4 54.3l-3.1 1.3M390 56.7l-3 1.5M384.7 59.5l-2.8 1.7M374.9 66.1l-2.6 2.1M370.1 196.3l2.5 2.2M381.9 205.2l2.8 1.7M409.2 216.3l3.3 .7M453.2 214.1l3.2-1M457.3 50.7l-3.2-1.1M490.2 68.1l-2.6-2.4"/>
<path stroke="#cc0000" d="M454.9 71.1l-2.4-1.1M385.1 186.8l2.1 1.6M465 189.7l2.2-1.5M491.9 104.5l-1.1-2.5M429.7 62.3l-2.7 0M405.3 65.7l-2.6 .9M400.4 198.9l2.6 1M417.1 203.4l2.7 .3M385.7 194.2l2.5 1.6M416.7 206.2l2.8 .3M442.3 205.4l2.8-.7M461.6 198.4l2.5-1.4M480 184.5l2-2.1M476.4 74.7l-2.3-1.9M435.3 57.1l-3-.3M398.6 62.2l-2.8 1.1M371.9 186.3l2.1 2.1M388.7 199.4l2.6 1.5M413.6 208.6l3 .4M426.9 209.8l3-.1M438.3 54.6l-3.1-.4M421.7 54l-3.1 .3M392.4 61.8l-2.7 1.4M364.4 181.9l2 2.5M378.1 195.7l2.5 1.8M418.6 212.1l3.1 .3M473.6 197.5l2.5-1.8M465.8 60.7l-2.8-1.5M449.9 54.2l-2.9-.8l-3-.7M410.2 52.7l-3.2 .8M372 194.2l2.4 2.1M381 201.3l2.7 1.7M398.8 210.4l3.1 1M479.8 196.3l2.4-2.1M467.2 58.2l-3-1.5M450.7 51.5l-3.2-.9M418 217.8l3.3 .2M432.9 218l3.3-.2M444.6 216.4l3.2-.7M466.9 208.4l2.9-1.6M492.1 188l2.1-2.6M492.5 74.5l-2.3-2.5M483.7 66l-2.6-2.2M451.5 48.8l-3.3-.9M436.5 45.8l-3.5-.3M386 55.5l-3 1.7M368.4 67.8l-2.5 2.3M436.1 220.6l3.4-.4M480.6 59.9l-2.9-2M467 51.8l-3.2-1.5"/>
<path stroke="#b20000" d="M461.3 74.3l-2.4-1.3M374.9 176.8l1.6 2l1.7 1.8M387 188.2l2.2 1.5M453.5 199l2.6-1.1M474.4 186l2.1-1.9M432.1 206.8l2.9-.3M454.6 201.6l2.6-1.1M374 78l-2.1 2.1M382 195l2.3 1.7l2.4 1.5M393.4 201.9l2.7 1.3M398.3 204.1l2.8 1.1M424.3 209.7l3 .1M469.8 196.8l2.4-1.8M427.3 53.8l-3.1 .1M400.1 58.5l-2.9 1.2M366.4 82l-2 2.5M429.7 212.5l3.1-.1M446.1 210.3l3-.8M388.7 60.5l-2.9 1.6M364 185.9l2.1 2.4M393.5 208.2l3 1.3M446.8 213l3.1-.8M463 207.2l2.8-1.5M412.5 49.4l-3.3 .7M398.2 53.2l-3.1 1.2M379.7 62.6l-2.7 1.9M372.3 198.2l2.6 2.1M377 201.9l2.7 1.9M412.2 216.9l3.2 .5M456 213.2l3.1-1.2M476.9 202.1l2.7-2M403.1 48.7l-3.3 1"/>
<path stroke="#990000" d="M469.1 79.6l-2.1-1.6M381.4 183.7l2.1 1.7M399.3 195.3l2.4 1.1M431.7 201.1l2.7-.2M458.3 69.5l-2.5-1.1M378 82.1l-2 2M414.6 203l2.8 .4M458 197l2.5-1.3M457.2 65.9l-2.6-1.1M381.8 75l-2.2 1.8M486.7 176.7l1.6-2.4M460.8 64.5l-2.7-1.3M419.3 57l-3 .4M414 57.8l-3 .5M432.8 54l-3.1-.1M459.2 205.8l2.8-1.3M383.4 202.8l2.7 1.7M444 213.7l3.2-.8M449.6 212.3l3.1-1M469.8 59.6l-2.9-1.6M433.2 48.4l-3.3-.2M409.6 50l-3.2 .7M424 218.2l3.3 0M501.7 86.8l-1.9-2.9M471.2 57.2l-3-1.7"/>
<path stroke="#800000" d="M419.8 200.9l2.7 .2M463.1 191l2.2-1.4M456.1 68.5l-2.6-1.1M449.2 65.8l-2.7-.8M414.4 60.6l-2.8 .5M377.7 187.9l2.1 1.9M440.6 57.8l-3-.4M403.6 60.3l-2.8 1M458.1 203.2l2.7-1.3M367.8 190.2l2.3 2.3M389.7 209.6l2.8 1.3l2.9 1.2M474.5 203.8l2.7-1.9"/>
<path stroke="#660000" d="M373.5 91.2l-1.6 2.1M483.1 89.7l-1.8-2.2M448.9 200.7l2.6-.9M480.2 82.1l-2-2M379.8 76.6l-2.1 1.9M466 195.8l2.5-1.6M368.4 182.3l1.9 2.2M440.2 208.6l3-.5M462 61.9l-2.8-1.3M449.1 56.9l-3-.8M389.7 203.2l2.7 1.4M424.2 212.5l2.9 .1l2.9-.1M444.4 52.8l-3.2-.6M477.2 64.5l-2.7-1.9M430.2 48.2l-3.3 0M367.9 194.3l2.4 2.2M441.7 217l3.3-.7M481.6 198.5l2.5-2.2M427.3 45.3l-3.5 .1M409 47.2l-3.3 .8"/>
<path stroke="#4c0000" d="M400.7 67.4l-2.4 1l-2.4 1.1M371.1 176.7l1.8 2.2M427 204.1l2.7 0M483.7 85.9l-1.9-2.1M447.3 204.1l2.7-.8M395.8 203.1l2.8 1.1M489.8 84.5l-2-2.5M446.5 56.2l-3.1-.7M419 54.2l-3.1 .4M382.6 198.9l2.4 1.6l2.6 1.5M466.6 202l2.7-1.6M471.4 199.1l2.5-1.8M475.8 195.9l2.5-2M452.7 55.1l-3.1-1M413 52.2l-3.2 .6M391.2 59.2l-2.8 1.5M384.4 206.8l2.9 1.6M472 205.4l2.8-1.8M496.7 75l-2.3-2.6"/>
<path stroke="#330000" d="M463.3 75.5l-2.3-1.3M404 69.2l-2.5 .9M434.7 62.7l-2.8-.2M476.2 184.3l2-2M466.3 70.8l-2.5-1.5M387.9 195.6l2.5 1.5M371.8 190.2l2.3 2.1M405.1 209.5l3 .8M427.3 51l-3.2 0M378.9 66.6l-2.6 1.9M377.3 64.3l-2.7 2M450.4 215l3.1-1M494 185.7l2-2.7M473.5 207.8l2.9-1.9"/>
<path stroke="#190000" d="M432 65.3l-2.7-.1M415.1 200.2l2.7 .4M422.2 201.1l2.7 .1M389.4 193.2l2.4 1.5M437.2 206.2l2.9-.4M472.2 71.4l-2.4-1.8M424.5 53.9l-3.1 .1M395 60.6l-2.8 1.3M397.2 206.7l2.7 1.1l2.8 1M470.8 63.6l-2.7-1.7M429.9 218.2l3.3-.2"/>
<path stroke="#000000" d="M436.4 200.6l2.7-.4M472.5 183.9l2-1.8M385.3 190.5l2.3 1.6M405 200.6l2.7 .8M411.6 205.3l2.8 .5M474.4 73l-2.4-1.8M450.9 60.4l-2.9-.8M434.9 209.4l3-.4M460.5 202.1l2.7-1.4M416.2 54.6l-3 .4M366.2 184.1l2 2.3M410.4 210.8l3.1 .6M415.9 211.8l3.1 .4M438 211.8l3-.4M454.1 207.9l2.9-1.2M399.1 55.9l-3 1.1M396.1 209.4l3 1.1M429.8 215.4l3.2-.2M379.4 203.6l2.8 1.8M397.8 213.1l3.2 1M481.3 64.1l-2.7-2.1M426.9 221.1l3.5-.1"/>
</g>
<circle cx="427.1" cy="133.2" r="65.05" fill="none" stroke="#0000f8" stroke-width="4.3"/>
<circle cx="427.1" cy="132.8" r="92.4" fill="none" stroke="#e80010" stroke-width="1.3" stroke-dasharray="2.4 0.3"/>
<path d="M435.1 40.7A92.4 92.4 0 0 1 519.5 136.8" fill="none" stroke="#f00010" stroke-width="1.9"/>
<rect x="322.06" y="28.16" width="210.08" height="210.08" fill="none" stroke="#000" stroke-width="2"/><path d="M326.10 28.16v3.10M326.10 238.24v-3.10M322.06 234.20h3.10M532.14 234.20h-3.10M330.14 28.16v3.10M330.14 238.24v-3.10M322.06 230.16h3.10M532.14 230.16h-3.10M334.18 28.16v3.10M334.18 238.24v-3.10M322.06 226.12h3.10M532.14 226.12h-3.10M338.22 28.16v3.10M338.22 238.24v-3.10M322.06 222.08h3.10M532.14 222.08h-3.10M342.26 28.16v3.10M342.26 238.24v-3.10M322.06 218.04h3.10M532.14 218.04h-3.10M346.30 28.16v5.40M346.30 238.24v-5.40M322.06 214.00h5.40M532.14 214.00h-5.40M350.34 28.16v3.10M350.34 238.24v-3.10M322.06 209.96h3.10M532.14 209.96h-3.10M354.38 28.16v3.10M354.38 238.24v-3.10M322.06 205.92h3.10M532.14 205.92h-3.10M358.42 28.16v3.10M358.42 238.24v-3.10M322.06 201.88h3.10M532.14 201.88h-3.10M362.46 28.16v3.10M362.46 238.24v-3.10M322.06 197.84h3.10M532.14 197.84h-3.10M366.50 28.16v3.10M366.50 238.24v-3.10M322.06 193.80h3.10M532.14 193.80h-3.10M370.54 28.16v3.10M370.54 238.24v-3.10M322.06 189.76h3.10M532.14 189.76h-3.10M374.58 28.16v3.10M374.58 238.24v-3.10M322.06 185.72h3.10M532.14 185.72h-3.10M378.62 28.16v3.10M378.62 238.24v-3.10M322.06 181.68h3.10M532.14 181.68h-3.10M382.66 28.16v3.10M382.66 238.24v-3.10M322.06 177.64h3.10M532.14 177.64h-3.10M386.70 28.16v5.40M386.70 238.24v-5.40M322.06 173.60h5.40M532.14 173.60h-5.40M390.74 28.16v3.10M390.74 238.24v-3.10M322.06 169.56h3.10M532.14 169.56h-3.10M394.78 28.16v3.10M394.78 238.24v-3.10M322.06 165.52h3.10M532.14 165.52h-3.10M398.82 28.16v3.10M398.82 238.24v-3.10M322.06 161.48h3.10M532.14 161.48h-3.10M402.86 28.16v3.10M402.86 238.24v-3.10M322.06 157.44h3.10M532.14 157.44h-3.10M406.90 28.16v3.10M406.90 238.24v-3.10M322.06 153.40h3.10M532.14 153.40h-3.10M410.94 28.16v3.10M410.94 238.24v-3.10M322.06 149.36h3.10M532.14 149.36h-3.10M414.98 28.16v3.10M414.98 238.24v-3.10M322.06 145.32h3.10M532.14 145.32h-3.10M419.02 28.16v3.10M419.02 238.24v-3.10M322.06 141.28h3.10M532.14 141.28h-3.10M423.06 28.16v3.10M423.06 238.24v-3.10M322.06 137.24h3.10M532.14 137.24h-3.10M427.10 28.16v5.40M427.10 238.24v-5.40M322.06 133.20h5.40M532.14 133.20h-5.40M431.14 28.16v3.10M431.14 238.24v-3.10M322.06 129.16h3.10M532.14 129.16h-3.10M435.18 28.16v3.10M435.18 238.24v-3.10M322.06 125.12h3.10M532.14 125.12h-3.10M439.22 28.16v3.10M439.22 238.24v-3.10M322.06 121.08h3.10M532.14 121.08h-3.10M443.26 28.16v3.10M443.26 238.24v-3.10M322.06 117.04h3.10M532.14 117.04h-3.10M447.30 28.16v3.10M447.30 238.24v-3.10M322.06 113.00h3.10M532.14 113.00h-3.10M451.34 28.16v3.10M451.34 238.24v-3.10M322.06 108.96h3.10M532.14 108.96h-3.10M455.38 28.16v3.10M455.38 238.24v-3.10M322.06 104.92h3.10M532.14 104.92h-3.10M459.42 28.16v3.10M459.42 238.24v-3.10M322.06 100.88h3.10M532.14 100.88h-3.10M463.46 28.16v3.10M463.46 238.24v-3.10M322.06 96.84h3.10M532.14 96.84h-3.10M467.50 28.16v5.40M467.50 238.24v-5.40M322.06 92.80h5.40M532.14 92.80h-5.40M471.54 28.16v3.10M471.54 238.24v-3.10M322.06 88.76h3.10M532.14 88.76h-3.10M475.58 28.16v3.10M475.58 238.24v-3.10M322.06 84.72h3.10M532.14 84.72h-3.10M479.62 28.16v3.10M479.62 238.24v-3.10M322.06 80.68h3.10M532.14 80.68h-3.10M483.66 28.16v3.10M483.66 238.24v-3.10M322.06 76.64h3.10M532.14 76.64h-3.10M487.70 28.16v3.10M487.70 238.24v-3.10M322.06 72.60h3.10M532.14 72.60h-3.10M491.74 28.16v3.10M491.74 238.24v-3.10M322.06 68.56h3.10M532.14 68.56h-3.10M495.78 28.16v3.10M495.78 238.24v-3.10M322.06 64.52h3.10M532.14 64.52h-3.10M499.82 28.16v3.10M499.82 238.24v-3.10M322.06 60.48h3.10M532.14 60.48h-3.10M503.86 28.16v3.10M503.86 238.24v-3.10M322.06 56.44h3.10M532.14 56.44h-3.10M507.90 28.16v5.40M507.90 238.24v-5.40M322.06 52.40h5.40M532.14 52.40h-5.40M511.94 28.16v3.10M511.94 238.24v-3.10M322.06 48.36h3.10M532.14 48.36h-3.10M515.98 28.16v3.10M515.98 238.24v-3.10M322.06 44.32h3.10M532.14 44.32h-3.10M520.02 28.16v3.10M520.02 238.24v-3.10M322.06 40.28h3.10M532.14 40.28h-3.10M524.06 28.16v3.10M524.06 238.24v-3.10M322.06 36.24h3.10M532.14 36.24h-3.10M528.10 28.16v3.10M528.10 238.24v-3.10M322.06 32.20h3.10M532.14 32.20h-3.10" stroke="#000" stroke-width="1.6" fill="none"/>
<text y="49.2" font-size="15" stroke="#000" stroke-width="0.75"><tspan x="476.6">E</tspan><tspan x="487.8" dy="3.8" font-size="23" font-style="italic" stroke-width="0.25">/</tspan><tspan x="496.1 506.4 513.4" dy="-3.8">Esw</tspan></text>
<text x="301.6" y="38.7" font-size="20.5" text-anchor="start" textLength="15.2" lengthAdjust="spacingAndGlyphs">a'</text>
<g fill="none" stroke-width="3.25">
<path stroke="#000099" d="M246.6 368.2l.1-3.1M238.4 406.6l1.6-2.9M240.9 408l1.6-2.9M247.2 394.6l1-3.2M256.7 349.7l-.7-3.4"/>
<path stroke="#0000b3" d="M245 349l-.7-3.1M240.8 395.2l1.2-2.9M243.6 387.3l.8-3M246.5 371l.1-3.1M244.6 337.3l-1.1-3M244.5 393.6l1-3.1M250.5 347.8l-.7-3.2M257.8 359.2l-.3-3.6M245.8 410.8l1.7-3.1M254.1 330.4l-1.4-3.3"/>
<path stroke="#0000cc" d="M235.2 370.2l.1-2.7M243.9 365.5l-.1-3M243.1 354.8l-.4-3M241.6 346.9l-.8-2.9M233.5 403.7l1.4-2.5l1.3-2.5M246.6 362.7l-.1-3.1M244.4 346.3l-.8-3M231.4 412.1l1.7-2.4l1.6-2.5M244.3 384.7l.7-2.9l.5-2.7l.4-2.9M247.8 348.4l-.8-3.2M236.9 409l1.7-2.7M241.1 401.5l1.4-2.9M245.4 390.9l.9-2.9l.8-3M248.7 376.9l.4-3l.2-2.9l.2-3M252.3 362.5l-.2-3.3M250.4 383.2l.7-3.3M252.1 371.4l.2-3.3M79.5 362l-.1 3.5M252.5 386.7l.8-3.3M254.3 377.7l.4-3.4M254.9 371.6l.2-3.2l.1-3.3M242.6 314.7l-2-2.9M244.1 413.5l1.8-3"/>
<path stroke="#0000e6" d="M235 358.3l-.3-2.6M232.8 346.7l-.8-2.6M234.3 377.3l.4-2.7M234 341.2l-1-2.6M232 394.3l1.1-2.6M238 370.4l.2-2.6l0-2.6M240.6 357.7l-.3-2.8M234.6 395.4l1.1-2.5l.9-2.5M238.1 385.8l.8-2.8M239.4 380.8l.5-2.8M240.3 375.7l.3-2.8M241 368l0-2.9M243.8 362.8l-.1-3M236 399l1.2-2.6l1.1-2.6M239.2 391.6l.9-2.6l.8-2.8M241.5 384l.7-2.8l.5-2.8M243.7 370.8l.1-3M246.7 365.5l-.1-3.1M241 335.7l-1.2-2.8M238.7 330.6l-1.4-2.7M234.5 407.5l1.6-2.5l1.3-2.4l1.3-2.5l1.1-2.5l1.2-2.7M241.8 392.6l1.1-2.9M245.9 376.5l.4-2.9l.2-2.9M246.4 342.8l-1-3.1M235.4 411.4l1.7-2.7M243.5 396.3l1.1-3M242.5 325.5l-1.6-2.9M82.5 359.2l-.2 3.3M237.7 413l1.7-2.6l1.6-2.7M242.3 405.4l1.5-3M244.9 400.1l1.3-3.1M249 388.9l.9-3.2M252.6 344.2l-.9-3.3M249.9 335.4l-1.2-3.2M247.6 329.7l-1.4-3.1M236.4 419.5l2-2.6l1.7-2.5l1.8-2.7M243.3 409.4l1.7-3M251.7 389.7l.9-3.3M253.2 383.7l.7-3.3M254.7 374.7l.3-3.5M257.9 362.3l-.1-3.5M250.2 328.6l-1.5-3.2M247.5 322.9l-1.7-2.9l-1.6-2.8l-1.8-2.8M230.4 300.2l-2.6-2.4M240.6 418.8l2-2.9M247.3 408l1.6-3.1M256.6 381.2l.5-3.5M257.9 368.7l.1-3.6M257.3 339.7l-1.1-3.5M252.8 327.4l-1.5-3.3M234.7 300.5l-2.4-2.5l-2.6-2.3M260.6 372l.2-3.6M80.8 322.9l-1.6 3.4M71.9 351.7l-.4 3.7M79.2 404.3l1.6 3.4M82.1 410.4l1.9 3.3M71 389.1l1 3.7"/>
<path stroke="#0000ff" d="M234.7 356l-.4-2.7M233.9 351.3l-.6-2.6M230.5 339.9l-1.1-2.4M229.4 393.1l1.1-2.4M231.2 388.7l.9-2.5M233.3 381.9l.6-2.6M234.7 374.9l.3-2.6M235.3 367.8l.1-2.6M238.2 363l-.2-2.6l-.2-2.7M237.5 355.6l-.4-2.6l-.4-2.4l-.6-2.6M234.8 343.5l-.9-2.6M233.1 338.9l-1.1-2.6M230 332.1l-1.4-2.4M231 396.5l1.1-2.5M233 392l.9-2.5l.8-2.3l.8-2.5M236.6 380.2l.6-2.7M237.8 372.9l.2-2.8M240.3 355.2l-.4-2.9M239.5 350.1l-.7-2.6l-.7-2.7M234.7 335.5l-1.1-2.5l-1.3-2.5M228.3 406.7l1.6-2.5M232.3 400.1l1.3-2.5l1.1-2.5M238.8 383.3l.7-2.8M240.6 373.2l.3-2.8l.1-2.7M243.7 360.1l-.3-2.8l-.3-2.8M242.7 352.2l-.5-2.8l-.7-2.8M240.9 344.4l-.8-2.9M239.3 339.3l-1.1-2.8M237.3 334.3l-1.2-2.6l-1.2-2.3l-1.4-2.5M91.9 378.4l.5 3M229.1 410.4l1.8-2.4M232.1 406l1.6-2.6M238.2 394.1l1.1-2.8M240.8 386.6l.8-2.9M243.4 373.5l.3-3M243.7 343.6l-.9-2.8l-1-2.8M239.9 333.2l-1.3-2.8M234.7 323.4l-1.7-2.6M242.7 390l1-3M249.5 365.5l0-3.1l-.2-3M248.3 351.2l-.6-3.2M247.1 345.6l-.8-3.1M242.5 332l-1.3-2.7l-1.4-2.7M235.6 319.5l-1.9-2.7M242.3 398.9l1.3-3M247 385.4l.8-3.2M251.1 350.7l-.7-3.3M249.9 344.9l-.9-3.2M248.2 339.2l-1-3l-1.1-2.9M243.8 328.2l-1.5-3M239.5 320.4l-1.7-2.7l-1.7-2.4l-1.8-2.4l-2-2.4M234.2 417.8l1.9-2.5l1.8-2.6M243.7 402.7l1.4-3M249.8 386l.7-3.2M251.5 377.3l.4-3.1l.2-3.1M255.2 365.5l-.1-3.5M253.3 347.2l-.8-3.3M251.8 341.3l-1-3.3M241.9 318.9l-1.9-2.9M238.5 313.8l-2.1-2.7M79.7 359l-.2 3.4M241.7 412l1.8-2.9M244.8 406.7l1.6-3M248.7 398.4l1.2-3.2M250.8 392.6l1-3.3M252.6 334.5l-1.3-3.4M248.9 325.7l-1.6-3.1M240.8 312.1l-2-2.6l-2.1-2.6M234.8 304.8l-2.4-2.6M228.1 298l-2.6-2.3M92 415.9l2 2.9M230.2 430.7l2.5-2.5M236.7 423.7l2.2-2.7M242.4 416.2l1.9-3M248.7 405.2l1.5-3l1.3-3.1M256 384.3l.7-3.4M257.1 378.1l.4-3.3l.3-3.4M251.4 324.5l-1.5-3.1l-1.6-2.9l-1.7-2.8l-1.8-2.7l-1.8-2.7l-2-2.6l-2.1-2.5l-2.1-2.5l-2.4-2.5M230 295.9l-2.6-2.2l-2.5-2.1l-2.6-2l-2.7-1.8l-2.7-1.8l-2.8-1.7l-2.9-1.6l-2.9-1.5l-3-1.3l-3-1.3l-3-1.2l-3.1-1l-3.1-1l-3.2-.8l-3.2-.8l-3.4-.6M123.2 447.8l3.3 1.6M157.3 458.3l3.7 .3M167.1 458.8l3.7 0M180.1 457.9l3.6-.5M119.3 281.8l-3.2 1.9M78 329l-1.3 3.5M74.7 338.5l-.9 3.7M73.1 345.1l-.7 3.5l-.5 3.5M71.5 375.2l.4 3.7M75.6 394.9l1.2 3.4l1.2 3.3M83.8 413.3l1.9 3.2M87.3 419l2 2.9l2.2 2.9M259.9 392.1l.9-3.7M259.3 328.3l-1.4-3.3l-1.5-3.4M117.9 279.3l-3.3 2M72 337.8l-.9 3.5l-.8 3.4l-.7 3.4l-.5 3.6M68.6 375.5l.5 3.8M72.9 395.8l1.2 3.4l1.3 3.4M78.1 408.6l1.6 3.3l1.8 3.2M266.3 340.8l-1-3.8M70.2 396.6l1.3 3.8M245.3 431l2.5-3.1M249.7 425.4l2.2-3.1l2-3.1M260.4 407l1.6-3.7"/>
<path stroke="#001ae5" d="M235.4 365.4l-.1-2.6M234.4 353.6l-.5-2.6M233.4 349l-.7-2.6M229.5 337.7l-1-2.2l-1.2-2.3M228.4 395.3l1.1-2.4M230.4 390.9l.9-2.5M232 386.5l.8-2.6M233.9 379.6l.5-2.6M235 372.6l.2-2.7M238.2 365.4l0-2.7M237.8 358l-.3-2.7M236.1 348.3l-.6-2.5l-.8-2.6M232.1 336.6l-1.1-2.4l-1.2-2.3M229.8 398.7l1.3-2.5M236.1 382.6l.6-2.7M237.1 377.8l.4-2.6l.3-2.6M239.9 352.6l-.5-2.8M238.2 345.1l-.8-2.7M236.6 340.2l-.9-2.5l-1.1-2.5M232.5 330.8l-1.3-2.4l-1.5-2.3M229.7 404.5l1.5-2.5M236.5 390.7l.9-2.6l.8-2.6M239.9 378.3l.4-2.9M240.2 341.8l-1-2.8M232.3 324.9l-1.6-2.5M230.7 408.2l1.6-2.5M242.7 378.8l.4-2.8l.4-2.9M243.8 368.1l.1-3M246.5 359.9l-.3-3.1M245.9 354.4l-.4-2.9l-.6-2.9M242 338.3l-1.2-2.9M237.5 328.2l-1.5-2.7M233.2 321l-1.8-2.5M88.4 356.8l-.3 3.1M88.7 376.2l.4 3M228 416.5l2-2.5M249.1 356.9l-.4-3.2M245.5 340.1l-1-3.1M243.6 334.7l-1.3-3M240 326.9l-1.6-2.9M237.1 321.9l-1.7-2.7M230.2 418.3l2-2.5M239.8 404l1.5-2.8M247.7 382.6l.6-3.2M249.5 368.3l0-3.2M252.3 365.5l0-3.3M252.1 359.5l-.2-3.3M249.1 342l-1-3.1M246.2 333.6l-1.3-3.1M82.5 371.1l.2 3.3M246.1 397.3l1.2-3.1M248.1 391.7l1-3.1M251 380.2l.5-3.2M255 359.4l-.3-3.5M248.8 332.6l-1.3-3.2M245 324.2l-1.6-2.8l-1.7-2.8M240.3 316.3l-2-2.8M234.7 309l-2.2-2.6M88.2 403.7l1.6 3M228.2 428.6l2.4-2.4M234.5 421.9l2.2-2.6M246.2 404l1.4-3l1.2-3M249.8 395.5l1.1-3.2M253.8 380.7l.5-3.4M258 365.5l-.1-3.6M257.1 352.9l-.5-3.5M256.1 346.6l-.8-3.2l-.8-3.1l-1-3.2M251.5 331.5l-1.4-3.3M76.8 371.4l.3 3.6M85.7 404.9l1.5 3l1.6 2.9M90.3 413.2l1.9 3M253.5 393.5l1-3.2l.8-3.1l.8-3.2M255.3 333.5l-1.4-3.4M100.2 300.2l-2.5 2.7M93.7 307.6l-2.2 2.9M89.7 417.4l2.1 3M126.1 449.3l3.3 1.5M163.8 458.8l3.7 0M80.6 407.4l1.7 3.3M85.5 416.2l2 3.1M91.2 424.5l2.4 2.9M181.3 267.1l-3.8-.5M120.9 277.6l-3.4 1.9M71.9 392.4l1.1 3.7M264.4 334l-1.3-3.8"/>
<path stroke="#0033cc" d="M235.3 363.1l-.1-2.5l-.2-2.6M232.1 344.4l-.8-2.4l-.9-2.3M227.5 333.5l-1.3-2.4M101.9 346.4l-.7 2.6M99.9 355.7l-.3 2.6M99.2 365.2l.1 2.6M100.7 379.3l.6 2.6M223.7 403.5l1.3-2.1l1.3-2.2M232.7 384.2l.7-2.6M226.2 325.8l-1.6-2.3M98 350.4l-.6 2.7M96.4 365.2l0 2.7M97.4 377.5l.6 2.7M98.5 382.3l.7 2.7M224.6 407.1l1.5-2.2l1.4-2.2M228.6 400.9l1.4-2.4M235.4 385l.7-2.7M241 365.5l0-2.8l-.1-2.5l-.3-2.8M237.5 342.7l-1-2.8M95.8 347.3l-.7 2.8M94.3 354.9l-.3 2.8M93.6 362.6l0 2.7l0 2.6l.2 2.7M94 372.9l.3 2.8M94.7 378l.5 2.8M95.7 383l.8 2.8M223.7 412.8l1.7-2.1l1.5-2.1l1.6-2.2M231.1 402.3l1.4-2.5M238.3 336.8l-1.1-2.8M233.7 327.2l-1.6-2.6M229.3 320.4l-1.8-2.4M94.5 341.5l-.8 2.9M93.1 346.6l-.7 2.9M91.2 357.1l-.3 3M91.1 373.1l.4 2.9l.4 2.8M92.4 381.1l.6 2.7l.8 2.8M94.4 388.8l1 2.7l1 2.6M246.3 357.2l-.4-3.1M236.1 325.8l-1.6-2.7M231.6 318.8l-1.8-2.5M101.6 320.8l-1.7 2.6M94.8 332.9l-1.2 2.8M87.9 365.1l.1 3.1M89.1 378.9l.6 3.1M229.8 414.3l1.8-2.5M233.9 317.1l-1.9-2.6M94.8 326.6l-1.5 2.8M91.1 334.3l-1.1 2.9l-.9 2.7l-.9 2.9M87.6 345.2l-.8 3.2M85.1 362.3l0 3.2M85.1 368l.2 3l.3 3.1M92.1 398.6l1.4 2.9M228.3 420.4l2.1-2.4M233.7 413.8l1.9-2.7M248.2 379.7l.5-3.1M251.5 353.6l-.5-3.2M245.1 330.9l-1.4-3M241 322.9l-1.7-2.8M230.6 308.5l-2.2-2.4M90.9 327.9l-1.3 2.8l-1.1 2.7l-1.2 3M84.8 344.6l-.7 3.2M82.7 356.2l-.2 3.3M82.3 362.2l0 3.3M87.3 394.2l1.2 3.1M90.8 402.4l1.5 3M226.2 426.6l2.4-2.4M232.3 420.1l2.1-2.6M252.3 368.4l0-3.3M255.1 362.4l-.2-3.4M254.7 356.3l-.4-3.2l-.5-3.1l-.6-3.1M250.9 338.3l-1.1-3.2M246.4 326.9l-1.6-3M85.9 332.2l-1.2 3.2M83.8 338l-1 3.1l-.8 2.9l-.7 3.2M79.4 365.1l.1 3.3l.1 3l.3 3.3M83.7 392.3l1 3.1l1.2 3M89.6 406.4l1.7 3M232.5 424.2l2.2-2.6M257.5 356l-.4-3.5M253.6 337.5l-1.1-3.4M236.9 307.1l-2.3-2.6M94 311.8l-2 2.9M84.5 328.2l-1.3 3.1l-1.2 3.2M76.7 368.3l.1 3.5M227.8 432.8l2.6-2.4M234.6 426.1l2.3-2.6M238.7 421.3l2.1-2.8M251.3 399.5l1.2-3.2l1.1-3.2M258.1 342.9l-1-3.6M86.4 318.4l-1.8 3.2M80.7 330.1l-1.4 3.4M75.2 348.9l-.5 3.4l-.4 3.4M75.8 384.6l.8 3.5M87.9 414.7l2 3.1"/>
<path stroke="#004db2" d="M226.3 331.4l-1.3-2.2l-1.3-2l-1.4-2M105.2 337.5l-1.1 2.4M102.6 344.1l-.8 2.6M101.3 348.7l-.6 2.6M100.3 353.3l-.4 2.7M99.6 358l-.2 2.7M99.3 362.8l-.1 2.6M99.6 372.3l.3 2.5l.4 2.5M101.8 383.9l.8 2.6M222.3 405.4l1.5-2.2M226.2 399.5l1.2-2.2l1.1-2.3M228.8 330l-1.4-2.3l-1.4-2.2M98.5 348l-.6 2.7M96.6 360.2l-.2 2.6l0 2.6M96.4 367.6l.2 2.8M96.8 372.6l.3 2.6l.4 2.6M97.9 379.9l.6 2.7M99.8 387.1l.9 2.4l.9 2.5M102.5 394l1.1 2.5M219.9 412.9l1.8-2.1M227.3 403l1.5-2.4M229.9 326.4l-1.5-2.3l-1.5-2.1l-1.6-2.2M96.5 344.8l-.8 2.8M93.8 360l-.2 2.9M94.3 375.4l.4 2.9M95.1 380.5l.7 2.8M230.9 322.6l-1.8-2.4M102.5 324.6l-1.6 2.6M92.4 349.2l-.5 3M91.5 354.5l-.4 3M90.9 359.8l-.1 2.8l-.1 2.7l.1 2.8M90.9 370.5l.3 3M93.7 386.2l.8 2.9M97.3 396.3l1.2 2.6l1.3 2.5M224.1 416.6l1.8-2.1l1.7-2.1l1.7-2.2M96 330.4l-1.3 2.8M92.8 338l-1 2.8l-.9 2.8M88.7 354.1l-.4 3.1M88.1 359.6l-.1 2.9l-.1 3M88 367.9l.1 3.1M90.2 384.3l.8 3M91.7 389.7l1.1 2.9M93.6 394.9l1.2 2.8M98.5 404.8l1.6 2.7M224.3 420.6l2.1-2.3M249.3 359.7l-.3-3.2M248.7 354l-.5-3.1M238.6 324.3l-1.7-2.7M230.4 312.6l-2-2.3l-2.1-2.2M86.9 348l-.6 3.2M85.6 356.5l-.3 3.1l-.2 3M85.5 373.7l.4 3l.5 3M86.8 382.2l.7 3l.8 2.9M94.6 403.7l1.6 2.9M232 416.1l1.9-2.6M251.9 356.6l-.4-3.3M95.3 320.1l-1.7 2.8M86.5 338.9l-1 3.1M84.2 347.4l-.7 3.1l-.4 3.1M84.1 382.8l.7 3.2M85.5 388.6l1 3.1M89.5 399.7l1.4 3M228.4 424.5l2.2-2.4M236.7 311.3l-2.2-2.6M230.6 304.4l-2.4-2.4M81.4 346.9l-.7 3.3M79.9 355.9l-.3 3.5M85.8 398l1.3 3.2M94.3 414.3l2 2.8M101.9 424l2.3 2.5M221.3 434.7l2.6-2.2M230.4 426.5l2.3-2.5M232.7 302.4l-2.5-2.5M225.7 295.9l-2.7-2.2M100 304.5l-2.2 2.5l-2.1 2.6M92.2 314.4l-1.9 3M85.9 325.4l-1.5 3.2M77.5 352.5l-.4 3.5M76.8 358.8l-.1 3.5M76.6 365.1l.1 3.6M77.5 377.7l.5 3.5M80.1 390.1l1 3.4M82 396.1l1.2 3.2l1.2 2.9l1.5 3M88.7 410.5l1.8 3M232.4 428.4l2.4-2.6M257.8 371.8l.1-3.5M258.8 346l-.8-3.5M256.3 336.6l-1.2-3.5M97.9 302.6l-2.4 2.7M89.9 312.8l-2 3.1M78.4 336.2l-1.1 3.5M75.9 345.7l-.7 3.6M74.3 374.9l.4 3.4l.5 3.4M77.3 390.9l1.1 3.5M79.3 397.1l1.3 3.2l1.3 3.2M84.6 409l1.8 3.2M97.7 427.7l2.5 2.7M75.3 402.3l1.5 3.5M185.2 264.9l-3.9-.6M253.7 419.5l2-3.4M257.3 413.4l1.8-3.6"/>
<path stroke="#006699" d="M104.2 339.7l-.9 2.5M100.7 351l-.5 2.6M99.4 360.4l-.1 2.7M99.3 367.5l.1 2.5l.2 2.6M100.2 377l.5 2.6M101.2 381.6l.7 2.6M102.5 386.2l.9 2.5M105.1 392.9l1.1 2.4M224.7 323.7l-1.6-2.2M102.6 336.3l-1.1 2.6M99.9 343.2l-.8 2.6l-.6 2.5M97.5 352.8l-.4 2.6l-.3 2.5l-.2 2.6M96.6 370.1l.2 2.8M103.5 396.2l1.3 2.5M221.5 411l1.8-2.2M104.9 326.1l-1.5 2.5M101.1 332.8l-1.2 2.5l-1 2.5M97.2 342.4l-.8 2.7M95.2 349.8l-.5 2.7l-.4 2.7M94 357.4l-.3 2.9M93.7 370.3l.3 2.9M96.4 385.5l.8 2.6l.8 2.4l.9 2.4l1 2.4l1.1 2.3l1.3 2.5M226 316.2l-1.8-2.1l-1.8-2l-2-2M107.1 318l-1.8 2.4M103.9 322.4l-1.6 2.5M99.8 329.2l-1.3 2.5l-1.1 2.5l-1.1 2.6M93.8 344l-.8 2.9M91.9 351.8l-.4 3M96.3 393.8l1.1 2.8M99.6 401.1l1.5 2.6M222.3 418.6l2-2.2M230 316.6l-1.9-2.3l-1.8-2.1l-1.9-2l-2.1-2.1M103.2 318.5l-1.8 2.5M100.1 323.1l-1.6 2.7M97.3 327.9l-1.4 2.7M93.8 335.4l-1.2 2.9M91 343.3l-.8 3M89.1 351.4l-.4 3M88.1 370.7l.2 2.9l.4 2.9M90.9 387l1 3M92.6 392.3l1.2 2.9M94.7 397.4l1.3 2.8M97.1 402.4l1.5 2.7M226.2 418.5l2-2.3M232.2 314.8l-2-2.5M226.6 308.3l-2.2-2.1l-2.2-2.1M102.6 314.5l-1.9 2.6M99.2 319.2l-1.7 2.7M96.2 324l-1.6 2.9M92.3 331.7l-1.3 3M88.3 342.5l-.8 3.1M85.1 365.1l0 3.2M86.3 379.4l.6 3.2M88.2 387.8l.9 2.9l1 2.9M91 395.9l1.3 3M93.3 401.2l1.5 2.8M121.2 433.4l2.7 1.7M215.5 431.9l2.6-1.9M226.3 422.5l2.2-2.3M232.6 310.8l-2.2-2.5M226.5 304.2l-2.4-2.2M96.9 317.6l-1.8 2.8M85.6 341.7l-.9 3.2M82.3 365.1l0 3.3M82.7 374l.4 3.3M83.5 379.9l.7 3.3M84.7 385.7l.9 3.2M98.4 415.1l2 2.7M232.7 306.6l-2.3-2.5M98.2 311.1l-2.1 2.7M92.9 318.6l-1.7 2.8l-1.6 2.8M88.4 326.6l-1.4 3.1M80.8 349.9l-.5 3.4M82.8 389.3l1 3.3M87 400.9l1.4 3.1M91.1 409.1l1.8 2.9M96.1 416.8l2 2.6l2 2.5M223.6 432.7l2.5-2.1l2.4-2.2M212.8 286.8l-3.1-1.7M139.5 279l-3.4 1.1M102.2 302.2l-2.4 2.6M88.8 319.8l-1.6 2.9l-1.5 3M81.1 337.1l-1 3.4M78.6 346.3l-.7 3.4M76.7 361.9l-.1 3.6M77.1 374.6l.4 3.5M78.5 384l.8 3.2l.9 3.3M81 393.1l1.1 3.4M93.8 418.5l2.1 2.8M97.7 423.5l2.2 2.5l2.3 2.4M220.5 438.8l2.8-2.1M225.5 434.9l2.6-2.3M84.8 321.2l-1.6 3.1l-1.3 3l-1.4 3.1M76.6 342.5l-.8 3.5M74 358.6l-.2 3.6M86.2 411.9l1.9 3.1M95.5 425.3l2.4 2.7M128.3 277.2l-3.4 1.6M73.8 388.4l.9 3.7M100.2 434.5l2.8 2.5"/>
<path stroke="#008080" d="M222.5 325.4l-1.6-2.1M103.4 341.9l-.9 2.5M103.3 388.4l.9 2.4l1 2.3M106.1 395l1.2 2.4M108.3 399.2l1.3 2.2l1.3 2.1M220.9 407.3l1.6-2.1M223.3 321.8l-1.8-2.2M104.8 331.9l-1.2 2.3l-1.1 2.4M101.6 338.6l-.9 2.5l-.9 2.4M99.1 384.7l.8 2.7M104.6 398.5l1.3 2.3l1.4 2.2M223.1 409.1l1.6-2.2M223.9 318l-1.9-2.1M218.6 312.4l-2.1-2M103.5 328.3l-1.3 2.4l-1.2 2.4M99 337.5l-1 2.6l-.9 2.6M102.1 399.8l1.3 2.4l1.5 2.3M218.4 418.4l1.9-1.9l1.8-1.9l1.8-2M227.7 318.3l-1.9-2.3M220.6 310.3l-2.2-2M96.4 336.5l-1 2.6l-1 2.7M90.8 367.8l.1 3M100.9 403.4l1.6 2.6M222.6 308.3l-2.3-2.1M104.8 316.3l-1.8 2.5M98.6 325.5l-1.5 2.7M90.3 345.9l-.7 2.9l-.5 2.9M95.9 400l1.4 2.7M99.9 407.2l1.7 2.6M213.8 429.6l2.5-1.8M220.3 424.4l2.1-2l2.1-2.1M93.5 329.1l-1.4 2.9M90 393.3l1.1 3M99 411.1l1.9 2.7M102.4 415.8l2 2.5M112.2 426.3l2.4 2.1M220 428.4l2.4-2.1M224.3 424.6l2.3-2.3M224.3 302.2l-2.5-2.2M217.4 296.6l-2.7-1.9M110.5 302l-2.4 2.2M102.3 310.5l-2.1 2.6M98.6 315.2l-1.9 2.7M87.4 336l-1 3.2M83.1 353.3l-.4 3.3M82.3 368.1l.2 3.3M83.1 377l.5 3.2M92.1 405.1l1.6 2.7l1.6 2.7M100.2 417.5l2.1 2.6M104 422.1l2.2 2.4M143.7 447l3.2 .9M173.1 450.1l3.3-.2M204.4 441.8l3-1.5M212.2 437.5l2.8-1.8M217.1 434.2l2.7-2M221.8 430.6l2.5-2.2M230.4 422.3l2.2-2.5M228.5 302.2l-2.4-2.2l-2.5-2.1M221.5 296.2l-2.7-2.1M216.6 292.6l-2.7-1.8l-2.8-1.7M208.7 287.8l-3-1.6M102.1 306.4l-2.2 2.6M87.1 329.4l-1.3 3.2M84.8 335.1l-1.1 3.2M80.3 352.9l-.4 3.4M79.9 374.3l.4 3.2l.5 3.2M81.3 383.4l.7 3.2l.9 3.1M106.1 428.4l2.5 2.3M218.2 290.2l-3-1.9M136.5 280l-3.4 1.3M111.6 293.7l-2.7 2.2M90.5 317.1l-1.8 3M78 349.4l-.5 3.5M101.9 428.2l2.5 2.5M106.5 432.6l2.6 2.3M215.2 442.3l2.8-1.8l2.8-1.9M223 436.9l2.7-2.2M104.9 295.7l-2.7 2.5M95.8 305l-2.3 2.9M88.1 315.6l-1.9 3.1M73.8 368.4l.2 3.4l.3 3.5M76.5 387.7l1 3.6M83.2 406.1l1.6 3.3M122.2 280.1l-3.3 1.9M102.7 436.8l2.8 2.4"/>
<path stroke="#009966" d="M108.4 331.1l-1.2 2.2l-1.1 2.2l-1 2.2M107.1 397.1l1.3 2.4M217.8 411l1.7-2.1M221.7 319.8l-1.8-2.1M106 329.7l-1.4 2.4M101.5 391.7l1.1 2.6M218.2 414.7l1.9-2.1M225.5 320l-1.8-2.2M222.2 316.1l-1.9-2l-1.9-1.9M216.7 310.6l-2.1-1.9M212.8 307.3l-2.2-1.6l-2.2-1.6M109.3 319.8l-1.6 2.2l-1.5 2.1l-1.5 2.3M104.7 404.2l1.6 2.5M218.6 308.5l-2.1-1.8l-2.2-1.8M105.5 320.2l-1.8 2.4M101.1 326.9l-1.5 2.6M103.7 408l1.8 2.4M214.3 425.7l2.3-1.9M220.5 306.4l-2.3-2M106.6 314.1l-2 2.5M89.6 381.6l.7 3.1M101.4 409.6l1.8 2.5M106.4 416.2l2 2.3M118.3 427.8l2.5 1.8M206.8 434.1l2.6-1.5l2.3-1.5l2.4-1.7M216 428l2.3-1.9l2.2-1.9M222.4 304.3l-2.4-2.1M106.3 310.2l-2 2.3l-1.9 2.3M97.7 321.6l-1.7 2.7M86.4 350.9l-.5 3l-.4 3M97.5 408.7l1.7 2.7M100.7 413.5l1.9 2.6M210.7 435.1l2.6-1.6l2.5-1.8M217.8 430.2l2.5-2M222.2 426.5l2.3-2.2M228.6 306.4l-2.4-2.4M141.2 284.4l-3.2 1M106.2 306.1l-2.1 2.3l-2.1 2.4M93.7 322.6l-1.5 2.8l-1.4 2.8M86.4 391.4l1 3.2M88.4 397l1.3 3.1M95.1 410.2l1.7 2.7l1.8 2.5M114.8 432.2l2.7 2M146.6 447.8l3.2 .7M196.2 445.3l3.1-1.2M201.7 443.1l3-1.4M209.7 439l2.8-1.7M214.7 435.9l2.7-1.9M224.1 428.6l2.4-2.2M223.9 298.1l-2.6-2.2M219.1 294.3l-2.8-2M161.4 277.6l-3.5 .3M143.3 280.8l-3.3 1M123.5 289.1l-2.9 1.8M118.3 292.3l-2.8 2M108.6 299.9l-2.5 2.3M104.2 304.1l-2.3 2.5M96.3 313.5l-2 2.8M80.7 380.4l.7 3.3M92.7 411.7l1.9 2.9M202.9 445.6l3.1-1.4M213.7 439.9l2.7-1.8l2.7-1.8M220.8 292l-2.9-2M215.5 288.5l-3-1.8M210 285.3l-3.1-1.6M201.5 281.3l-3.4-1.3M192.5 278.2l-3.4-.9M177 275.1l-3.4-.3l-3.3-.1M127.7 283.7l-3.1 1.6M106.8 297.8l-2.5 2.3l-2.4 2.3M95.9 309.3l-2.1 2.8M82.1 334.1l-1.1 3.4M79.3 343.2l-.8 3.4M77.9 380.9l.7 3.4M127.4 446.7l3.2 1.5M206.9 446.9l3-1.5l2.7-1.6l2.9-1.7M167.5 271.8l-3.7 0M144.9 274.5l-3.6 1M109.9 291.5l-2.9 2.3M102.5 297.9l-2.6 2.6M91.8 310.2l-2.1 3M79.5 333.1l-1.2 3.5M77.5 339.3l-1 3.6M74.3 355.3l-.3 3.7M73.8 361.8l0 3.5l0 3.5M75.2 381.3l.7 3.6M78.3 394l1.2 3.5M91.5 420.1l2.2 2.9M99.9 430.1l2.6 2.6M263.4 358.8l-.3-3.8M105.2 439l2.9 2.4M171 266.2l-3.9-.1M264.9 382.7l.6-3.8"/>
<path stroke="#00b34c" d="M221 323.5l-1.6-2.1M216.4 318.1l-1.9-1.9M207.4 310.3l-2.2-1.5M112.3 325.2l-1.4 2l-1.3 2l-1.3 2.2M110.8 403.2l1.5 2.2M219.4 409.2l1.6-2.1M220.1 318l-1.9-2.1M216.7 314.4l-2.1-1.9M136.4 301.5l-2.5 1.3M113.1 319.6l-1.8 2.2M110 323.5l-1.5 2.2l-1.3 2l-1.4 2.3M107.1 402.7l1.5 2.4M216.4 416.4l2-2M214.8 308.9l-2.2-1.8M110.9 317.8l-1.8 2.2M106.1 406.4l1.6 2.4M125.9 426.3l2.5 1.6M204 429.2l2.5-1.5M154.2 289.9l-3 .5M108.8 316l-1.9 2.3M102.3 405.7l1.6 2.5M108.6 414.4l1.9 2.2M161.8 441.7l3 .1M190.8 438.2l2.8-1M218.4 422.3l2.1-1.9l2-2M194.6 290.8l-2.9-1.1M184 287.7l-3.1-.6M178.5 286.7l-3.1-.4M142.9 289.7l-2.8 1l-2.7 1.1M110.3 310l-2.1 2.3M103 411.8l1.7 2.4l1.9 2.3M120.5 429.4l2.5 1.8M199.4 437.9l2.7-1.2l2.6-1.4M218.1 300.6l-2.6-1.9M213.4 297.2l-2.7-1.7M142.1 287.1l-2.9 .9l-2.9 1.1M128.9 292.6l-2.9 1.6M123.9 295.5l-2.7 1.7M114.6 302.2l-2.4 2.1M100.9 316.8l-1.9 2.7M96 406.3l1.7 2.7M104.2 418l2 2.3l2 2.1l2.1 2.2M114.3 428.2l2.5 2M118.8 431.7l2.7 1.9M141.7 443.4l3.1 1M150 445.7l3 .6l3 .4M208.3 436.6l2.7-1.7M222.1 300.3l-2.4-2l-2.6-1.9M212.5 293.3l-2.8-1.7M176.4 280.7l-3.2-.2l-3.1-.2M152.7 281.5l-3.3 .7M132.9 287.5l-3 1.4M124.9 291.6l-2.7 1.6l-2.6 1.7M115.1 298.2l-2.5 2l-2.3 2M108.4 304l-2.4 2.4M100.4 312.8l-2 2.7M106 424.2l2.4 2.4M122.1 437.3l2.8 1.7M219.5 432.4l2.6-2.1M194.6 281.8l-3.3-1M176.7 277.9l-3.5-.3M137.4 282.7l-3.2 1.2M126.2 287.6l-3 1.7M111 297.9l-2.6 2.2M106.4 302l-2.4 2.4M94.6 316l-1.9 2.9M99.9 421.6l2.2 2.6M104 426.2l2.4 2.4M108.4 430.5l2.6 2.2M113.1 434.4l2.7 2.1M120.6 439.7l2.9 1.8M142.9 449.7l3.1 .9l3.2 .7M167.1 453.2l3.3-.1l3.2-.2M182.4 451.9l3.3-.7M208.4 443l2.8-1.6l2.8-1.7M218.8 436.5l2.7-2.1M223.3 293.9l-2.8-2.1M207.2 283.9l-3-1.5l-3.1-1.3M145.5 277.3l-3.4 .9M130.6 282.4l-3.2 1.5M114.1 291.8l-2.8 2.1M109.1 295.7l-2.6 2.3M80.2 340.1l-.9 3.4M77.1 355.6l-.3 3.6M95.7 421l2.2 2.7M104.2 430.4l2.6 2.4M108.9 434.7l2.6 2.1l2.6 2M121.8 443.8l2.9 1.6l3 1.5M130.2 448.1l3.3 1.4M139.1 451.5l3.4 1M163.9 455.9l3.4 .1l3.4-.1M173.4 455.8l3.6-.3M189.1 453.3l3.4-.9M174 272l-3.6-.2M141.7 275.3l-3.5 1.1M132.4 278.5l-3.3 1.4M126.5 281.2l-3.3 1.6M107.3 293.5l-2.7 2.4M81.8 403.2l1.5 3.3M183.3 457.4l3.6-.7M157.4 269.5l-3.7 .4M147.5 271l-3.7 .9"/>
<path stroke="#00cc33" d="M219.5 321.7l-1.6-2l-1.7-1.8M139.7 303.1l-2.4 1.1M115.2 321.4l-1.6 2.1M112.1 405.2l1.6 2l1.5 2M218.4 316.2l-2-2M214.9 312.7l-2-1.7l-1.9-1.6l-2-1.5l-2.1-1.4l-2.2-1.4M138.6 300.5l-2.5 1.1M134.1 302.6l-2.4 1.4M121.8 310.9l-1.9 1.7l-1.9 1.7l-1.7 1.7l-1.8 2M108.4 404.8l1.6 2.3M125.5 422.6l2.2 1.5l2.2 1.4M200.5 428l2.4-1.4M206.8 424.2l2.3-1.6M157.2 292.3l-2.7 .4l-2.7 .5M147.1 294.4l-2.7 .8M137.5 297.9l-2.7 1.2M114.4 314l-1.9 2l-1.8 2M139.5 433.6l2.6 1l2.6 .9M180 437.9l2.8-.5M199.5 431.6l2.6-1.3M212.6 423.5l2.1-1.7l2-1.8M214.6 305.1l-2.4-1.8M210.2 301.9l-2.5-1.6M196.1 294.4l-2.8-1.1M191.1 292.5l-2.7-.8l-2.7-.7M164.8 288.8l-2.8 .1l-2.9 .3M143.8 292.4l-2.7 1l-2.6 1M136.3 295.3l-2.6 1.2l-2.5 1.3M114.2 310.1l-2.1 2.1M110.5 314l-1.9 2.2M110.3 416.4l2 2.2M114 420.3l2.2 2M118 423.8l2.3 1.9M126.6 430.1l2.4 1.5l2.5 1.4M133.6 434l2.7 1.3M156.5 441.1l2.8 .3l2.8 .3M177.8 441.1l3-.4M193.3 437.3l2.8-1.1M207.7 430.3l2.4-1.5l2.2-1.6l2.3-1.7M218.5 304.6l-2.5-2M192 289.9l-2.8-.9l-2.9-.8M173 286.1l-3.1-.1M161.9 286.1l-3.1 .3M156.4 286.7l-3 .4M151 287.6l-3.1 .7M108.4 312.1l-2 2.3M108.2 418.3l2 2.1l2 2l2 1.9l2.1 1.8l2.3 1.9M122.8 431l2.6 1.7M129.9 435.3l2.7 1.4M134.9 437.8l2.8 1.2M158.8 444.2l3.1 .3M169.9 444.6l3.1-.1M189 441.7l2.8-.9l2.8-1M215.8 298.9l-2.7-1.9M192.9 287.2l-3.1-1M187.4 285.6l-3.2-.8M170.3 283.1l-3.2 0M161.7 283.3l-3.2 .3M156 283.9l-3.1 .5M144.8 286.2l-3.1 1M134 290.1l-2.7 1.3l-2.7 1.4M112.4 304.1l-2.2 2.1l-2 2l-2.1 2.2M110.1 424.3l2.3 2.2M116.5 430l2.6 1.9M131.1 439.1l2.9 1.4M136.3 441.5l2.9 1.1l2.9 .9M147.2 445l3.2 .8M158.5 447l3.1 .3l3 .2M175.7 447.1l3-.4l3-.5M192.5 443.5l3.1-1M215 294.9l-2.8-1.8M204.7 288.9l-3-1.4M193.7 284.5l-3.1-1M155.6 281.1l-3.2 .5M127.5 290.1l-2.9 1.6M119.9 294.7l-2.6 1.8l-2.5 1.9M102 419.8l2.2 2.5M117.2 434l2.7 1.9M149.4 448.4l3.3 .7M155.3 449.5l3.3 .4M161.2 450.1l3.3 .2M176 449.9l3.3-.4M181.9 449.1l3.3-.7M190.6 447.1l3-.9l3-1M207.1 440.5l2.9-1.6M185.7 279.4l-3.3-.7M170.6 277.5l-3.5-.1M158.3 277.9l-3.4 .4M120.9 290.7l-2.9 1.9M89.8 323.9l-1.6 3M115.5 436.3l2.7 1.8l2.7 1.8M131.4 445.5l3.2 1.3M148.9 451.2l3.3 .7M173.2 453l3.5-.3M179.3 452.3l3.4-.5M191.3 449.8l3.2-.9l3-1.1M195.5 279.1l-3.4-1M189.4 277.3l-3.4-.8M180.1 275.5l-3.5-.4M133.5 281.1l-3.3 1.4M119.4 288.3l-2.8 1.8l-2.8 1.9M133.1 449.3l3.4 1.3M145.2 453.3l3.4 .8M170.3 455.9l3.5-.1M176.6 455.5l3.5-.4M186 454.1l3.4-.8M192.1 452.5l3.4-1M198.1 450.6l3.4-1.3M204 448.2l3.2-1.5M164.2 271.8l-3.6 .2M138.6 276.3l-3.5 1.2M117.9 285.9l-3.1 2M112.5 289.5l-2.9 2.2M199.1 453.3l3.4-1.4M213.9 446.4l3.1-1.9"/>
<path stroke="#00e619" d="M209.3 311.7l-2.1-1.6M141.9 302.1l-2.4 1.1M125.5 311.6l-2.1 1.6M116.8 319.6l-1.7 2.1M113.7 323.3l-1.6 2.1M115.1 408.9l1.7 2.1M118.2 412.5l1.9 1.9M129.1 421.7l2.1 1.3l2.1 1.3l2.2 1.2M216.2 412.7l1.8-2M205 305.3l-2.4-1.5M196.3 300.6l-2.6-1.1M177.3 295.1l-2.7-.3M155.1 295.4l-2.7 .6M145.5 297.8l-2.4 .9l-2.4 .9l-2.4 1M125.7 307.9l-2.1 1.5l-2 1.7M114.7 317.7l-1.8 2.1M111.5 321.5l-1.6 2.2M111.3 408.8l1.7 2.1l1.6 1.8l1.7 1.9l1.9 1.8M129.6 425.3l2.2 1.4l2.3 1.3M154.8 435.1l2.8 .4M174.6 435.8l2.7-.3M193.7 431.1l2.4-1l2.4-1.1M204.7 425.5l2.4-1.5M212.8 419.7l1.9-1.7l2-1.8M202.1 300.3l-2.6-1.3M192.7 296.1l-2.8-1M187.8 294.5l-2.8-.8M162.3 291.7l-2.9 .3M144.7 295.1l-2.6 .9l-2.4 .9l-2.5 1.1M135.1 299l-2.4 1.2l-2.4 1.3M120 308.7l-2.1 1.9M107.6 408.5l1.6 2.2l1.6 2l1.7 1.9l1.9 2M116 418.2l2.1 2M121.8 423.3l2.2 1.6l2.2 1.6M128.1 427.7l2.5 1.5M137.2 432.6l2.6 1.1M149.3 436.8l2.7 .6l2.5 .5l2.7 .4M185 436.9l2.6-.7l2.6-.8M192.4 434.6l2.7-1M197.1 432.7l2.7-1.2M208.4 426.5l2.2-1.6l2.2-1.6M216.5 420.2l2.1-2M212.4 303.5l-2.4-1.8M198.6 295.4l-2.8-1.1M193.6 293.4l-2.8-1M186 291.1l-2.8-.7l-2.8-.5M175.5 289.2l-3-.3M159.5 289.1l-3 .4M151.5 290.4l-2.7 .6l-2.6 .7l-2.7 .8M138.8 294.3l-2.8 1.1M131.5 297.6l-2.6 1.5M122.4 303.3l-2.4 1.8M118.2 306.6l-2.2 1.9M112.3 312l-2 2.2M105.3 410.2l1.7 2.2l1.8 2.2M116 422.1l2.2 1.9M120 425.5l2.3 1.7l2.2 1.6l2.4 1.5M131.2 432.8l2.7 1.4M138.5 436.2l2.8 1.1M143.5 438.1l2.9 .8M151.2 440.2l3 .5M164.5 441.8l3 .1M183.1 440.2l2.7-.6l2.6-.7l2.7-.8M200.7 434.2l2.7-1.4M216.4 424l2.2-1.9M216.3 302.8l-2.5-1.8M209.5 298.1l-2.7-1.6M202.2 294l-2.8-1.3M197.2 291.8l-2.9-1.2M186.7 288.3l-3.1-.7M181.2 287.1l-3-.4M170.2 286l-3.1-.1M164.7 286l-3.1 .1M153.7 287.1l-3.1 .6M137.7 291.6l-2.7 1.2l-2.5 1.1l-2.5 1.3l-2.5 1.4M123 299.4l-2.5 1.8M118.6 302.6l-2.3 1.9l-2.1 1.8l-2.2 2M145.3 441.6l3 .8M156.1 443.9l3.1 .4M161.6 444.5l3.1 .1M167.1 444.7l3.1-.1M172.7 444.5l2.9-.2l2.9-.4M180.9 443.5l2.9-.5l2.7-.7l2.8-.7M204.4 435.5l2.7-1.5M220.3 302.4l-2.5-2M211 295.7l-2.6-1.6l-2.7-1.5M198.3 289.1l-2.9-1.1l-2.9-.9M190.1 286.3l-3.1-.8M181.7 284.4l-3-.5l-3-.4M173.2 283.3l-3.2-.2M164.6 283.1l-3.2 .2M153.2 284.3l-3.2 .6M136.7 289l-3 1.3M119.1 298.7l-2.4 1.8l-2.4 1.9M123.6 434.9l2.7 1.7M128.6 437.8l2.8 1.5M144.5 444.3l3.1 .8M155.7 446.7l3.2 .4M164.3 447.5l3 0l2.9 0l2.8-.2l3.1-.3M184.2 445.8l3.2-.8M200.6 440.5l2.7-1.3l2.6-1.3l2.7-1.5M210 291.7l-2.9-1.6M202.1 287.7l-3.1-1.3M190.9 283.6l-3.2-.9M182.2 281.6l-3.1-.5l-3.1-.4M164.5 280.3l-3.3 .2M146.9 282.7l-3.2 .9M138.4 285.3l-3 1.2l-2.9 1.2M108.1 426.4l2.3 2.1l2.4 2.1M119.6 435.7l2.8 1.8M127.2 440.3l2.8 1.4l2.9 1.4M140.9 446.1l3.1 1M152.4 449l3.2 .5M167.1 450.3l3.2 0l3.1-.2M184.8 448.5l3.2-.7M211.4 289.3l-3-1.7M206 286.4l-3-1.4l-3-1.2M182.7 278.8l-3.2-.5l-3.2-.4M173.6 277.7l-3.4-.2M155.3 278.3l-3.4 .5M146.2 280l-3.3 .9M134.6 283.8l-3.2 1.3M128.9 286.2l-3 1.6M100.1 308.7l-2.2 2.6M110.7 432.5l2.6 2.2M125.9 442.8l3 1.6M134.2 446.7l3.2 1.2M151.9 451.8l3.2 .5l3 .4l3.3 .3M164 453.1l3.5 .1M197.2 447.9l3.2-1.2M205.7 444.4l3-1.6M170.7 274.7l-3.6-.1M161.2 274.8l-3.4 .3l-3.3 .4M142.5 278.1l-3.4 1M119.1 442.1l3 1.8M136.1 450.5l3.4 1.1M142.1 452.4l3.4 .9M148.3 454l3.4 .7M154.5 455.1l3.3 .4l3.4 .3M179.7 455.1l3.3-.5l3.3-.6M195.1 451.6l3.4-1.1M201.1 449.5l3.3-1.4M177.3 272.3l-3.7-.3M161 272l-3.7 .3M148 273.8l-3.5 .8M135.5 277.3l-3.4 1.4M208.1 449.4l3.3-1.6M160.8 269.2l-3.8 .3M125.2 278.6l-3.3 1.7"/>
<path stroke="#00ff00" d="M214.7 316.4l-2-1.8M211.2 313.2l-2.1-1.6M205.5 308.9l-2.1-1.3l-2.2-1.3M181.6 298.7l-2.6-.5M167.4 297.2l-2.6 .1M162.7 297.4l-2.7 .2M146.4 300.5l-2.4 .8l-2.3 .9M137.6 304.1l-2.3 1.1l-2.2 1.2M127.4 310.1l-2.1 1.6M123.7 313.1l-2 1.6l-1.7 1.6l-1.7 1.7l-1.7 1.9M116.6 410.7l1.8 2M125.3 418.9l2 1.5l2.1 1.4M137.3 426.4l2.4 1.1M157.7 432.7l2.6 .3M164.8 433.3l2.6 .1M171.9 433.2l2.5-.2l2.5-.3M181.3 431.9l2.6-.6M188.2 430.1l2.5-.9M197 426.5l2.3-1.1l2-1.1l2.1-1.3l2-1.3l1.9-1.3l2-1.5M210.9 417.5l2-1.6l1.7-1.6l1.8-1.8M202.9 304l-2.4-1.4M191.7 298.7l-2.5-.8l-2.5-.8M184.6 296.5l-2.7-.6M179.8 295.5l-2.8-.4M167.4 294.4l-2.7 0M160 294.8l-2.6 .3l-2.6 .4M150.3 296.5l-2.5 .6l-2.6 .8M109.9 406.9l1.6 2.2M117.9 416.2l2.1 1.9M133.9 427.8l2.5 1.3M140.6 431l2.6 1M145.2 432.7l2.7 .8M157.3 435.5l2.7 .3M162.2 436l2.6 .2l2.6 0M169.6 436.2l2.8-.2M177 435.5l2.6-.4l2.4-.4l2.6-.6M189.1 432.8l2.4-.9l2.5-.9M198.2 429.1l2.5-1.3M202.6 426.8l2.4-1.5M208.9 422.7l2.1-1.5l2-1.7M206.5 302.9l-2.3-1.5l-2.4-1.3M199.8 299.1l-2.7-1.2M190.2 295.2l-2.7-.8M185.3 293.8l-2.7-.6l-2.5-.5l-2.5-.4l-2.6-.3l-2.7-.3M167.5 291.6l-2.8 0l-2.7 .2M152.1 293.1l-2.6 .7l-2.7 .7M130.6 301.4l-2.5 1.5M126.2 304.1l-2.2 1.6l-2.2 1.6M118.1 310.4l-2 1.9l-1.9 1.9M114.2 416.4l2 2M119.8 421.7l2.2 1.8M130.3 429.1l2.4 1.3l2.3 1.2l2.5 1.1M159.4 438.6l2.9 .3M167.1 439l2.9 0M174.9 438.6l2.7-.3l2.7-.4M194.8 433.7l2.6-1.1M201.8 430.5l2.5-1.4M206.2 427.9l2.5-1.6M208 300.5l-2.6-1.6M203.4 297.8l-2.5-1.3l-2.6-1.2M180.8 289.9l-2.8-.4l-2.9-.4M170.1 288.8l-3-.1M156.8 289.5l-3 .4M129.2 298.9l-2.5 1.5l-2.3 1.5M120.3 304.9l-2.3 1.9M116.2 308.3l-2.2 2M112.1 418.4l2.1 2.1M136 435.2l2.8 1.1M148.6 439.5l2.9 .7M153.8 440.7l3 .4M167.1 441.9l2.9-.1l2.8-.1M175.1 441.5l3-.4M180.4 440.7l3-.5M195.8 436.3l2.6-1.1l2.6-1.2M203.1 433l2.6-1.5M214.1 301.2l-2.4-1.7l-2.5-1.6M204.7 295.3l-2.7-1.4M199.7 292.8l-2.8-1.2M167.5 285.9l-3.1 .1M148.3 288.2l-2.9 .8l-2.8 .9M127.8 296.5l-2.6 1.5l-2.4 1.6M125.1 432.5l2.5 1.6l2.6 1.4M132.4 436.6l2.8 1.3M142.6 440.7l3 1M147.9 442.3l2.9 .7l2.7 .5l2.9 .4M164.4 444.6l3.1 .1M196.9 439l2.8-1.2M206 292.8l-2.7-1.4l-2.6-1.2l-2.8-1.2M184.6 284.9l-3.2-.6M176.1 283.6l-3.2-.3M167.5 283.1l-3.2 0M158.9 283.5l-3.2 .4M150.4 284.8l-3 .7l-2.9 .8M126.3 294l-2.7 1.7M126 436.4l2.9 1.6M133.7 440.3l3 1.3M187 445.1l3-.8l2.9-.9M195.3 442.6l2.8-1.1l2.8-1.2M207.4 290.3l-3-1.5M199.3 286.5l-2.9-1.1l-3-1M185.2 282.2l-3.3-.7M158.6 280.7l-3.3 .4M149.8 282.1l-3.2 .7M144 283.5l-3.1 1M112.5 430.3l2.6 2.1M124.6 438.9l2.9 1.6M132.5 442.9l2.9 1.2l3 1.2M158.2 449.9l3.3 .2M179 449.5l3.2-.5M187.7 447.9l3.2-.9M199 444.2l3.1-1.3M200.4 283.9l-3.2-1.2M164.4 277.5l-3.4 .2M149.2 279.3l-3.3 .8M131.7 285l-3.1 1.4M115.8 294.1l-2.6 2l-2.5 2M128.6 444.2l3.1 1.4M137.1 447.8l3 1.1l3.2 .9M161 452.9l3.4 .2M185.4 451.3l3.3-.8M183.2 276l-3.5-.5M164.3 274.7l-3.5 .1M151.7 275.9l-3.3 .7l-3.2 .7M122.1 286.7l-3 1.8M116.4 440.4l3 1.9M170.8 271.8l-3.7 0M151.3 273.2l-3.6 .7M129.4 279.8l-3.3 1.5M123.6 282.6l-3.2 1.8M115.2 287.7l-3 2.1M257.8 398.4l1.2-3.5"/>
<path stroke="#1ae500" d="M213 314.8l-2.1-1.7M195.1 303.2l-2.4-1.1M190.7 301.4l-2.5-.9M186.2 299.9l-2.6-.7M179.3 298.3l-2.7-.4M174.6 297.6l-2.7-.2M160.3 297.6l-2.5 .3l-2.3 .4l-2.5 .4M151 299.2l-2.5 .7l-2.4 .7M133.4 306.3l-2.2 1.3l-2 1.3l-2 1.4M119.9 414.2l1.8 1.7l2 1.6M135.2 425.3l2.4 1.2M139.5 427.4l2.4 1.1M150.7 431.3l2.4 .6l2.4 .4l2.5 .4M160 433l2.6 .2l2.5 .1M185.9 430.8l2.6-.8M194.9 427.5l2.4-1.1M209.1 419l2.1-1.6M198.5 301.6l-2.5-1.1M194 299.6l-2.6-1M187 297.2l-2.7-.7M182.2 296l-2.7-.6M174.9 294.8l-2.8-.2M169.9 294.4l-2.7 0M165 294.4l-2.6 .2l-2.7 .2M152.7 295.9l-2.7 .6M132 303.8l-2.3 1.4l-2 1.3l-2.2 1.5M119.7 417.9l2 1.7l1.9 1.6l2.1 1.5M136.1 429l2.4 1.1l2.4 1M142.9 431.9l2.6 .9M147.6 433.4l2.7 .7M152.4 434.6l2.7 .6M167.2 436.2l2.7 0M184.3 434.1l2.5-.6l2.6-.8M208.7 304.3l-2.5-1.6M197.4 298l-2.5-1.1l-2.5-.9M170 291.6l-2.9 0M159.7 292l-2.8 .3M122 307.1l-2.2 1.8M146.8 436.1l2.8 .8M156.9 438.3l2.8 .3M162 438.8l2.7 .2l2.8 0M169.7 439l2.9-.2M182.5 437.5l2.8-.7M189.9 435.5l2.8-1M172.8 288.9l-3-.1M124.6 301.7l-2.4 1.8M141 437.2l2.8 1M146 438.8l2.9 .8M172.5 441.7l3-.3M205.4 431.7l2.6-1.6M207.1 296.6l-2.7-1.5M175.8 286.4l-3.1-.3M159.2 286.3l-3.1 .4M120.8 301l-2.5 1.8M112.3 308.1l-2.2 2.2M178.2 443.9l3-.4M194.3 440l2.9-1.2M181.4 446.3l3.2-.6M188 282.8l-3.2-.7M167.5 280.3l-3.3 0M161.5 280.5l-3.3 .2M130.2 288.8l-3 1.5M138 445.2l3.2 1M164.2 450.3l3.3 0M197.5 282.8l-3.2-1.1M191.7 280.9l-3.1-.9l-3.2-.7M167.5 277.4l-3.5 .1M140.3 281.7l-3.2 1.1M123.2 441.3l3 1.7M198.5 280.1l-3.4-1.1M167.5 274.6l-3.6 .1M154.9 275.5l-3.5 .5M124.9 285.1l-3.1 1.7M113.8 438.6l2.9 2M151.4 454.6l3.5 .5M160.8 455.8l3.5 .1M183.7 273.2l-3.6-.5M157.7 272.3l-3.6 .4M120.7 284.2l-3.1 1.9M261.6 345.5l-.9-3.7"/>
<path stroke="#33cc00" d="M201.5 306.4l-2.2-1.2l-2.2-1.1l-2.2-1M192.9 302.2l-2.5-.9M188.5 300.6l-2.6-.8M183.9 299.3l-2.6-.6M176.9 297.9l-2.6-.3M165.1 297.3l-2.7 .1M153.3 298.7l-2.6 .6M141.7 428.4l2.3 .9l2.3 .7l2.2 .7l2.5 .7M167.2 433.4l2.5-.1l2.5-.1M176.6 432.7l2.5-.4l2.5-.4M183.6 431.4l2.6-.7M190.4 429.3l2.5-.9M200.7 302.8l-2.5-1.3M172.4 294.6l-2.8-.2M150 434.1l2.7 .6M159.7 435.8l2.8 .2M172.1 436l2.8-.2M172.6 291.8l-2.9-.2M128.4 302.7l-2.5 1.6M117.9 420l2.1 1.9M144.4 435.4l2.7 .8M172.3 438.9l2.9-.3M205.7 299.1l-2.6-1.5M167.5 288.7l-3 .1M137.4 438.8l2.7 1.1l2.8 1M121.5 297l-2.7 1.9M170.4 280.3l-3.3 0M152.2 278.7l-3.3 .7M188.4 450.6l3.3-.9M200 446.8l3.2-1.3M154.5 272.7l-3.6 .5"/>
<path stroke="#4db200" d="M172.2 297.4l-2.5-.1l-2.5-.1M123.4 417.4l2.1 1.6M192.7 428.5l2.4-1.1M176.3 452.7l3.4-.4M186.3 276.6l-3.4-.7M180.5 272.7l-3.6-.4"/>
</g>
<circle cx="167.3" cy="365.3" r="65.4" fill="none" stroke="#0000f8" stroke-width="4.4"/>
<circle cx="167.3" cy="365.5" r="92.4" fill="none" stroke="#f00018" stroke-width="1.7"/>
<rect x="62.26" y="260.26" width="210.08" height="210.08" fill="none" stroke="#000" stroke-width="2"/><path d="M66.30 260.26v3.10M66.30 470.34v-3.10M62.26 466.30h3.10M272.34 466.30h-3.10M70.34 260.26v3.10M70.34 470.34v-3.10M62.26 462.26h3.10M272.34 462.26h-3.10M74.38 260.26v3.10M74.38 470.34v-3.10M62.26 458.22h3.10M272.34 458.22h-3.10M78.42 260.26v3.10M78.42 470.34v-3.10M62.26 454.18h3.10M272.34 454.18h-3.10M82.46 260.26v3.10M82.46 470.34v-3.10M62.26 450.14h3.10M272.34 450.14h-3.10M86.50 260.26v5.40M86.50 470.34v-5.40M62.26 446.10h5.40M272.34 446.10h-5.40M90.54 260.26v3.10M90.54 470.34v-3.10M62.26 442.06h3.10M272.34 442.06h-3.10M94.58 260.26v3.10M94.58 470.34v-3.10M62.26 438.02h3.10M272.34 438.02h-3.10M98.62 260.26v3.10M98.62 470.34v-3.10M62.26 433.98h3.10M272.34 433.98h-3.10M102.66 260.26v3.10M102.66 470.34v-3.10M62.26 429.94h3.10M272.34 429.94h-3.10M106.70 260.26v3.10M106.70 470.34v-3.10M62.26 425.90h3.10M272.34 425.90h-3.10M110.74 260.26v3.10M110.74 470.34v-3.10M62.26 421.86h3.10M272.34 421.86h-3.10M114.78 260.26v3.10M114.78 470.34v-3.10M62.26 417.82h3.10M272.34 417.82h-3.10M118.82 260.26v3.10M118.82 470.34v-3.10M62.26 413.78h3.10M272.34 413.78h-3.10M122.86 260.26v3.10M122.86 470.34v-3.10M62.26 409.74h3.10M272.34 409.74h-3.10M126.90 260.26v5.40M126.90 470.34v-5.40M62.26 405.70h5.40M272.34 405.70h-5.40M130.94 260.26v3.10M130.94 470.34v-3.10M62.26 401.66h3.10M272.34 401.66h-3.10M134.98 260.26v3.10M134.98 470.34v-3.10M62.26 397.62h3.10M272.34 397.62h-3.10M139.02 260.26v3.10M139.02 470.34v-3.10M62.26 393.58h3.10M272.34 393.58h-3.10M143.06 260.26v3.10M143.06 470.34v-3.10M62.26 389.54h3.10M272.34 389.54h-3.10M147.10 260.26v3.10M147.10 470.34v-3.10M62.26 385.50h3.10M272.34 385.50h-3.10M151.14 260.26v3.10M151.14 470.34v-3.10M62.26 381.46h3.10M272.34 381.46h-3.10M155.18 260.26v3.10M155.18 470.34v-3.10M62.26 377.42h3.10M272.34 377.42h-3.10M159.22 260.26v3.10M159.22 470.34v-3.10M62.26 373.38h3.10M272.34 373.38h-3.10M163.26 260.26v3.10M163.26 470.34v-3.10M62.26 369.34h3.10M272.34 369.34h-3.10M167.30 260.26v5.40M167.30 470.34v-5.40M62.26 365.30h5.40M272.34 365.30h-5.40M171.34 260.26v3.10M171.34 470.34v-3.10M62.26 361.26h3.10M272.34 361.26h-3.10M175.38 260.26v3.10M175.38 470.34v-3.10M62.26 357.22h3.10M272.34 357.22h-3.10M179.42 260.26v3.10M179.42 470.34v-3.10M62.26 353.18h3.10M272.34 353.18h-3.10M183.46 260.26v3.10M183.46 470.34v-3.10M62.26 349.14h3.10M272.34 349.14h-3.10M187.50 260.26v3.10M187.50 470.34v-3.10M62.26 345.10h3.10M272.34 345.10h-3.10M191.54 260.26v3.10M191.54 470.34v-3.10M62.26 341.06h3.10M272.34 341.06h-3.10M195.58 260.26v3.10M195.58 470.34v-3.10M62.26 337.02h3.10M272.34 337.02h-3.10M199.62 260.26v3.10M199.62 470.34v-3.10M62.26 332.98h3.10M272.34 332.98h-3.10M203.66 260.26v3.10M203.66 470.34v-3.10M62.26 328.94h3.10M272.34 328.94h-3.10M207.70 260.26v5.40M207.70 470.34v-5.40M62.26 324.90h5.40M272.34 324.90h-5.40M211.74 260.26v3.10M211.74 470.34v-3.10M62.26 320.86h3.10M272.34 320.86h-3.10M215.78 260.26v3.10M215.78 470.34v-3.10M62.26 316.82h3.10M272.34 316.82h-3.10M219.82 260.26v3.10M219.82 470.34v-3.10M62.26 312.78h3.10M272.34 312.78h-3.10M223.86 260.26v3.10M223.86 470.34v-3.10M62.26 308.74h3.10M272.34 308.74h-3.10M227.90 260.26v3.10M227.90 470.34v-3.10M62.26 304.70h3.10M272.34 304.70h-3.10M231.94 260.26v3.10M231.94 470.34v-3.10M62.26 300.66h3.10M272.34 300.66h-3.10M235.98 260.26v3.10M235.98 470.34v-3.10M62.26 296.62h3.10M272.34 296.62h-3.10M240.02 260.26v3.10M240.02 470.34v-3.10M62.26 292.58h3.10M272.34 292.58h-3.10M244.06 260.26v3.10M244.06 470.34v-3.10M62.26 288.54h3.10M272.34 288.54h-3.10M248.10 260.26v5.40M248.10 470.34v-5.40M62.26 284.50h5.40M272.34 284.50h-5.40M252.14 260.26v3.10M252.14 470.34v-3.10M62.26 280.46h3.10M272.34 280.46h-3.10M256.18 260.26v3.10M256.18 470.34v-3.10M62.26 276.42h3.10M272.34 276.42h-3.10M260.22 260.26v3.10M260.22 470.34v-3.10M62.26 272.38h3.10M272.34 272.38h-3.10M264.26 260.26v3.10M264.26 470.34v-3.10M62.26 268.34h3.10M272.34 268.34h-3.10M268.30 260.26v3.10M268.30 470.34v-3.10M62.26 264.30h3.10M272.34 264.30h-3.10" stroke="#000" stroke-width="1.6" fill="none"/>
<text y="281.3" font-size="15" stroke="#000" stroke-width="0.75"><tspan x="217.2 227.3">Ex</tspan><tspan x="235.9" dy="3.8" font-size="23" font-style="italic" stroke-width="0.25">/</tspan><tspan x="245.4 255.0 262.0" dy="-3.8">Esw</tspan></text>
<text x="6.2" y="271.0" font-size="21" text-anchor="start" textLength="17.0" lengthAdjust="spacingAndGlyphs">b.</text>
<text x="56.4" y="291.9" font-size="15.6" text-anchor="end" textLength="17.0" lengthAdjust="spacingAndGlyphs" stroke="#000" stroke-width="0.4">20</text>
<text x="56.4" y="332.3" font-size="15.6" text-anchor="end" textLength="17.0" lengthAdjust="spacingAndGlyphs" stroke="#000" stroke-width="0.4">10</text>
<text x="56.4" y="372.7" font-size="15.6" text-anchor="end" textLength="8.3" lengthAdjust="spacingAndGlyphs" stroke="#000" stroke-width="0.4">0</text>
<text x="56.4" y="413.1" font-size="15.6" text-anchor="end" textLength="29.2" lengthAdjust="spacingAndGlyphs" stroke="#000" stroke-width="0.4">−10</text>
<text x="56.4" y="453.5" font-size="15.6" text-anchor="end" textLength="29.2" lengthAdjust="spacingAndGlyphs" stroke="#000" stroke-width="0.4">−20</text>
<text x="13.3" y="366.2" font-size="15" text-anchor="middle" textLength="80.6" lengthAdjust="spacingAndGlyphs" transform="rotate(-90 13.3 366.2)" stroke="#000" stroke-width="0.5">Z_SWI (RE)</text>
<g fill="none" stroke-width="3.25">
<path stroke="#000000" d="M504.2 346.3l-.8-3M500.8 335.7l-1.2-2.8M508.1 351.2l-.6-3.2M511.9 359.5l-.2-3.3M510.9 350.7l-.7-3.3M351.9 405.1l1.6 2.9M356.5 412.7l1.9 2.7M363.8 422.1l2.2 2.4M374.6 432.2l2.7 2M415.1 449.5l3.3 .4M511.3 377.3l.4-3.3M515 365.5l-.1-3.5M513.1 347.2l-.8-3.3M397.2 282.7l-3.2 1.2M339.4 371.2l.3 3.5M340.1 377.3l.5 3.4M470.9 441.5l2.9-1.8M510.6 392.6l1-3.3M512.3 386.7l.8-3.3M513.6 380.7l.5-3.4M514.5 374.7l.3-3.5M514.9 368.6l.1-3.5M517.8 365.5l-.1-3.6M517.3 356l-.4-3.3l-.5-3.3M515.9 346.6l-.8-3.4M512.4 334.5l-1.3-3.4M496.7 307.1l-2.3-2.6M485.5 295.9l-2.7-2.2M467 283.9l-3.2-1.5M517.6 371.8l.1-3.3l.1-3.4M520.6 362.2l-.2-3.6M500.9 307.9l-2.3-2.9M459.3 277.5l-3.5-1.2"/>
<path stroke="#00001a" d="M493 321l-1.8-2.5M509.3 362.6l-.2-3.2M500.7 408l1.6-2.9M514.9 362.4l-.2-3.4M509.7 335.4l-1.2-3.2M511.1 399.5l1.3-3.4"/>
<path stroke="#000033" d="M505.7 376.5l.4-3.1M506 333.6l-1.3-3.1M517.3 375l.3-3.6"/>
<path stroke="#00004d" d="M505.7 354.4l-.4-3M509.1 371.2l.2-3.2M517.7 362.3l-.1-3.5"/>
<path stroke="#000066" d="M500.8 365.5l0-2.9M499.2 380.8l.5-2.8M499.9 389.1l.8-2.9M503.5 370.8l.1-2.8l.1-2.9M491.2 412.1l1.8-2.5M505.3 340.1l-1-3.1M506.1 388.1l.8-3.1M510.2 383.2l.7-3.3M507.4 329.7l-1.4-3.1"/>
<path stroke="#000080" d="M498.7 347.6l-.8-2.8M353.8 357.4l-.3 2.9M503.6 362.8l-.1-3M508.5 354l-.5-3.1M507.5 382.6l.6-3l.4-3M512.1 362.5l-.2-3.3M510.3 347.8l-.7-3.2M509.6 386l.7-3.2M510.7 338.3l-1.1-3.2M507.3 322.9l-1.7-3.1M520.4 372l.2-3.6"/>
<path stroke="#000099" d="M497.8 360.5l-.2-2.8M500 341.8l-1-2.8M504.8 349l-.7-3.1M506.2 342.8l-1-3.1M348.1 342.5l-.8 3.1M506.8 385.4l.8-3.2M508 339.2l-1-3.2M499.1 410.5l1.7-2.8M504.7 400.1l1.3-3.1M514.2 390.5l.9-3.4"/>
<path stroke="#0000b3" d="M491.9 344.4l-.9-2.5M497.6 358l-.3-2.7M500.1 355.2l-.4-2.9M491 328.6l-1.5-2.5M499.7 378.3l.4-2.9M503.5 360.1l-.3-3M499 391.6l1-2.8M506.5 365.5l-.1-3.1M350.7 387l1 3M500.6 395.2l1.2-2.9M486.4 308.3l-2.3-2.3M505.9 397.3l1.2-3.1M511.9 371.4l.2-3.3M511.6 341.3l-1-3.3M507.3 401.2l1.3-3.2M511.5 389.7l.9-3.3M513 383.7l.7-3.3"/>
<path stroke="#0000cc" d="M495.5 337.8l-1.1-2.6M363.2 402l1.5 2.5M503.5 343.6l-1-3M410.4 442.9l3.1 .6M503.4 334.7l-1.3-3M496.7 409l1.7-2.7M502.1 398.9l1.3-3M514.1 377.7l.4-3.4M517.6 359.2l-.3-3.6M510 328.6l-1.5-3.2"/>
<path stroke="#0000e6" d="M498 365.4l0-2.7M491.9 336.6l-1.1-2.5M356.2 365.2l0 2.7M500.4 357.7l-.3-2.8M359.7 395.1l1.2 2.7M495.4 393.1l1-2.6l.9-2.6M500.1 375.7l.3-2.8M493.3 403.7l1.5-2.6M501.3 384l.7-2.9M503.2 373.5l.3-3M505.3 351.7l-.6-3.1M504.7 382l.6-3.1M346.2 350.9l-.5 3.1M496 315.5l-2-2.7M354.9 410.2l1.8 2.8M379.4 435.7l2.8 1.8M403.5 447l3.2 .9M447.5 447.9l3.2-.9M456 445.3l3.1-1.2M512.4 344.2l-.9-3.3M451.5 280.9l-3.3-.9M445.5 279.4l-3.3-.7M436.5 277.9l-3.5-.3M424.2 277.5l-3.4 .2M366.2 302l-2.4 2.4M358 311.1l-2.1 2.7M345.7 332.2l-1.2 3l-1 3.1M340.6 349.9l-.5 3.4M339.7 355.9l-.3 3.5M468.2 443l3-1.7M496.2 419.5l2.1-2.7M499.8 414.6l1.9-2.9M504.6 406.7l1.5-2.9l1.3-2.9M509.6 395.5l1.1-3.2M516.5 349.7l-.7-3.4M514.3 340.5l-.9-3.2l-1.1-3.2M480.6 292l-2.9-2M515.1 387.4l.7-3.2l.6-3.2l.5-3.1l.4-3.3M484.8 291.7l-2.9-2.2"/>
<path stroke="#0000ff" d="M462.4 426.8l2.4-1.5M482.3 312.2l-2.1-2.1M413.2 443.5l3 .4M509.3 365.5l0-3.2M507.6 348.4l-.8-3.2M441.2 446.3l3.2-.6M511.7 356.6l-.4-3.3M509.7 344.9l-.9-3l-.9-3M507.1 336.4l-1.2-3.1M494.2 313.1l-2.1-2.6M387 440.3l3 1.5M507 394.6l1-3.2M514.1 353.3l-.5-3.3l-.6-3.1M490.4 304.4l-2.4-2.4"/>
<path stroke="#001ae5" d="M486.1 331.4l-1.3-2.3M474.5 316.4l-2-1.8M494.8 372.6l.2-2.7M495.9 348.3l-.6-2.5l-.8-2.6M356.9 375l.4 2.8M445.1 293.8l-2.8-.7M497.2 388.2l.8-2.7M498.6 383.3l.7-2.8M498.1 336.8l-1.1-2.8M368.4 414.4l1.9 2.2M501.8 338.3l-1.2-2.9M451.8 289.9l-3-1M350.1 345.9l-.7 3.1M454.1 440l2.9-1.2M509.1 359.7l-.3-3.2M506.9 345.6l-.8-3.1M502.3 332l-1.4-2.9M511.3 353.6l-.5-3.2M510.8 380.2l.5-3.2M488 428.6l2.4-2.4M511.3 331.5l-1.4-3.3"/>
<path stroke="#0033cc" d="M495.2 365.4l-.1-2.6M494.2 353.6l-.5-2.6M489.3 337.7l-1-2.2l-1.2-2.3M483.6 327.4l-1.5-2.2M476.5 314.4l-2.1-1.9M365.6 400.6l1.5 2.4M497.9 385.8l.8-2.8M503.7 365.5l-.1-3M463.2 297.8l-2.7-1.4M427.3 288.7l-3 .1M490.5 408.2l1.6-2.5M498 394.1l1.1-2.8M506.1 357.2l-.4-3.1M432.5 444.5l3.1-.3M503.4 387.3l.8-3M506.4 368.2l.1-3.1M499.8 326.9l-1.6-2.9M500.9 401.5l1.4-2.9M504.3 393.6l1-3.1M512.1 365.5l0-3.3M350.7 327.9l-1.4 3M367.9 426.4l2.4 2.2M508.7 325.7l-1.6-3.1M368.9 295.7l-2.6 2.3"/>
<path stroke="#004db2" d="M494.8 358.3l-.3-2.6M363.2 341.9l-.9 2.5M361.7 346.4l-.7 2.6M491 388.7l.9-2.5M496.5 350.7l-.6-2.7M472.8 311.1l-2.2-1.8M493.7 389.7l.9-2.6M500.7 360.3l-.3-2.9M498 345.1l-.8-2.7M419.5 292l-2.8 .3M357.9 339.9l-1 2.8M503.3 357.5l-.4-3M496 331.9l-1.4-2.7M358.4 331.6l-1.3 2.7M500.6 386.6l.8-2.9M502.9 376.1l.4-3M502.7 340.9l-1.1-2.9M499.7 333.2l-1.2-2.7l-1.4-2.6M504.1 384.7l.7-3.1M506 373.8l.3-3l.1-2.9M473.2 297.2l-2.7-1.7M505.2 390.9l1-3.1M504.9 330.9l-1.4-3M502.3 325.5l-1.6-2.9M366 306.1l-2.2 2.4M435.8 449.9l3.3-.4M507.9 391.7l1-3.1M514.8 359.4l-.3-3.3l-.4-3.2M506.2 326.9l-1.6-3M514.7 371.6l.2-3.4"/>
<path stroke="#006699" d="M364 339.7l-.9 2.5M494.5 374.9l.3-2.6M497 353.1l-.6-2.7M360.4 389.4l1 2.6M496.9 377.8l.4-2.8M497.8 370.4l.2-2.6l0-2.6M499.7 352.6l-.5-2.8M497.3 342.7l-1-2.8M483.7 318l-1.9-2.1M472.6 307.3l-2.3-1.7M459.3 431.6l2.6-1.3M500.8 368l0-2.9M501.4 346.9l-.7-2.7l-.8-2.7M497.1 334.3l-1.3-2.7M494.8 329.5l-1.5-2.6M474.4 305.1l-2.4-1.8M502 381.4l.5-3M506.4 362.7l-.1-2.9l-.3-3M480.3 306.4l-2.3-2M469 432.7l2.6-1.7M501.6 392.6l1.1-2.9M435.5 447.1l3.2-.4M509.3 368.3l0-3.2M461.9 287.7l-3.1-1.3M374.9 298.2l-2.6 2.1M508.8 388.9l.9-3.2M512.1 368.4l0-3.3M509.9 402.4l1.4-3.3"/>
<path stroke="#008080" d="M490.3 339.9l-1.1-2.4M406.2 300.5l-2.5 .9M368.1 399.2l1.3 2.3M479.2 409.2l1.6-2.1M495 370.2l.1-2.7M498 363l-.2-2.8M493.8 341.2l-1-2.6M470.9 309.5l-2.2-1.6M453.8 299.6l-2.6-1M487.1 403l1.5-2.4M489.6 398.7l1.3-2.5M491.8 394.3l1.1-2.6M495.9 382.6l.6-2.7M500.8 362.9l-.2-2.9M457.2 298l-2.6-1.1M357 342.4l-.8 2.7M355 349.8l-.5 2.8M490.9 402.3l1.4-2.5M490.7 322.6l-1.8-2.4M487.5 318.3l-1.9-2.3M478.4 308.5l-2.2-1.9M495.8 399l1.3-2.7M497.3 328.2l-1.5-2.7M471.6 299.6l-2.6-1.7M353.6 335.4l-1.2 2.9M489.6 414.3l1.8-2.5M499.6 397.7l1.2-2.8M502.5 390l1-3M503.6 328.2l-1.5-3M490.2 422.3l2.2-2.5M495.8 415.4l1.9-2.7M511.7 374.4l.2-3.3M505.7 320.1l-1.8-3M492.5 302.4l-2.5-2.5"/>
<path stroke="#009966" d="M495.1 363.1l-.1-2.7M493.7 351.3l-.6-2.6M480.8 323.5l-1.6-2.1M359.4 372.3l.3 2.6M487.1 397.4l1.2-2.4M491.8 386.5l.8-2.6M497.3 355.6l-.4-2.8M494.6 343.5l-.9-2.6M359 345.6l-.7 2.7M495.2 385l.7-2.7M496.4 380.2l.6-2.7M497.6 372.9l.2-2.8M492.3 330.8l-1.4-2.5M356.3 344.8l-.8 2.8M488.1 406.7l1.6-2.5M500.6 370.6l.2-2.9M502.9 354.8l-.4-3M442.9 440.2l2.9-.7M476.1 302.8l-2.5-1.8M363 318.5l-1.8 2.5M505.3 379.2l.4-3M458.1 289.1l-3-1.1M344.9 365.1l0 3.2M345.3 373.7l.4 3.2M357.3 408.7l1.7 2.7M499.3 320.4l-1.8-2.8M472.3 293.3l-2.8-1.7M342.5 356.2l-.2 3.3M479.3 432.4l2.6-2.1M503.5 402.7l1.4-3M492.5 306.6l-2.3-2.5M340.1 352.9l-.4 3.4M476.1 438.3l2.8-2"/>
<path stroke="#00b34c" d="M491.1 342.2l-.9-2.5M391.1 307.5l-2.2 1.4M488.2 395.3l1.1-2.4M492.5 384.2l.7-2.6M460.5 302.8l-2.5-1.3M357.3 352.8l-.4 2.8M499.3 350.1l-.7-2.8M496.4 340.2l-1-2.7M364.5 404.2l1.6 2.5M375.8 418.2l2.1 2M424.4 439l2.9 0M480 416.6l2-2.1M483.5 412.8l1.8-2.2M494.4 395.4l1.1-2.6M350.9 373.1l.4 3M357.1 396.3l1.3 2.7M359.4 401.1l1.5 2.6M502.5 378.8l.4-3M359.9 323.1l-1.6 2.7M347.9 359.6l-.1 3.1M494.3 407.5l1.6-2.7M498.4 400.2l1.3-2.8M501.1 329.4l-1.5-2.8M498.4 324.3l-1.7-2.7M355.8 406.3l1.7 2.7M503.3 396.3l1.1-3M508.5 376.9l.4-3.2M481.9 300.3l-2.6-2.1M442 281.6l-3.2-.5M343.3 379.9l.7 3.3M353.4 407.7l1.7 2.8M476.9 434.2l2.7-2M508.6 332.6l-1.3-3.2M504.8 324.2l-1.6-2.8l-1.7-2.8M500.1 316.3l-2-2.8M463 285.1l-3.2-1.3M503.1 409.4l1.7-3M508.5 398.4l1.2-3.2M458.3 280.1l-3.4-1.1"/>
<path stroke="#00cc33" d="M492.6 346.7l-.8-2.6M469.1 311.7l-2.1-1.6M463.3 307.6l-2.3-1.3M359.1 362.8l-.1 2.5l.1 2.5M429.3 433.3l2.7-.1M458.9 425.5l2.4-1.3M492.9 338.9l-1.1-2.6M490.9 334.4l-1.3-2.5M464.8 305.3l-2.4-1.5M458.3 301.6l-2.5-1.1M374.3 412.6l1.8 2l1.9 1.8M381.4 419.5l2.2 1.8M444.1 434.1l2.7-.7M494.5 335.5l-1.2-2.7M432.4 291.8l-2.9-.2M364.7 326.1l-1.5 2.5M353.5 370.3l.3 2.9M361.9 399.8l1.4 2.5M470.3 425l2.3-1.7M493.3 397.8l1.2-2.7M502.5 352.2l-.5-3M499.1 339.3l-1.1-2.8M489.1 320.4l-1.8-2.4M485.8 316.2l-1.9-2.2M450.9 292.5l-2.9-.8M351.3 375.8l.4 3M421.6 441.7l3 .1M494.6 401.4l1.4-2.7M497 396.6l1.1-2.8M494.5 323.4l-1.7-2.6M486.2 312.3l-2-2.1l-2.1-2.1M454.4 290.8l-2.9-1.1M349.5 348.6l-.6 3.1M348.5 354.1l-.4 3.1M347.7 365.1l.1 3.1M402.4 440.7l3 1M440.7 443.5l3.1-.6M495.8 405.1l1.5-2.7M496.9 321.9l-1.7-2.7M490.2 312.6l-2.1-2.4M447.2 285.6l-3.2-.8M435.9 283.6l-3.2-.3M350.9 334.3l-1.1 3M351.9 398.6l1.4 2.9M385.8 436.4l2.9 1.6M396.1 441.5l3 1.1M488.1 420.4l2.1-2.4M508.8 374.1l.3-3.2M500.8 322.9l-1.7-2.8M497.7 317.9l-1.9-2.7M349.5 330.5l-1.3 3.1M342.1 365.1l0 3.3M372.3 430.3l2.6 2.1M481.6 430.6l2.5-2.2M500.6 312.1l-2.1-2.8M513.3 393.5l1-3.4"/>
<path stroke="#00e619" d="M493.2 349l-.7-2.6M443.4 431.4l2.6-.7M448 430.1l2.5-.9M489.2 393.1l1.1-2.4M487.3 327.9l-1.5-2.4M481.5 319.8l-1.8-2.1M468.9 308l-2.3-1.6M367.1 327.6l-1.5 2.4M372.7 410.8l1.8 2.1M417.1 435.5l2.7 .3M494.5 387.4l.8-2.7M485.3 320l-1.8-2.2M353.4 362.6l0 2.9M356.9 387.9l1 2.8M390.1 429.1l2.5 1.4M492.1 400.1l1.3-2.6M500.4 373.2l.3-2.9M502 349.5l-.7-2.9M493.5 327.2l-1.6-2.6M491.4 318.8l-1.8-2.5M508.9 356.9l-.4-3.2M504.4 337.3l-1.1-3M344.9 368l.2 3.2M345.7 376.6l.5 3.1M374.1 428.2l2.5 2M398.8 442.5l3.1 1M490 418.3l2-2.5M492.4 310.8l-2.2-2.5M355.1 320.1l-1.7 2.8M344 347.4l-.7 3.3M483.9 428.6l2.4-2.2M498.3 313.8l-2.1-2.7M494.5 309l-2.2-2.6M501.5 412l1.8-2.9M498.7 309.6l-2.2-2.7M478 290.2l-3-1.9"/>
<path stroke="#00ff00" d="M487.3 333.5l-1.3-2.4M477.8 319.9l-1.8-2M367.1 333.2l-1.2 2.4M363.9 390.7l1.1 2.4M366.9 397.1l1.3 2.4M454.7 427.5l2.4-1.1M477.6 411l1.7-2.1M489.8 332.1l-1.4-2.4M451.5 298.7l-2.6-.9M359.6 387.1l.9 2.6M361.3 391.7l1.1 2.6M393.7 427.8l2.5 1.3M429.4 436.2l2.8-.2M460.3 428l2.4-1.4M490.8 396.5l1.1-2.5M357.8 390.4l1 2.7M387.9 427.7l2.5 1.5M365.3 320.2l-1.8 2.4M360.9 326.9l-1.5 2.6M353.5 386.2l.8 2.9M371.9 418.4l2.1 2.1M474.1 425.7l2.3-1.9M495.9 325.8l-1.6-2.7M432.8 286.1l-3.1-.1M421.7 286.1l-3.1 .3M410.8 287.6l-3.1 .7M380.3 429.4l2.5 1.8M405.1 441.6l3 .8M424.2 444.6l3.1 .1M492.8 409.8l1.7-2.6M497.1 402.7l1.4-2.7M495.4 319.5l-1.9-2.7M364.2 312.3l-2 2.5M407 445l3.2 .8M470.5 435.1l2.7-1.7M491.8 416.1l1.9-2.6M498.2 406.6l1.6-2.9M488.4 306.4l-2.4-2.4M479.6 298.4l-2.7-2M424.3 280.3l-3.3 .2M481.3 296.2l-2.7-2.1M346.9 329.4l-1.3 3.2M339.3 362l-.1 3.5M475.3 288.5l-3-1.8"/>
<path stroke="#1ae500" d="M494.5 356l-.4-2.7M484.9 329.3l-1.4-2.2M482.3 325.4l-1.6-2.1M397.4 304.1l-2.4 1.2M387 420.3l2.2 1.5M417.5 432.7l2.6 .3M474.3 414.4l1.9-1.9M482.1 405.4l1.5-2.2M494.1 377.3l.4-2.7M488.6 330l-1.5-2.4M486 325.8l-1.6-2.3M483.1 321.8l-1.8-2.2M369.8 323.5l-1.6 2.3M361.4 338.6l-1 2.6M358.3 348l-.6 2.6l-.5 2.5M356.9 355.3l-.3 2.7M383.3 421.1l2.2 1.6M398.1 430l2.6 1.1M407.4 433.4l2.5 .7l2.6 .6M454.9 297l-2.7-1M404.2 435.4l2.6 .8l2.6 .7M454.6 433.7l2.6-1.1M472.4 423.5l2.2-1.8M484.1 314.2l-2-2.2M467.8 300.5l-2.6-1.6M437.9 289.5l-3-.4M354.3 341.5l-.8 2.9M351.7 378.4l.5 3M375.8 422.1l2.2 1.9M465.2 431.7l2.6-1.6M488.9 410.4l1.8-2.4M488 314.4l-2-2.3M478.3 304.6l-2.5-2M368.2 312.1l-2 2.3M347.8 362.4l-.1 3.1M366.2 416.2l2 2.3M421.4 444.5l3.1 .1M471.4 431.2l2.5-1.8M493.7 317.1l-1.9-2.6M415.8 283.9l-3.1 .5M345.4 356.5l-.3 3.2M495.2 411.4l1.7-2.7M469.8 291.7l-2.9-1.6M384.7 291.6l-2.8 1.7M343.9 382.8l.7 3.2M450.4 447.1l3-.9l3-1M497.5 413l1.8-2.8M496.5 311.3l-2.2-2.6M488.3 302.2l-2.5-2.3M471.2 289.3l-3-1.7M448.5 280.1l-3.3-.8M430.4 277.5l-3.5-.1M339.3 368.2l.2 3.4M512.3 396.5l1.1-3.4"/>
<path stroke="#33cc00" d="M459.2 305.3l-2.4-1.2M417.8 297.9l-2.7 .4M381.7 314.6l-1.9 1.7l-1.8 1.8M376.6 319.6l-1.7 2.1M361.1 348.7l-.6 2.6M359.2 360.4l-.1 2.7M360.5 379.3l.6 2.6M399.3 427.4l2.4 1.1M434.1 433l2.6-.3M474.7 312.7l-2.1-1.8M387.6 306.4l-2.3 1.6M363.4 334.1l-1.1 2.5M366.9 402.7l1.5 2.4M486.8 322.1l-1.7-2.3M482 316.1l-2-2.1M363.3 328.3l-1.4 2.5M437.2 438.3l2.9-.4M456.9 432.7l2.7-1.2M492.1 324.9l-1.6-2.5M480.4 310.3l-2.2-2M458.4 295.4l-2.6-1.1l-2.7-1M429.9 288.8l-3-.1M382.2 303.3l-2.4 1.8M378 306.6l-2.2 1.9M352.2 381.1l.7 2.9M356.1 393.8l1.1 2.8M360.7 403.4l1.6 2.6M416.3 441.1l3 .4M424.3 441.8l3 .1M429.6 441.8l3-.1M491.9 406l1.6-2.6M457 291.8l-2.9-1.2M427.3 285.9l-3.1 .1M348.9 351.4l-.4 3M355.7 400l1.4 2.7M492 314.8l-2-2.5M391.2 291.3l-2.8 1.5M369.9 424.3l2.3 2.2M486.1 422.5l2.2-2.3M493.5 413.8l1.9-2.7M499.6 404l1.5-2.8M484.1 302.2l-2.5-2.2M474.8 294.9l-2.8-1.8M464.5 288.9l-3-1.4M392.7 287.5l-3 1.4M353.5 322.6l-1.6 2.9M342.3 359.2l-.2 3.3M483.7 298.1l-2.6-2.2M412 278.7l-3.3 .7M494.6 304.8l-2.4-2.6"/>
<path stroke="#4db200" d="M454.9 303.2l-2.4-1.1M446 299.9l-2.6-.7M393.2 306.3l-2.3 1.3M375 321.4l-1.6 2.1M365 337.5l-1.1 2.4M362.4 344.1l-.8 2.6M361 381.6l.7 2.6M371.9 405.2l1.6 2.1M392.9 424.2l2.4 1.3M480.7 407.3l1.6-2.1M486 399.5l1.3-2.4M493.1 381.9l.6-2.6M478.2 316.2l-2-2M466.9 306.6l-2.4-1.5M446.8 297.2l-2.7-.7M417.4 295.1l-2.8 .4M405.3 297.8l-2.6 .9M364.4 398.5l1.4 2.4M389.4 425.3l2.4 1.5M479.7 412.9l1.8-2.1M488.4 400.9l1.4-2.4M492.8 392l1-2.6M440.1 292.7l-2.9-.4M354.1 354.9l-.3 2.8M365.9 406.4l1.6 2.4M409.1 436.8l2.8 .7M452.2 434.6l2.7-1M466 427.9l2.5-1.6M474.4 421.9l2.1-1.9M476.4 306.8l-2.3-1.9M411.3 290.4l-2.9 .7M408.4 439.5l2.9 .7M426.9 441.9l3-.1M472 427.3l2.4-1.8M489.8 316.6l-2-2.5M482.4 308.3l-2.3-2.1M416.2 286.7l-2.9 .4l-2.9 .6M361.4 320.8l-1.7 2.6M354.6 332.9l-1.2 2.8M348.1 373.4l.4 3.1M488.3 310.4l-2.2-2.3M480.1 302.4l-2.5-2M374.4 302.2l-2.4 2.1M368.1 308.1l-2.2 2.3M344.9 362.3l0 3.2M365.9 420.2l2.2 2.3M415.5 446.7l3.2 .4M457.7 441.6l3-1.3M490.4 308.5l-2.2-2.4M450.7 283.6l-3.2-.9M403.8 283.5l-3.1 1M492.1 420.1l2.1-2.6M468.5 287.8l-3-1.6M403.1 280.8l-3.3 1M490.2 300.2l-2.6-2.4"/>
<path stroke="#669900" d="M476.2 318.1l-1.9-1.9M448.3 300.6l-2.6-.8M399.5 303.1l-2.4 1.1M368.2 331.1l-1.3 2.4M360.1 353.3l-.4 2.7M365.9 395l1.2 2.4M470.7 417.5l2.1-1.7M495.1 367.8l.1-2.6M479.9 318l-1.9-2.1M357.2 377.5l.5 2.5l.6 2.6M358.9 384.7l.8 2.7M402.7 431.9l2.6 .9M470.6 421.3l2.2-1.8M476.2 416.4l2-2M484.4 407.1l1.6-2.3M397.3 297.9l-2.7 1.2M355.6 347.3l-.7 2.8M354.5 378l.5 2.8M355.5 383l.8 2.8M383.6 424.9l2.4 1.6M439.8 437.9l2.8-.5M447.3 436.2l2.7-.8M460.8 296.6l-2.7-1.3M443.2 290.4l-3-.5M384.4 301.7l-2.4 1.8M366.9 318l-1.8 2.4M351.3 354.5l-.4 3M350.5 365.1l.1 3M350.7 370.5l.3 3M354.2 388.8l1 2.8M405.8 438.8l2.9 .8M453.1 437.3l2.8-1.1M485.6 414.6l1.9-2.3M464.5 295.3l-2.7-1.4M354.5 397.4l1.3 2.8M369.9 420.3l2.2 2.2M392.2 436.6l2.8 1.3M407.7 442.3l3.1 .7M435.2 444.3l3.1-.4M451.5 440.9l2.9-1.1M477.9 300.6l-2.6-1.9M366.1 310.2l-2.1 2.4M362.4 314.5l-1.9 2.6M348.9 390.5l1 3.1M362.2 415.8l1.9 2.3l2 2.3M367.8 422.3l2.3 2.3M381 433.4l2.7 1.7M393.5 440.3l3 1.3M475.3 431.9l2.6-1.9M486.3 304.2l-2.4-2.2M456.4 285.4l-3.2-1M347.2 336l-1 3.2M345.4 341.7l-.9 3.2M360 417.5l2.1 2.6M421 450.1l3.3 .2M342.7 340.9l-.9 3.3M339.5 359l-.2 3.4"/>
<path stroke="#808000" d="M495 360.7l-.2-2.7M479.3 321.7l-1.7-2.1M461.3 306.4l-2.4-1.3M359.2 369.9l.2 2.7M362.3 386.2l.8 2.4l.9 2.3M364.9 392.9l1.1 2.4M369.3 401.3l1.4 2.2M388.9 421.7l2.2 1.4M397.1 426.4l2.4 1.1M419.8 433l2.7 .2M450.2 429.3l2.5-.9M484.5 323.7l-1.6-2.2M462.7 304l-2.4-1.4M439.6 295.5l-2.8-.4M391.8 303.8l-2.4 1.5M365.8 329.7l-1.4 2.4M356.6 372.6l.3 2.7M362.3 394l1.1 2.5M414.6 435.1l2.8 .4M474.4 418.1l2.1-1.9M489.7 326.4l-1.6-2.5M470.6 305.7l-2.3-1.5l-2.3-1.5M447.6 294.5l-2.8-.8M360.9 332.8l-1.2 2.7M353.4 367.7l.2 2.9M353.8 372.9l.3 2.8M356.2 385.5l.8 2.7M368.9 410.6l1.8 2.2M432.1 438.9l2.9-.3M442.3 437.5l2.8-.7M463.8 429.2l2.5-1.5M414 289.9l-3 .5M408.7 291l-2.9 .8M389 298.9l-2.6 1.6M356.2 336.5l-1 2.6l-1 2.7M351 357.1l-.3 2.9l-.1 2.8M352.8 383.7l.8 2.9M370.1 416.4l2 2.2M386.4 430.1l2.6 1.6M482.1 418.6l2-2.2M469.3 298.1l-2.7-1.6M449.1 289l-3-.8M441 287.1l-3-.4M397.5 291.6l-2.8 1.2M382.8 299.4l-2.5 1.8M347.8 367.9l.1 3.1M348.9 378.9l.5 2.9l.7 2.9M352.4 392.3l1.2 2.9M480.1 424.4l2.3-2.1M455.4 288.1l-3.1-1M444.4 284.9l-3-.6l-2.9-.4l-3-.4M430.1 283.1l-3.2 0M396.5 289l-3 1.3M352.1 331.7l-1.3 3M349.9 337l-1 3.1M347.4 345.2l-.8 3.2M345.1 359.4l-.2 3.2M346.1 379.4l.6 3.2M350.8 395.9l1.3 3M390.9 439.1l2.9 1.4M426.9 447.5l3.2 0M477.2 296.6l-2.7-1.9M453.5 284.5l-3.1-1M445 282.2l-3.3-.7M347.1 394.2l1.2 3.1M389.7 441.7l3 1.4M388.7 286.2l-3 1.6M351.1 321.2l-1.6 2.8l-1.5 2.9M342.6 389.3l1 3.3M436.1 452.7l3.4-.4M502.4 314.7l-2-2.9"/>
<path stroke="#996600" d="M467.2 310.3l-2.2-1.5M424.9 297.3l-2.7 .1M372.1 325.2l-1.5 2.2M366 335.3l-1.1 2.4M359.4 358l-.2 2.7M361.6 383.9l.8 2.6M370.6 403.2l1.5 2.2M379.7 414.2l2 1.8M405.9 430l2.6 .8M410.5 431.3l2.6 .6M476 412.7l1.8-2M493.7 379.6l.5-2.6M396.2 301.5l-2.5 1.3M359.7 343.2l-.8 2.7M356.6 357.7l-.2 2.8M358.3 382.3l.7 2.7M448.9 432.8l2.6-.9M493.4 333.1l-1.3-2.6M480.2 314.2l-2-2M464.1 301.5l-2.4-1.3l-2.3-1.2l-2.5-1.1M409.4 293.7l-2.8 .8M402 296l-2.7 1M362.1 330.5l-1.3 2.6M359.8 335.2l-1.1 2.6M354.5 352.3l-.4 2.9M354.9 380.5l.7 2.8M358.7 392.8l1.1 2.6M374 416.4l2 2M414.1 437.9l2.9 .4M444.8 436.9l2.8-.8M481.8 414.7l1.9-2.1M486.7 408.8l1.6-2.4M489.5 404.5l1.5-2.5M398.6 294.3l-2.8 1.1M362.3 324.6l-1.6 2.6M357.2 334l-1.1 2.8M351.7 351.8l-.4 3M350.6 367.8l.1 3M391 432.8l2.7 1.4M398.3 436.2l2.8 1.1M413.6 440.7l3 .4M462.9 433l2.6-1.5M467.5 430.3l2.5-1.6M473.9 301.2l-2.5-1.8M459.5 292.8l-2.8-1.2M357.1 327.9l-1.4 2.6l-1.2 2.7M347.9 370.7l.3 3.1M351.5 389.7l1.1 2.9M486 418.5l1.9-2.2l1.9-2.3M470.8 295.7l-2.7-1.7M449.9 286.3l-3.1-.8M353.3 329.1l-1.4 2.9M346.7 348l-.6 3.2M346.6 382.2l.8 3.2M354.4 403.7l1.6 2.9M409.8 445.7l3.2 .6M429.8 447.5l3.2-.2M438.4 446.7l3.1-.5M387.3 290.1l-2.9 1.6M346.3 338.9l-1 3.1M342.1 368.1l.2 3.1l.2 3l.4 3.1M426.9 450.3l3.3 0M472 437.5l2.8-1.8M501.7 318.9l-1.9-2.9M478.9 294.3l-2.7-1.8l-2.7-1.8M415.1 278.3l-3.4 .5M364 304.1l-2.3 2.5M354.4 316l-1.9 2.9M343.6 338l-1 3.3M340.5 380.4l.7 3.2l.6 3l.9 3.1M343.5 392.3l1.1 3.2M498.1 417.1l2-2.8M487.9 298l-2.6-2.3M472.6 286.8l-3.1-1.7M462.3 278.7l-3.4-1.4"/>
<path stroke="#b34c00" d="M471 313.2l-2.1-1.6M465.3 308.9l-2.2-1.4M457.1 304.2l-2.4-1.1M450.5 301.4l-2.5-.9M429.6 297.3l-2.6-.1M401.7 302.1l-2.4 1.1M389.2 308.8l-2.2 1.5M373.4 407.1l1.6 2.1M395 425.3l2.4 1.2M484.8 401.5l1.3-2.3M456.1 300.6l-2.6-1.1M429.7 294.4l-2.7 0M356.2 367.6l.2 2.8M453.5 431.1l2.6-1.1M468.7 422.7l2.2-1.6M497.3 375.3l.3-2.7M474.6 308.9l-2.2-1.8M435 292l-2.9-.3M376 312.2l-2 2M372.4 315.9l-1.9 2.1M354.1 375.4l.4 2.9M360.8 397.5l1.3 2.6M381.6 423.3l2.3 1.7M401.7 434.5l2.8 1M416.7 438.3l2.8 .3M449.7 435.5l2.8-1M476.3 420.2l2.1-2M465.5 299.1l-2.6-1.5M453.4 293.4l-2.8-1M396.1 295.3l-2.7 1.3M386.7 300.3l-2.5 1.6M359.6 329.2l-1.4 2.7M358.2 398.7l1.4 2.7M365.1 410.2l1.7 2.2l1.8 2.2M476.2 424l2.2-1.9M466.9 296.6l-2.7-1.5M348.2 356.8l-.3 3.1M358.3 404.8l1.6 2.7M382.6 431l2.6 1.7M459.2 437.9l2.8-1.3M473.6 429.6l2.5-1.8M484.1 420.6l2.1-2.3M465.8 292.8l-2.7-1.4l-2.7-1.3M404.6 286.2l-3.1 1M388.7 292.6l-2.9 1.6M349 339.7l-1 3.1M347.3 385l.8 3.1M360.5 413.5l1.9 2.6M482 426.5l2.3-2.2M467.2 290.3l-3-1.5M459.1 286.5l-3.1-1.2M377.3 296.4l-2.7 2M370.3 302l-2.4 2.2M358.4 315.2l-1.9 2.7M342.9 377l.5 3.2M345.3 388.6l1 3.1M397.8 445.2l3.2 1M418 449.9l3.3 .2M424 450.3l3.3 0M486 426.6l2.4-2.4M502.1 405.4l1.5-3M460.2 283.9l-3.2-1.2M442.5 278.8l-3.4-.5M409 279.3l-3.3 .8M483.4 432.7l2.6-2.2M336.9 374.6l.4 3.5"/>
<path stroke="#cc3300" d="M472.8 314.8l-2.1-1.7M436.7 297.9l-2.6-.3M422.5 297.4l-2.7 .2M415.4 298.2l-2.6 .5M387.2 310.1l-2.1 1.6M412.8 431.9l2.6 .5M490.2 390.9l.9-2.5M449.2 297.9l-2.7-.8M424.8 294.4l-2.8 .2M419.8 294.8l-2.7 .3M407.7 297.1l-2.7 .8M368.4 325.5l-1.5 2.4M363.3 396.2l1.3 2.5M371.1 408.8l1.8 2.2M387.3 424l2.4 1.5M431.9 436l2.8-.2M458 429.1l2.5-1.3M466.6 424.2l2.3-1.6M478 414.7l1.9-2.1M476.5 310.6l-2.1-1.9M466.3 302.9l-2.5-1.5M450 295.2l-2.7-.8M442.6 293.2l-2.8-.5M366.1 323.9l-1.6 2.5M358.8 337.5l-1 2.7M353.4 365.1l0 2.9M370.5 412.6l1.8 2l1.9 2M379.6 421.7l2.2 1.8M419.2 438.6l2.9 .3M426.9 439l2.9 0M461.6 430.5l2.5-1.4M478.2 418.4l2-2M472.2 303.5l-2.4-1.8M448.4 291.8l-2.9-.8M353.6 344l-.8 2.8l-.6 2.7M362.1 405.7l1.6 2.5M455.6 436.3l2.6-1.1l2.6-1.2M469.8 428.9l2.4-1.8M446.5 288.3l-3.1-.7M376.2 304.4l-2.3 2M359.7 407.2l1.7 2.6M394.7 437.8l2.8 1.2M418.6 444.2l3.1 .3M426.9 444.7l3.1-.1M438 443.9l3-.4M475.8 428l2.5-2M475.6 298.9l-2.7-1.9M468.4 294.2l-2.9-1.6M386.1 294l-2.7 1.7M356 324l-1.6 2.9M345.1 370.9l.3 3.2M383.4 434.9l2.7 1.7M401.5 443.4l3.1 1M418.3 447l3.2 .3M472.9 433.6l2.7-1.9M477.6 430.2l2.5-2M447.8 282.8l-3.2-.7M439.1 281.1l-3.3-.4M430.2 280.3l-3.3 0M415.4 281.1l-3.2 .5M398.2 285.3l-3.1 1.2M379.7 294.7l-2.7 1.9M356.7 317.6l-1.8 2.8M343.4 350.4l-.5 3.1l-.4 3.1M342.1 362.2l0 3.3M346.2 391.4l1 3.2M361.8 419.8l2.2 2.5M365.8 424.2l2.4 2.4M381.9 437.3l2.8 1.7M395.1 444.1l3.1 1.2M406.4 447.8l3.2 .7M438.8 449.5l3.2-.5M444.6 448.5l3.2-.7M461.5 443.1l3-1.4M492.3 424.2l2.2-2.6"/>
<path stroke="#e61900" d="M439.1 298.3l-2.7-.4M373.5 323.3l-1.6 2.1M376.4 410.7l1.7 1.9l1.8 1.8M381.4 415.8l2.1 1.7M385.1 418.9l2.1 1.6M415.1 432.3l2.7 .4M436.4 432.7l2.7-.4M441.1 431.9l2.6-.6M456.8 426.5l2.4-1.2M465 421.8l2.1-1.4l2-1.5M483.5 403.5l1.4-2.2M403 298.6l-2.6 1M356.4 370.1l.2 2.8M369.7 406.9l1.6 2.2M379.5 417.9l2.1 1.8M419.5 435.8l2.7 .2l2.4 .2l2.5 0l2.6 0M434.4 435.8l2.7-.3M439.3 435.2l2.7-.6M451.2 432l2.6-1M455.8 430.1l2.5-1.1M482.9 409.1l1.6-2.2M485.8 405.1l1.5-2.4M488.3 324.2l-1.6-2.4M367.4 408.5l1.7 2.3M397 432.6l2.6 1.1M421.8 438.8l2.9 .2M434.7 438.6l2.8-.3M355.1 391.3l1.1 2.8M373.8 420.3l2.2 2M377.8 423.8l2.3 1.9M393.4 434l2.6 1.2l2.6 1.1M424.5 286l-3.1 .1M380.6 301l-2.5 1.8M352.6 338l-1.1 2.9M350.8 343.3l-.8 3M350 384.3l.8 3M353.4 394.9l1.2 2.8M361.2 409.6l1.7 2.4l1.7 2.3M373.9 424.2l2.2 1.9l2.3 1.9M387.3 434l2.7 1.5M448.8 441.7l3-1M456.7 439l2.8-1.2M461.8 436.7l2.7-1.4M424.4 283.1l-3.2 .2M378.9 298.7l-2.6 1.9M345.7 353.7l-.4 3.2M412.7 446.2l3.1 .5M432.7 447.3l3.2-.3M444 445.8l3-.7l2.9-.8M479.8 428.4l2.4-2.1M401 284.4l-3.2 1M364 308.3l-2 2.3l-2 2.5M412.2 449l3.2 .5M464.2 441.8l3-1.5M474.5 435.9l2.7-1.9M394.4 283.8l-3.2 1.3M386 287.6l-3 1.7M464.2 282.5l-3.3-1.4"/>
<path stroke="#ff0000" d="M420.1 297.6l-2.6 .3M370.7 327.1l-1.3 2.1l-1.3 2.2M359.7 355.7l-.3 2.6M360 377l.5 2.6M390.9 423l2.3 1.3M403.7 429.2l2.5 .9M427 433.4l2.6-.1M438.8 432.4l2.6-.5M398.4 300.5l-2.5 1.1M393.9 302.6l-2.4 1.4M389.7 305.1l-2.4 1.5M376.2 315.9l-1.9 2.1M371.3 321.5l-1.6 2.2M377.7 416.2l2.1 1.9M385.3 422.6l2.3 1.6M441.7 434.7l2.7-.6M446.5 433.5l2.7-.8M464.5 425.5l2.4-1.5M481.3 411l1.8-2.2M394.9 299l-2.6 1.3M381.8 307.1l-2.1 1.7l-2 1.8M369.1 319.8l-1.6 2.2l-1.6 2.2M377.7 420l2.1 1.9M392.3 430.3l2.6 1.3M429.5 439l2.9-.2M421.9 288.9l-3 .3M416.6 289.5l-3 .4M376 308.3l-2.2 2M372.1 312l-2 2.2M363.7 322.4l-1.6 2.5M379.8 425.5l2.4 1.8M384.2 428.7l2.5 1.6M400.8 437.2l2.8 1M411 440.2l3 .5M418.9 441.4l3 .3M434.9 441.5l3-.4M445.5 439.6l2.9-.8M478.2 422.3l2.1-1.9l2-2M443.8 287.7l-3.1-.6M430 286l-3.1-.1M390 295.1l-2.7 1.5M370.1 310l-2.1 2.3M371.8 422.3l2.3 2.1M378.1 427.8l2.5 1.8M399.8 439.8l2.9 1.1M415.9 443.9l3.1 .4M443.4 443l3.1-.7M464.2 435.5l2.6-1.4l2.5-1.6M478 426.2l2.3-2M482.1 422.5l2.2-2.2M418.7 283.5l-3.2 .4M410.2 284.8l-3.2 .8M357.5 321.6l-1.7 2.7M349.8 393.3l1.1 3M376.3 430l2.6 1.9M388.4 437.8l2.8 1.5M449.6 444.4l3.1-1M455.1 442.6l3-1.1M460.4 440.5l2.9-1.4M468.1 436.6l2.7-1.7M427.3 280.3l-3.3 0M421.3 280.5l-3.3 .2M382.2 293.1l-2.8 1.8M348.3 333.3l-1.2 3.1M392.3 442.9l3.1 1.3M429.9 450.3l3.3-.2M454.4 281.8l-3.3-1M349.4 406.4l1.7 3M426.9 453.2l3.5-.1M483.1 293.9l-2.8-2.1"/>
<path stroke="#e50000" d="M427.2 297.2l-2.6 .1M360.5 351l-.5 2.6M374.9 408.9l1.7 2.1M431.7 433.2l2.7-.2M461 424.3l2.2-1.3l2.1-1.3M472.5 416l2-1.8M444.4 296.5l-2.6-.6l-2.5-.5M437.1 295.1l-2.6-.3l-2.5-.2l-2.6-.2M412.5 295.9l-2.7 .6M378 314.2l-2 2M360.5 340.9l-.9 2.6M400.4 431l2.6 1M429.8 291.6l-2.9 0M422.1 291.7l-2.9 .3M414.4 292.7l-2.8 .5M390.4 301.4l-2.5 1.5M399.3 433.6l2.7 1M468.2 426.5l2.4-1.6M440.6 289.9l-3-.4M401.1 293.3l-2.8 1.1M437.6 441.1l3-.4M460.5 434.2l2.7-1.4M435.6 286.4l-3.1-.3M372.1 308.1l-2.2 2.2M364.6 316.3l-1.8 2.5M348.5 376.2l.4 3M389.7 435.3l2.7 1.4M429.7 444.6l3.1-.1M446.1 442.4l3-.8M484.3 306.3l-2.2-2.1l-2.3-2M433 283.3l-3.2-.2M407.4 285.5l-3.1 .8M372.2 304.1l-2.3 2.2M359 319.2l-1.7 2.7M354.6 326.6l-1.5 2.8M424.1 447.5l3.2 0M484.1 424.6l2.3-2.3M436.2 280.7l-3.2-.2l-3.1-.2M390 288.8l-3 1.5M409.2 448.4l3.3 .7M473.8 290.9l-2.9-1.8M421.2 277.6l-3.5 .3M380.7 290.7l-2.9 1.9M348.2 326.6l-1.4 3.1M339.7 374.3l.4 3.4M473.5 439.9l2.9-1.9M490.2 426.5l2.3-2.5M359.8 304.5l-2.3 2.6"/>
<path stroke="#cc0000" d="M452.7 302.2l-2.5-.9M443.7 299.3l-2.6-.6M413.1 298.7l-2.6 .6M383.5 313.1l-2.1 1.7M422.2 433.2l2.7 .1M362.4 336.3l-1.1 2.6M478.4 312.4l-2.1-2M427.3 291.6l-2.8 0l-2.7 .2M383.9 305.6l-2.3 1.7M377.9 310.4l-2.1 2M391.3 297.6l-2.6 1.5M380.1 304.9l-2.3 1.9M370.3 314l-1.9 2.2M350.6 362.5l-.1 3M363.5 408l1.8 2.4M450.6 438.2l2.8-1M419 286.3l-3.1 .4M405.4 288.9l-2.8 .9l-2.8 1M387.6 296.5l-2.7 1.6M374.1 306.2l-2.3 2.1M397.2 438.8l2.9 1.2M427.3 283.1l-3.2 0M393.8 290.1l-2.9 1.4M353.1 401.2l1.5 2.8M404.3 444.3l3.1 .8M463 439.3l2.8-1.5M412.5 281.5l-3.1 .6l-3 .7M352.1 325.2l-1.5 3M458.8 444.2l3.1-1.3M466.9 440.5l2.9-1.6M486 300.1l-2.6-2.2M465.8 286.4l-3.1-1.4M457.3 282.8l-3.2-1.1M375.6 294.1l-2.7 2.1M361.9 306.4l-2.2 2.6M356.1 313.5l-2 2.8M390.4 282.4l-3.2 1.5"/>
<path stroke="#b20000" d="M441.4 298.7l-2.6-.5M410.8 299.2l-2.5 .7l-2.4 .7M395.3 305.1l-2.4 1.3M385.3 311.6l-2.1 1.6M424.6 433.3l2.6 .1M410.1 296.5l-2.7 .7M385.5 307.9l-2.2 1.6M374.5 317.7l-1.8 2.1M395.9 429l2.5 1.1M405 432.7l2.7 .8M406.9 294.4l-2.7 .8M399.6 296.9l-2.6 1.1M392.6 300.1l-2.5 1.4M388.2 302.7l-2.5 1.6M353.6 360l-.2 2.9M485.1 410.8l1.7-2.3M445.8 291.1l-2.9-.7M432.6 288.9l-3-.1M424.6 288.8l-3 .1M406.2 291.7l-2.9 .8M483.9 416.6l1.9-2.2M438.3 286.7l-3.1-.4M395 292.7l-2.8 1.3M378.4 302.6l-2.5 2M366.4 314.1l-2 2.5M364.4 414l2 2.5M413 284.3l-3.2 .6M383.7 295.5l-2.6 1.6l-2.5 1.8M372 426.3l2.4 2.1M406.7 282.7l-3.2 .9M395.4 286.4l-3.1 1.3M344.6 344.6l-.7 3.2M432.9 450.1l3.3-.2M418.1 277.9l-3.4 .4M400.1 281.7l-3.2 1.1M383.3 289.1l-2.9 1.8M370.8 297.9l-2.5 2.1l-2.4 2.2"/>
<path stroke="#990000" d="M427.2 294.4l-2.7 0M414.9 295.4l-2.7 .6M383.6 309.3l-2.2 1.8M356.4 360.2l-.2 2.6l0 2.6M386 304.1l-2.4 1.6M374.2 314l-2 2.1M370.7 317.8l-1.8 2.2M385.7 426.3l2.5 1.6M411.6 437.4l2.8 .5M435.3 289.2l-3-.3M440.2 440.7l3-.5M487.3 412.6l1.8-2.4M400.1 290.6l-2.9 1.2M351.7 340.6l-1 3M356.9 402.4l1.5 2.7M460.7 290.3l-3-1.3M452.7 287.2l-3.1-1M370.1 306l-2.3 2.3M348 387.8l1 3.1M368.2 304l-2.4 2.4M494 417.8l2-2.7M341.2 346.9l-.7 3.3M339.2 365.1l.1 3.5M423.8 453.1l3.5 .1M469.8 285.3l-3.1-1.6"/>
<path stroke="#800000" d="M434.4 297.6l-2.7-.2M404 301.3l-2.5 .9M359.1 367.5l.1 2.7M359.7 374.6l.4 2.7M383.2 417.4l2.1 1.6M372.9 319.6l-1.8 2.2M419.3 289.1l-3 .4M352.2 349.2l-.5 3M388.7 431.5l2.6 1.5M462 294l-2.8-1.3M392.4 293.9l-2.7 1.4M358.4 325.5l-1.5 2.7M360.7 316.8l-1.9 2.7M358.8 411.1l1.9 2.7M452.3 443.5l3.1-1"/>
<path stroke="#660000" d="M432 297.4l-2.7-.1M401.5 428.4l2.5 .9M422.3 294.6l-2.8 .2M452.5 296.1l-2.8-1M417 292.3l-2.9 .4M470 301.9l-2.5-1.6M378.6 431.7l2.7 1.9M465.5 438l2.9-1.6M418.4 280.7l-3.3 .4M377 434l2.7 1.9M488.2 424.5l2.2-2.4"/>
<path stroke="#4c0000" d="M408.2 430.7l2.6 .7M452.5 428.5l2.4-1.1M381.6 310.9l-2.1 1.8M368.2 404.8l1.6 2.3M436.8 435.5l2.8-.4M403.6 292.4l-2.8 1M374 310.1l-2.1 2.1M403.3 438.1l2.9 .8M376.6 300.4l-2.5 2M441.7 449.1l3.3-.7"/>
<path stroke="#330000" d="M468.9 419l2.1-1.6M364.6 331.9l-1.3 2.5M412.2 434.6l2.7 .6M382 427.1l2.4 1.8M384.9 432.5l2.7 1.6M358.2 415.1l2 2.7M384.4 438.9l2.9 1.6"/>
<path stroke="#190000" d="M378.2 317.9l-1.8 2M432.3 441.7l3-.3M421.5 283.3l-3.2 .3M360.2 312.8l-2 2.7M433.4 277.7l-3.4-.2"/>
<path stroke="#000000" d="M445.7 430.8l2.6-.8M400.7 299.5l-2.6 1.1M379.8 312.5l-2.1 1.9M391.5 426.6l2.4 1.4M472.6 419.7l2.1-1.8M437.5 292.3l-2.8-.3M411.9 293.1l-2.8 .7M404.5 295.1l-2.8 1M394.6 431.5l2.7 1.2M393.7 296.4l-2.7 1.4M368.6 316l-1.9 2.3M448 438.9l2.9-.8M408.1 288.2l-3 .8M385.2 297.9l-2.6 1.7M368 418.3l2.1 2.3M401.9 287.1l-2.9 .9l-2.9 1.1M421.2 447.3l3.2 .2M372.6 300l-2.5 2.2M370.1 428.4l2.5 2.2M469.5 439l2.8-1.7M439.5 278.3l-3.4-.4M427.3 277.4l-3.5 .1"/>
</g>
<circle cx="427.1" cy="365.3" r="65.05" fill="none" stroke="#0000f8" stroke-width="4.3"/>
<circle cx="427.1" cy="364.9" r="92.4" fill="none" stroke="#e80010" stroke-width="1.3" stroke-dasharray="2.4 0.3"/>
<path d="M435.1 272.9A92.4 92.4 0 0 1 519.5 368.9" fill="none" stroke="#f00010" stroke-width="1.9"/>
<rect x="322.06" y="260.26" width="210.08" height="210.08" fill="none" stroke="#000" stroke-width="2"/><path d="M326.10 260.26v3.10M326.10 470.34v-3.10M322.06 466.30h3.10M532.14 466.30h-3.10M330.14 260.26v3.10M330.14 470.34v-3.10M322.06 462.26h3.10M532.14 462.26h-3.10M334.18 260.26v3.10M334.18 470.34v-3.10M322.06 458.22h3.10M532.14 458.22h-3.10M338.22 260.26v3.10M338.22 470.34v-3.10M322.06 454.18h3.10M532.14 454.18h-3.10M342.26 260.26v3.10M342.26 470.34v-3.10M322.06 450.14h3.10M532.14 450.14h-3.10M346.30 260.26v5.40M346.30 470.34v-5.40M322.06 446.10h5.40M532.14 446.10h-5.40M350.34 260.26v3.10M350.34 470.34v-3.10M322.06 442.06h3.10M532.14 442.06h-3.10M354.38 260.26v3.10M354.38 470.34v-3.10M322.06 438.02h3.10M532.14 438.02h-3.10M358.42 260.26v3.10M358.42 470.34v-3.10M322.06 433.98h3.10M532.14 433.98h-3.10M362.46 260.26v3.10M362.46 470.34v-3.10M322.06 429.94h3.10M532.14 429.94h-3.10M366.50 260.26v3.10M366.50 470.34v-3.10M322.06 425.90h3.10M532.14 425.90h-3.10M370.54 260.26v3.10M370.54 470.34v-3.10M322.06 421.86h3.10M532.14 421.86h-3.10M374.58 260.26v3.10M374.58 470.34v-3.10M322.06 417.82h3.10M532.14 417.82h-3.10M378.62 260.26v3.10M378.62 470.34v-3.10M322.06 413.78h3.10M532.14 413.78h-3.10M382.66 260.26v3.10M382.66 470.34v-3.10M322.06 409.74h3.10M532.14 409.74h-3.10M386.70 260.26v5.40M386.70 470.34v-5.40M322.06 405.70h5.40M532.14 405.70h-5.40M390.74 260.26v3.10M390.74 470.34v-3.10M322.06 401.66h3.10M532.14 401.66h-3.10M394.78 260.26v3.10M394.78 470.34v-3.10M322.06 397.62h3.10M532.14 397.62h-3.10M398.82 260.26v3.10M398.82 470.34v-3.10M322.06 393.58h3.10M532.14 393.58h-3.10M402.86 260.26v3.10M402.86 470.34v-3.10M322.06 389.54h3.10M532.14 389.54h-3.10M406.90 260.26v3.10M406.90 470.34v-3.10M322.06 385.50h3.10M532.14 385.50h-3.10M410.94 260.26v3.10M410.94 470.34v-3.10M322.06 381.46h3.10M532.14 381.46h-3.10M414.98 260.26v3.10M414.98 470.34v-3.10M322.06 377.42h3.10M532.14 377.42h-3.10M419.02 260.26v3.10M419.02 470.34v-3.10M322.06 373.38h3.10M532.14 373.38h-3.10M423.06 260.26v3.10M423.06 470.34v-3.10M322.06 369.34h3.10M532.14 369.34h-3.10M427.10 260.26v5.40M427.10 470.34v-5.40M322.06 365.30h5.40M532.14 365.30h-5.40M431.14 260.26v3.10M431.14 470.34v-3.10M322.06 361.26h3.10M532.14 361.26h-3.10M435.18 260.26v3.10M435.18 470.34v-3.10M322.06 357.22h3.10M532.14 357.22h-3.10M439.22 260.26v3.10M439.22 470.34v-3.10M322.06 353.18h3.10M532.14 353.18h-3.10M443.26 260.26v3.10M443.26 470.34v-3.10M322.06 349.14h3.10M532.14 349.14h-3.10M447.30 260.26v3.10M447.30 470.34v-3.10M322.06 345.10h3.10M532.14 345.10h-3.10M451.34 260.26v3.10M451.34 470.34v-3.10M322.06 341.06h3.10M532.14 341.06h-3.10M455.38 260.26v3.10M455.38 470.34v-3.10M322.06 337.02h3.10M532.14 337.02h-3.10M459.42 260.26v3.10M459.42 470.34v-3.10M322.06 332.98h3.10M532.14 332.98h-3.10M463.46 260.26v3.10M463.46 470.34v-3.10M322.06 328.94h3.10M532.14 328.94h-3.10M467.50 260.26v5.40M467.50 470.34v-5.40M322.06 324.90h5.40M532.14 324.90h-5.40M471.54 260.26v3.10M471.54 470.34v-3.10M322.06 320.86h3.10M532.14 320.86h-3.10M475.58 260.26v3.10M475.58 470.34v-3.10M322.06 316.82h3.10M532.14 316.82h-3.10M479.62 260.26v3.10M479.62 470.34v-3.10M322.06 312.78h3.10M532.14 312.78h-3.10M483.66 260.26v3.10M483.66 470.34v-3.10M322.06 308.74h3.10M532.14 308.74h-3.10M487.70 260.26v3.10M487.70 470.34v-3.10M322.06 304.70h3.10M532.14 304.70h-3.10M491.74 260.26v3.10M491.74 470.34v-3.10M322.06 300.66h3.10M532.14 300.66h-3.10M495.78 260.26v3.10M495.78 470.34v-3.10M322.06 296.62h3.10M532.14 296.62h-3.10M499.82 260.26v3.10M499.82 470.34v-3.10M322.06 292.58h3.10M532.14 292.58h-3.10M503.86 260.26v3.10M503.86 470.34v-3.10M322.06 288.54h3.10M532.14 288.54h-3.10M507.90 260.26v5.40M507.90 470.34v-5.40M322.06 284.50h5.40M532.14 284.50h-5.40M511.94 260.26v3.10M511.94 470.34v-3.10M322.06 280.46h3.10M532.14 280.46h-3.10M515.98 260.26v3.10M515.98 470.34v-3.10M322.06 276.42h3.10M532.14 276.42h-3.10M520.02 260.26v3.10M520.02 470.34v-3.10M322.06 272.38h3.10M532.14 272.38h-3.10M524.06 260.26v3.10M524.06 470.34v-3.10M322.06 268.34h3.10M532.14 268.34h-3.10M528.10 260.26v3.10M528.10 470.34v-3.10M322.06 264.30h3.10M532.14 264.30h-3.10" stroke="#000" stroke-width="1.6" fill="none"/>
<text y="281.3" font-size="15" stroke="#000" stroke-width="0.75"><tspan x="477.0 487.1">Ex</tspan><tspan x="495.7" dy="3.8" font-size="23" font-style="italic" stroke-width="0.25">/</tspan><tspan x="505.2 514.8 521.8" dy="-3.8">Esw</tspan></text>
<text x="301.6" y="270.8" font-size="20.5" text-anchor="start" textLength="15.2" lengthAdjust="spacingAndGlyphs">b'</text>
<g fill="none" stroke-width="3.25">
<path stroke="#000000" d="M258.8 577.7l-.8-3.3l-.8-3.2l-1-3.1l-1-3.1l-1.2-3l-1.3-3l-1.3-3l-1.5-2.9l-1.6-2.9l-1.7-2.8l-1.8-2.7l-1.8-2.7l-2-2.6l-2.1-2.5l-2.1-2.5l-2.2-2.4l-2.3-2.3l-2.4-2.2l-2.5-2.1l-2.5-2.1l-2.6-2l-2.7-1.8l-2.7-1.8l-2.8-1.7l-2.9-1.6l-2.9-1.5l-3-1.3l-3-1.3l-3-1.2l-3.1-1l-3.1-1l-3.2-.8l-3.2-.8l-3.4-.6"/>
<path stroke="#00001a" d="M258 597.2l-.1-3.6M252.6 566.2l-1.3-3.4M167.1 690.5l3.7 0M180.1 689.6l3.6-.5M208.1 681.1l3.3-1.6M213.9 678.1l3.1-1.9M260.6 603.7l.2-3.6M259.3 560l-1.5-3.5M171 497.9l-3.9-.1M260.4 638.7l1.6-3.7"/>
<path stroke="#000033" d="M257.5 587.7l-.4-3.3l-.5-3.1l-.6-3.3M255.3 575.2l-.9-3.4M250.2 560.3l-1.5-3.2M254.4 622.2l.9-3.4M183.3 689.1l3.6-.7M199.1 685l3.4-1.4M263.4 590.5l-.3-3.8M261.6 577.2l-.9-3.7M257.8 630.1l1.2-3.5M259.9 623.8l.9-3.7M258 556.8l-1.6-3.5M181.3 498.8l-3.8-.5M264.9 614.4l.6-3.8M266.3 572.5l-1-3.8M264.4 565.7l-1.3-3.8M185.2 496.6l-3.9-.6M245.3 662.7l2.5-3.1M249.7 657.1l2.2-3.1l1.9-2.9l1.9-3.3M257.3 645.1l1.8-3.6"/>
<path stroke="#00004d" d="M256.1 578.3l-.8-3.4M253.6 569.2l-1.1-3.4M251.5 563.2l-1.4-3.3M252.5 628.2l1.1-3.2l.9-3.2M256 616l.6-3.3l.5-3.3M257.8 603.5l.1-3.3l.1-3.4"/>
<path stroke="#000066" d="M257.9 594l-.1-3.3l-.3-3.4M254.5 572.2l-1-3.4M251.3 631.2l1.3-3.4M257.5 606.7l.3-3.6M88.1 547.3l-1.9 3.1M75.2 580.6l-.5 3.6M73.8 596.8l0 3.7"/>
<path stroke="#000080" d="M246.5 602.7l.1-3.1M249.1 588.6l-.4-3.2M249.3 602.9l.2-3.2M252.3 597.2l0-3.3M253.3 578.9l-.7-3.2l-.9-3.1M253.8 612.4l.5-3.4M254.9 603.3l.2-3.4M255.3 619.1l.8-3.4M257.1 609.8l.4-3.5M84.8 552.9l-1.6 3.3M81.9 558.8l-1.4 3.3M79.5 564.8l-1.1 3.3l-1.1 3.3M75.9 577.4l-.7 3.6M74.7 583.8l-.4 3.4l-.3 3.3l-.2 3.2l0 3.5M73.8 600.1l.2 3.4l.3 3.5M75.8 616.3l.8 3.3l.8 3.2l1 3.1l1 3.1l1.2 3l1.3 3l1.4 3.2M91.5 651.8l2.2 2.9M123.2 679.5l3.3 1.6M163.8 690.5l3.7 0M85.5 647.9l2 3.1M71.9 624.1l1.1 3.7"/>
<path stroke="#000099" d="M243.8 599.8l.1-3M245.9 586.1l-.4-3M245 580.7l-.7-3.1M238.6 631.9l1.3-2.8M248.3 582.9l-.6-3l-.6-2.8l-.8-2.9M249 605.8l.3-3.2M249.5 600l0-3.2M250.5 579.5l-.7-3.1l-.8-3M251.5 609l.4-3.1l.2-3l.2-2.9l0-3.2M255.2 597.2l-.1-3.5M253.9 581.9l-.7-3.3M251.8 573l-1-3.3M251.7 621.4l.9-3.3M253.2 615.4l.7-3.3M254.3 609.4l.4-3.2l.3-3.3M255.1 600.3l.1-3.5M242.6 546.4l-2-2.9M240.6 650.5l2-2.9M244.1 645.2l1.7-2.9l1.7-2.9M174 503.7l-3.6-.2M117.9 517.6l-2.9 1.9l-2.8 2M95.8 536.7l-2.3 2.9M86.4 550.1l-1.8 3.2M83.3 555.8l-1.5 3.3M80.7 561.8l-1.4 3.4M74.3 606.6l.4 3.4l.5 3.4M83.2 637.8l1.5 3.1l1.7 3M89.7 649.1l2.1 3M71.9 583.4l-.4 3.7M71.5 606.9l.4 3.7M87.3 650.7l2.2 3.1M117.9 511l-3.3 2M71.1 572.8l-.9 3.8M68.6 607.2l.5 3.8M72.9 627.5l1.3 3.6M79.6 643.4l1.9 3.4"/>
<path stroke="#0000b3" d="M235.3 599.5l.1-2.6M238.2 597.1l0-2.6l-.2-2.6M238 602.1l.2-2.8M240.6 604.9l.3-2.9M241 599.7l0-2.9M243.8 594.5l-.1-2.8l-.3-2.7l-.3-2.8M239.3 571l-1.1-2.8M94.5 573.2l-.8 2.9M243.4 605.2l.3-2.9l.1-2.8M246.7 597.2l-.1-3.1M246.3 588.9l-.4-3.1M244.4 578l-.8-2.9l-.9-2.8M88.4 588.5l-.3 3.1M94.7 629.1l1.3 2.8M246.2 605.5l.3-3.1M246.6 599.9l.1-3.1M249.5 597.2l0-3.1l-.2-3M248.7 585.7l-.5-3.1M246.4 574.5l-1-3.1M244.6 569l-1.1-3M228.5 542.1l-2.2-2.3M85.6 588.2l-.3 3.1l-.2 3M243.5 628l1.1-2.9l.9-2.7l.9-2.9M248.2 611.4l.5-3l.4-3M251.9 588.3l-.4-3.1l-.4-3l-.7-3.1M249.1 573.7l-.9-3l-1-3M243.7 634.4l1.3-2.8l1.1-2.7l1.1-2.8l1-2.8l.9-3M249.8 617.7l.7-3l.6-2.9l.4-3.1M255 591.1l-.3-3.3l-.4-3.2M247.6 561.4l-1.4-3.1M243.5 553.2l-1.8-2.9M87.1 561.1l-1.3 3.2M83.8 569.7l-1 3.3M82.1 575.6l-.8 3.3M80.3 584.6l-.4 3.4M80.3 609l.5 3.4M236.4 651.2l2-2.6l1.9-2.6M241.7 643.7l1.7-2.8l1.6-2.8M252.5 618.4l.8-3.3M245.9 551.8l-1.7-2.9l-1.8-2.8M240.8 543.8l-2.1-2.8M234.8 536.5l-2.4-2.6M83.3 562.8l-1.2 3.2l-1.1 3.2M77.5 584.2l-.4 3.5M80.1 621.8l1 3.4M82 627.8l1.3 3.4M238.7 653l2.1-2.8M242.4 647.9l1.9-3M247.3 639.7l1.5-2.9l1.4-3.1M180.5 504.4l-3.6-.4M170.8 503.5l-3.7 0M144.9 506.2l-3.4 .9l-3.3 1M129.4 511.5l-3.3 1.5M123.6 514.3l-3.2 1.8M112.5 521.2l-2.8 2.1l-2.7 2.2M100.2 531.9l-2.4 2.5l-2.3 2.6M93.7 539.3l-2.2 2.9M89.9 544.5l-2 3.1M77.5 571l-.9 3.4l-.8 3.3M75.2 613l.7 3.6M86.2 643.6l1.8 3l1.9 2.9M97.7 659.4l2.3 2.6l2.5 2.4M126.1 681l3.3 1.5M122.2 511.8l-3.1 1.8l-3 1.8M79.2 636l1.6 3.4M83.8 645l1.9 3.2M69.7 579.6l-.6 3.8"/>
<path stroke="#0000cc" d="M235.2 592.4l-.2-2.7M233.9 611.3l.5-2.6M235 604.3l.2-2.7M238 592.2l-.2-2.6l-.3-2.6M234 572.9l-1-2.6M98 582.1l-.6 2.7M96.4 596.9l0 2.6l.2 2.6M99.1 616.4l.8 2.7M231 628.2l1.1-2.4l1-2.4M233.9 621.4l.9-2.6M237.1 609.5l.4-2.8M238.2 599.6l0-2.7M241 597.2l0-2.8l-.1-2.5l-.3-2.6l-.3-2.6l-.4-2.7M237.5 574.4l-.9-2.6l-1-2.6M234.7 567.2l-1.2-2.7M94 589.1l-.3 2.9M96.4 617.2l.8 2.7M233.5 629.5l1.2-2.7M236.5 622.4l1-2.8M238.8 615l.6-2.7l.5-2.6M240.3 607.4l.3-2.8M240.8 602.3l.2-2.9M243.9 597.2l-.1-3M242.7 583.9l-.5-2.8l-.7-2.8M240.9 576.1l-.8-2.8l-.9-2.6M101.1 558.6l-1.5 2.6M93.1 578.3l-.7 2.9M95.3 623l1 2.7l1.1 2.6M222.3 650.3l2-2.2M229.1 642.1l1.8-2.4M237.2 628.3l1.1-2.8M239.2 623.3l1-2.8M240.8 618.3l.8-2.8l.6-2.7M242.7 610.5l.4-2.8l.4-2.9M246.6 594.4l-.1-2.9l-.3-3M245.5 583.4l-.6-3.1M242.9 572.6l-1.1-2.9M239.9 564.9l-1.3-2.8M230 548.3l-2-2.5M91 575l-.8 3M88 594.1l-.1 3.1M89.1 610.6l.5 2.9l.7 2.9M234.5 639.2l1.6-2.7M237.3 634.4l1.4-2.7M240.8 626.9l1.2-2.9M242.7 621.7l.9-2.8l.7-2.7l.7-2.7l.5-2.7l.4-2.8l.4-2.9M249.3 591.4l-.3-3.2M245.5 571.8l-1-3.1M243.6 566.4l-1.3-3M240 558.6l-1.6-2.9M232.2 546.5l-1.9-2.3l-2-2.3M93.5 560.8l-1.4 2.9M87.6 576.9l-.7 3l-.6 3M85.9 585.4l-.4 3.2M85.1 596.8l0 3.2M85.9 608.3l.4 3l.6 2.8l.7 3M91 627.6l1.3 3M93.3 632.9l1.5 2.8M97.5 640.4l1.7 2.7M236.9 640.7l1.6-2.6l1.4-2.5l1.3-2.6l1.2-2.6l1.2-2.8M246.3 619.8l.8-2.9l.7-3M252.3 594.2l-.2-3.1l-.2-3.2M247.3 568.1l-1.2-3l-1.1-2.7l-1.3-2.7l-1.3-2.6l-1.5-2.6l-1.5-2.6l-1.6-2.5l-1.7-2.4l-1.8-2.4l-2-2.4M224.3 533.9l-2.5-2.2M87.4 567.7l-1 3.2M85.6 573.4l-.8 3l-.7 2.9l-.6 2.9l-.4 3.1M82.5 590.9l-.2 3.1l0 3l0 3l.2 3.1M83.1 608.7l.4 3.1l.7 3.1M100.2 649.2l2.1 2.6M108.1 658.1l2.4 2.2M214.7 667.6l2.7-1.9M234.2 649.5l1.9-2.5l1.8-2.6M239.3 642.2l1.6-2.7l1.6-2.7M249 620.6l.9-3.2M255.1 594.1l-.2-3.4M254.3 585l-.5-3.4M250.9 570l-1-3.1l-1.1-2.8l-1.3-3M246.4 558.6l-1.6-3M241.9 550.6l-1.8-2.7l-1.7-2.5l-2-2.6M91.3 552.9l-1.7 3M88.4 558.3l-1.4 3.1M85.9 563.9l-1.2 3l-1 3.1M81.4 578.6l-.6 3.1l-.5 3.3M79.9 587.6l-.3 3.5M79.4 596.8l.1 3.5M79.6 602.9l.3 3.5M80.7 612.1l.7 3.3M82 618.1l.9 3.3M83.7 624l1.1 3.2M85.8 629.7l1.3 3.2M89.6 638.1l1.7 3M92.7 643.4l1.9 2.9M213.7 671.6l2.9-1.9M232.5 655.9l2.1-2.4l2.1-2.5M240 646.3l1.9-2.9M244.8 638.4l1.5-2.9l1.3-2.8l1.2-2.8l1.1-2.8l1-2.9l.9-3.2M248.9 557.4l-1.5-3l-1.6-2.9M228.1 529.7l-2.6-2.3M218.2 521.9l-3-1.9M119.4 520l-3 1.9M85.9 557.1l-1.5 3l-1.3 3.1M81.1 568.8l-1 3.4M79.3 574.9l-.8 3.4M78 581.1l-.5 3.5M77.1 587.3l-.3 3.4l-.1 3.1l-.1 3.2l.1 3.4M76.8 603.1l.3 3.4l.4 3.1l.5 3.3M78.5 615.7l.8 3.4M81 624.8l1.1 3.4M84.4 633.7l1.5 3.2M87.1 639.4l1.7 2.9l1.7 2.9M99.8 657.5l2.4 2.6M204 679.9l3.2-1.5M225.5 666.6l2.5-2.2l2.3-2.2l2.4-2.3M236.7 655.4l2.2-2.7M250.1 634.1l1.4-3.3M183.7 504.9l-3.6-.5M167.5 503.5l-3.5 0l-3.2 .2l-3.5 .3M148 505.5l-3.5 .8M138.6 508l-3.3 1.1l-3 1.2l-3.2 1.3M126.5 512.9l-3.3 1.6M120.7 515.9l-3.1 1.9M107.3 525.2l-2.7 2.4M102.5 529.6l-2.6 2.6M91.8 541.9l-2.1 3M95.5 657l2.4 2.7M147.5 502.7l-3.7 .9M128.3 508.9l-3.2 1.5l-3.2 1.6M78 560.7l-1.3 3.5M74.7 570.2l-.9 3.7M73.1 576.8l-.7 3.7M75.6 626.6l1.2 3.5M80.6 639.1l1.7 3.3M89.2 653.5l2.2 2.8l2.2 2.8M120.9 509.3l-3.4 1.9M74 630.7l1.4 3.6M78.1 640.3l1.7 3.4"/>
<path stroke="#0000e6" d="M235.4 597.1l-.1-2.5l-.1-2.5M235 590l-.3-2.5l-.4-2.3l-.4-2.5M233.4 580.7l-.7-2.5l-.7-2.2l-.8-2.4M230.5 571.6l-1.1-2.4M101.9 578.1l-.7 2.4l-.5 2.3l-.4 2.4l-.4 2.3l-.3 2.5M99.4 592.1l-.1 2.5l-.1 2.4l.1 2.5M99.9 606.3l.4 2.7M100.7 611l.5 2.5l.7 2.4M102.5 617.9l.9 2.5M229.4 624.8l1-2.3l.9-2.4M232 618.2l.7-2.4l.7-2.3l.5-2.5M234.7 606.6l.3-2.6M235.2 601.9l.1-2.7M236.1 580l-.6-2.5l-.8-2.4l-.8-2.5M101.6 570.3l-1 2.6M98.5 579.7l-.6 2.7M96.8 604.3l.3 2.7M98.5 614l.7 2.7M99.8 618.8l.9 2.4l.9 2.5M235.4 616.7l.7-2.5l.6-2.5l.5-2.5M237.5 607l.3-2.6l.2-2.6M239.5 581.8l-.7-2.8M238.2 576.8l-.8-2.7M235.7 569.5l-1.1-2.6M231.2 560.3l-1.5-2.5M103.5 560l-1.3 2.4l-1.2 2.4M100 566.9l-1.1 2.6M95.2 581.5l-.5 2.8M93.6 594.3l0 2.7l0 2.7M93.7 602l.3 2.7l.3 2.6l.4 2.5l.5 2.5l.6 2.5l.7 2.7M98 622.1l1 2.7M222 646.4l1.9-2.1M231.1 634l1.4-2.5M234.6 627.1l1.1-2.5l.9-2.5M237.4 619.9l.8-2.6l.7-2.6M239.9 610l.4-2.9M243.1 586.5l-.4-3M241.6 578.6l-.8-2.9M238.3 568.5l-1.1-2.8M235 561.2l-1.5-2.6M229.3 552.1l-1.7-2.2l-1.8-2.2M203.4 529.5l-2.7-1.4M103.9 554.1l-1.6 2.5M93.8 575.7l-.8 2.9M91.5 586.2l-.4 3M90.9 591.5l-.1 2.8l-.1 2.7l.1 2.7l.1 2.8M91.9 610.1l.5 2.8l.6 2.6l.7 2.6l.8 2.6l.9 2.6M97.3 628l1.3 2.7M102.3 637.4l1.5 2.4l1.6 2.2l1.6 2.1l1.8 2.2M220.4 652.2l2.1-2.1M225.8 646.3l1.8-2.2l1.7-2.2M230.7 639.9l1.5-2.3l1.4-2.3l1.3-2.4l1.2-2.3l1.2-2.6M238.2 625.8l1.1-2.8M240.1 620.8l.8-2.9M242.2 613.1l.5-3M242 570l-1.1-2.7l-1.1-2.7M238.7 562.3l-1.3-2.6l-1.4-2.5M233.2 552.7l-1.8-2.5M228.2 546.1l-1.9-2.2l-1.9-2l-2.1-2.1M106.6 545.8l-2 2.5M101.6 552.5l-1.7 2.6M98.6 557.2l-1.4 2.5l-1.3 2.6M92.8 569.7l-1 2.8l-.9 2.8M90.3 577.6l-.7 2.9l-.5 2.9M88.1 591.3l-.1 3.1M87.9 596.8l.1 3.1M88.3 605.1l.4 2.9l.4 2.9M90.2 616l.8 2.9l.9 2.8M93.6 626.6l1.2 2.8M95.9 631.7l1.4 2.7M103 643.5l1.8 2.5M213.8 661.3l2.5-1.8M224.3 652.3l2-2.2l1.8-2.1l1.9-2.3M233 641.5l1.7-2.6M236 636.8l1.5-2.7M239.8 629.4l1.2-2.8M241.8 624.3l1.1-2.9M242.5 563.7l-1.3-2.7l-1.4-2.7M237.1 553.6l-1.6-2.6l-1.7-2.3l-1.8-2.5M226.6 540l-2.2-2.1l-2.2-2.1M97.7 553.3l-1.7 2.7M94.8 558.3l-1.5 2.8M86.4 582.6l-.5 3.1M85.1 594l0 3.2M85.5 605.4l.4 3.2M87.5 616.7l.8 3.1M90 625l1.1 3M96 638l1.7 2.7M104.2 649.7l2.1 2.4M112.2 658l2.3 2l2.3 1.9M220 660.1l2.3-2l2.1-2l2.2-2.1M230.2 650l2-2.5M235.4 643.1l1.7-2.7M247.7 614.3l.6-3.2M232.6 542.5l-2.1-2.4l-2-2.2l-2.3-2.2M217.4 528.3l-2.7-1.9M210 523.4l-2.9-1.6M155.6 512.8l-3.2 .5M122.4 524.8l-2.8 1.8M92.3 556.9l-1.4 2.8l-1.3 2.7l-1.1 2.7l-1.2 3M86.5 570.6l-1 3.1M83.1 585l-.4 3.1l-.2 3.1M82.5 602.8l.2 3.1l.4 3.1M84.1 614.5l.7 3.1l.8 2.8l.8 2.9l1 2.8l1.1 2.8l1.2 2.9M93.6 639.4l1.7 2.8M96.7 644.4l1.8 2.6l1.9 2.5M104 653.8l2.1 2.3l2.3 2.2M112.5 662l2.6 2.1M117.2 665.7l2.7 1.9M187.7 679.6l3.2-.9M209.7 670.7l2.8-1.7M219.5 664.1l2.5-2l2.3-2M232.3 651.8l2.1-2.6M237.7 644.7l1.8-2.8M242.3 637.1l1.5-3M236.7 543l-2.1-2.5l-2-2.3l-2.1-2.2l-2.3-2.3M221.5 527.9l-2.7-2.1M216.6 524.3l-2.9-1.9M211.4 521l-3-1.7M134.6 515.5l-3.2 1.3M128.9 517.9l-2.9 1.5l-2.8 1.6M115.8 525.8l-2.7 2.1M92.9 550.3l-1.8 2.9M89.8 555.6l-1.6 3M82.9 572.6l-.9 3.3M79.5 599.9l.2 3.4M79.9 606l.4 3.4M81.3 615.1l.8 3.3M82.8 621l1 3.3M84.7 626.9l1.2 3.2M87 632.6l1.3 2.9l1.5 2.9M91.1 640.8l1.8 2.9M94.3 646l1.9 2.6l2 2.6M99.9 653.3l2.1 2.5l2.2 2.4M106.1 660.1l2.5 2.3M110.7 664.2l2.5 2l2.6 2M211.1 673.2l2.9-1.8M216.3 670l2.6-1.9l2.5-1.9l2.4-1.9l2.4-2.1M228.2 660.3l2.3-2.3l2.2-2.3M238.9 541.3l-2.1-2.6l-2.2-2.5M232.7 534.1l-2.4-2.3l-2.5-2.3M225.7 527.6l-2.6-2.1l-2.5-1.9l-2.7-1.9M212.8 518.5l-2.9-1.6l-3-1.5M158 506.8l-3.5 .4M151.7 507.6l-3.4 .7M124.9 516.8l-3.1 1.7M116.7 521.7l-2.7 1.9l-2.7 2M102.2 533.9l-2.3 2.4l-2.2 2.5M95.9 541l-2.1 2.8M92.2 546.1l-1.8 2.8l-1.6 2.8l-1.6 2.7l-1.5 3M80.2 571.8l-.9 3.4M78.6 578l-.7 3.4M76.7 600l.1 3.5M77.9 612.6l.7 3.4M79.3 618.8l.9 3.4M83.1 630.8l1.4 3.3M90.3 644.9l1.9 3M93.8 650.2l2 2.6l2 2.5l2.2 2.5M104.2 662.1l2.6 2.4M113.8 670.3l2.9 2M133.1 681l3.4 1.3M148.3 685.7l3.4 .7M201.1 681.2l3.3-1.4M206.9 678.6l3-1.5l2.7-1.6l2.9-1.7M223 668.6l2.7-2.2M232.4 660.1l2.3-2.4l2.2-2.5M177.3 504l-3.7-.3M157.7 504l-3.4 .4l-3.2 .5l-3.4 .7M104.9 527.4l-2.7 2.5M157.3 690l3.7 .3M160.8 500.9l-3.6 .3l-3.5 .4M80.8 554.6l-1.6 3.4M72.4 580.1l-.5 3.7M73.8 620.1l.9 3.7M76.7 629.8l1.3 3.5M82.1 642.1l1.9 3.3M100.2 666.2l2.6 2.4l2.6 2.2l2.7 2.3M72 569.5l-1 3.7M70.3 576.2l-.7 3.8M71 620.8l1 3.7M75.3 634l1.5 3.5M70.2 628.3l1.3 3.8"/>
<path stroke="#0000ff" d="M233.9 583l-.6-2.6M231.3 573.9l-.9-2.5M229.5 569.4l-1.1-2.4M226.3 563.1l-1.3-2.3M223.8 559.1l-1.5-2.2M109.6 560.8l-1.3 2.3M105.2 569.2l-1.1 2.4M99.6 589.7l-.2 2.7M99.3 599.2l.1 2.5l.2 2.6M100.2 608.7l.5 2.6M101.8 615.6l.8 2.6M231.2 620.4l.9-2.5M234.3 609l.4-2.7M237.5 587.3l-.4-2.6l-.4-2.4l-.6-2.6M233.1 570.6l-1.1-2.6M231.1 566.1l-1.3-2.5M228.8 561.7l-1.5-2.4M226.2 557.5l-1.6-2.3M220.1 549.7l-1.9-2.1M103.6 565.8l-1.1 2.5M100.7 572.6l-.9 2.6M97.5 584.5l-.4 2.6l-.3 2.5l-.2 2.5l-.2 2.4l0 2.6M96.6 601.8l.2 2.8M97.1 606.7l.4 2.6l.4 2.4l.6 2.6M101.5 623.4l1.1 2.6M103.5 627.9l1.3 2.5M107.1 634.4l1.4 2.2l1.5 2.2M229.8 630.4l1.3-2.5M233 623.7l1-2.6M234.7 619.1l.8-2.7M239.9 584.3l-.5-2.8M238.9 579.3l-.8-2.8M233.6 564.8l-1.3-2.6M229.9 558.1l-1.5-2.3l-1.5-2.3M225.5 551.7l-1.8-2.2M104.9 557.8l-1.5 2.5M97.2 574.1l-.8 2.6l-.6 2.5l-.7 2.6M94.7 584l-.4 2.7l-.3 2.7M93.8 591.7l-.2 2.9M93.6 599.4l.2 2.9M97.1 619.6l1 2.8M101 629.2l1.3 2.6M103.4 633.7l1.4 2.4l1.4 2.1l1.5 2.1l1.6 2.2M216.5 651.9l2.1-2M223.7 644.5l1.8-2.2M226.9 640.5l1.5-2.3l1.5-2.3M237.3 566l-1.3-2.7M233.7 558.9l-1.5-2.5l-1.5-2.3M226 547.9l-1.8-2.1l-1.9-2.1M214.6 536.8l-2.4-1.8M210.2 533.6l-2.5-1.6M162.1 520.6l-3 .3M112.3 543.7l-2 2.2M107.1 549.7l-1.8 2.4M102.5 556.3l-1.6 2.6M95.4 570.7l-1 2.8M92.4 580.9l-.5 3M91.2 588.8l-.3 3M90.9 602.2l.3 2.8l.3 2.7l.4 2.8M98.4 630.4l1.4 2.7M110.3 648.1l2 2.2M120 657.2l2.4 1.8M224.1 648.3l1.9-2.2M236.1 557.5l-1.5-2.6l-1.6-2.4M222.6 540l-2.2-2l-2.1-1.8l-2.3-1.9M204.7 527l-2.7-1.4M159.2 518l-3.1 .4M151 519.3l-3.1 .7M114.3 537.9l-2.3 2.1M104.8 548l-1.7 2.3l-1.7 2.4M94.8 564.6l-1.2 2.8M89.1 583.1l-.4 2.9l-.4 2.9M88.1 602.4l.3 3.1M91.7 621.4l1 2.8l1.1 2.7M97.1 634.1l1.4 2.6l1.5 2.4l1.5 2.3l1.7 2.4M104.6 645.7l2 2.5M116.1 657.7l2.3 1.9l2.4 1.7M140 671.5l2.9 1.1M167.1 676.4l3.1-.1M186.3 674.1l2.9-.8l2.6-.8l2.8-1M206.8 665.8l2.7-1.6M216 659.7l2.3-1.9l2.1-1.8l2-1.9l2.1-2.1M229.8 646l1.7-2.3l1.7-2.4M238.6 556l-1.7-2.7M222.4 536l-2.4-2.1M218.1 532.3l-2.6-1.9M208.6 525.9l-2.7-1.5l-2.6-1.3l-2.6-1.2l-2.8-1.2M195.6 519.8l-3.1-1M178.9 515.6l-3.2-.4M134 521.8l-2.9 1.4M102.6 546.2l-1.8 2.5l-1.7 2.3l-1.6 2.6M96.2 555.7l-1.6 2.9M91.1 566l-1.1 2.9l-.9 2.7l-.8 2.7l-.8 3M85.1 599.7l.2 3l.3 3.1M88.2 619.5l.9 2.9l1 2.9M92.1 630.3l1.4 2.9M94.6 635.4l1.6 2.9M99 642.8l1.9 2.7M102.4 647.5l2 2.5M106.1 651.9l2.1 2.2l2.1 2.2M116.5 661.7l2.5 1.8l2.3 1.7l2.4 1.5l2.6 1.6M136.3 673.2l2.9 1.1l2.9 .9M152.9 677.9l3.1 .5M187 676.8l3-.8l2.7-.8l2.9-1M205.7 669.7l2.9-1.6M210.7 666.8l2.6-1.6l2.3-1.7l2.5-1.8M226.3 654.2l2.1-2.2l2-2.3M232 647.8l1.8-2.5l1.8-2.5M226.5 535.9l-2.4-2.2M219.8 530.1l-2.7-2M215 526.6l-2.6-1.7l-2.7-1.6M207.4 522l-2.8-1.4l-2.9-1.4M196.6 517.1l-3.2-1M164.5 512l-3.3 .2M158.6 512.4l-3.3 .4M149.8 513.8l-3.2 .7M138.4 517l-3.1 1.2M132.9 519.2l-3 1.4M124.9 523.3l-2.8 1.7M110.5 533.7l-2.3 2.1l-2.2 2.3M104.2 540l-2 2.3l-2 2.5M98.6 546.9l-1.8 2.5l-1.6 2.5l-1.5 2.6l-1.6 2.7M89.5 631.4l1.4 2.9l1.3 2.6l1.5 2.8M95.1 641.9l1.8 2.8M102 651.5l2.2 2.5M110.3 660.1l2.5 2.2M119.6 667.4l2.8 1.8M138 676.9l3.2 1M181.9 680.8l3.3-.7M190.6 678.8l3.1-1M196.2 677l3.1-1.2M207.1 672.2l2.9-1.6M212.2 669.2l2.8-1.8M217.1 665.9l2.7-2M224.1 660.3l2.4-2.2M228.4 656.2l2.1-2.3l2.1-2.4M245 555.9l-1.7-3M228.5 533.9l-2.4-2.2l-2.3-2l-2.5-2.1M206 518.1l-3.1-1.4M200.4 515.6l-3-1.2l-3.1-1M179.7 510l-3.2-.4l-3.3-.3M167.5 509.1l-3.5 .1M155.3 510l-3.3 .5l-3 .6l-3 .6l-3.1 .9M137.4 514.4l-3.2 1.2M131.7 516.7l-3.1 1.4M123.5 520.8l-2.8 1.7l-2.5 1.7l-2.7 1.8M113.3 527.6l-2.5 2.1l-2.4 2.1M106.4 533.7l-2.3 2.3l-2.1 2.2l-2 2.3l-1.9 2.4l-2 2.6M94.6 547.7l-1.9 2.9M79.7 590.7l-.2 3.2l-.1 3.3M97.9 651l2.2 2.6M104 657.9l2.4 2.4M108.4 662.2l2.6 2.2M115.5 668l2.7 1.8l2.5 1.7l2.7 1.6l2.8 1.6M128.6 675.9l3.1 1.4M134.2 678.4l3 1.2l2.9 1l3.2 .9M157.9 684.4l3.5 .3M164 684.8l3.5 .1M182.4 683.6l3.2-.7l3.1-.7M191.3 681.5l3.2-.9l2.9-1l3-1.2M202.9 677.3l2.9-1.3l2.8-1.4l2.8-1.6M226 662.4l2.5-2.3M215.5 520.2l-3-1.8M201.5 513l-3.2-1.2l-3.2-1.1M183.2 507.7l-3.3-.5l-3.1-.4l-3.4-.3M154.9 507.2l-3.5 .5M145.5 509l-3.4 .9M136.5 511.7l-3.2 1.2l-2.9 1.2l-2.9 1.4l-2.9 1.5M104.4 531.6l-2.5 2.5M97.9 538.6l-2.2 2.7M94 543.5l-2 2.9M85.7 636.6l1.6 3.1M92 647.6l2 2.9M101.9 659.9l2.5 2.5M106.5 664.3l2.5 2.2l2.5 2l2.6 2M116.4 672.1l3 1.9M121.8 675.5l2.9 1.6l2.8 1.4l2.9 1.4l3.1 1.3M136.1 682.2l3.4 1.1M145.2 685l3.4 .8M154.5 686.8l3.3 .4l3.2 .3l3.3 .1M167.1 687.7l3.6-.1M173.4 687.5l3.6-.3M186 685.8l3.4-.8M192.1 684.2l3.4-1M198.1 682.3l3.4-1.3M215.2 674l2.8-1.8l2.6-1.8l2.7-2"/>
<path stroke="#001ae5" d="M228.5 567.3l-1.1-2.3l-1.2-2.2M225.1 561l-1.4-2.2M218 551.6l-1.7-1.9l-1.8-1.8M112.3 556.9l-1.4 2l-1.4 2.1M106.2 567l-1.1 2.4M104.2 571.4l-.9 2.3l-.7 2.3l-.8 2.4M99.6 604l.3 2.6M103.3 620.1l.9 2.4l.9 2.2l1.1 2.3M109.5 633l1.4 2.1l1.4 2M222.3 637.1l1.5-2.2M225 633.2l1.3-2.2l1.1-2l1.1-2.2l1-2.2M232.1 568.3l-1.1-2.5M230 563.8l-1.4-2.4M227.5 559.6l-1.5-2.4M224.7 555.4l-1.5-2.1l-1.7-2M213 542.8l-2.2-1.8M205 537l-2.4-1.5M111.5 553.2l-1.6 2.2M108.6 557.2l-1.5 2.4M106 561.4l-1.4 2.4M102.6 568l-1.1 2.6M99.9 574.9l-.8 2.6l-.6 2.5M105.8 632.3l1.5 2.4M109.9 638.6l1.6 2.2M112.9 642.5l1.8 2.1M204.7 657.2l2.4-1.5M216.4 648.1l1.9-1.8l1.7-1.9l1.6-1.8l1.7-2.1M224.6 638.8l1.5-2.2l1.3-2l1.4-2.3M232.5 562.5l-1.4-2.5M227 553.8l-1.7-2.3M223.9 549.7l-1.9-2.1M220.4 545.9l-2-2M216.7 542.3l-2.1-1.9M210.8 537.4l-2.4-1.6M206.5 534.6l-2.5-1.5M107.7 553.5l-1.5 2.3l-1.5 2.3M101.1 564.5l-1.2 2.7M99 569.2l-1 2.6l-.9 2.6M98.9 624.5l1 2.5l1.2 2.5M102.1 631.5l1.4 2.5M109.1 642.3l1.8 2.2M121.8 655l2.3 1.7M128.1 659.4l2.5 1.5M185 668.6l2.8-.8M204 660.9l2.5-1.5M208.4 658.2l2.2-1.6l2.1-1.5l2.1-1.7M218.4 650.1l1.9-1.9l1.9-2M225.3 642.5l1.7-2.3M229.7 636.2l1.5-2.5M232.3 631.8l1.3-2.6M236.2 563.6l-1.4-2.7M230.9 554.3l-1.8-2.4M222.5 543.9l-2-2l-2-1.8l-2-1.7l-2.2-1.8M205.7 530.8l-2.6-1.5M201 528.3l-2.7-1.3M159.5 520.8l-3 .4M148.9 522.7l-2.9 .8M126.9 532l-2.5 1.6M122.4 535l-2.4 1.8M110.5 545.7l-1.8 2.1l-1.8 2.2M105.5 551.9l-1.8 2.4M99.8 560.9l-1.3 2.5l-1.1 2.5l-1.1 2.4l-1 2.7M91.9 583.5l-.4 3M99.6 632.8l1.4 2.5l1.5 2.4M108.6 646.1l1.9 2.2M114 652l2.1 1.9l2 1.7l2.2 1.8M122.2 658.8l2.3 1.7l2.4 1.5M183.1 671.9l2.9-.7M188.2 670.6l2.9-.8M203.1 664.7l2.5-1.4l2.4-1.5M214.3 657.4l2.2-1.8l2.1-1.8M231.6 550.5l-1.8-2.5M214.1 532.9l-2.4-1.7l-2.3-1.5l-2.4-1.5l-2.6-1.4M202.2 525.7l-2.8-1.3M184 519.4l-3.1-.6M173 517.8l-3.1-.1M161.9 517.8l-3.1 .3M153.7 518.8l-3.1 .6M142.9 521.4l-2.8 1l-2.5 1l-2.7 1.1M125.4 529.6l-2.6 1.7M118.6 534.3l-2.5 2M108.4 543.8l-2 2.3M100.1 554.8l-1.6 2.7M96 562.1l-1.3 2.8M93.8 567.1l-1.2 2.9M88 599.6l.1 3.1M108.2 650l2 2.1l2 2l2 1.9l2.2 1.9M120.5 661.1l2.4 1.7l2.5 1.6M127.5 665.7l2.5 1.4l2.6 1.3M142.6 672.4l3 1M150.6 674.6l2.9 .6l2.9 .4M164.4 676.3l3.1 .1M169.9 676.3l3.1-.1M183.6 674.7l3.1-.7M194.3 671.7l2.9-1.2M211.6 662.9l2.5-1.8M220.3 534.1l-2.5-2M215.8 530.6l-2.7-1.9M211 527.4l-2.7-1.7M198.3 520.8l-3-1.1M192.9 518.9l-2.9-.9l-2.8-.8l-3-.7M173.2 515l-3.2-.2M164.6 514.8l-3 .2l-2.9 .2l-2.8 .4l-3 .5M144.8 517.9l-2.9 .9l-2.7 .9l-2.7 1.1l-2.8 1.2M128.9 524.3l-2.7 1.5l-2.6 1.6M121.5 528.7l-2.5 1.8l-2.5 1.8M112.4 535.8l-2.2 2.1l-2 2l-2 2.1l-1.9 2.2l-1.9 2.3M92.3 563.4l-1.3 3M100.7 645.2l1.9 2.6M110.1 656l2.3 2.2M126 668.1l2.9 1.6M131.1 670.8l2.8 1.3l2.8 1.2M141.7 675.1l2.9 .9l3 .8M150 677.4l3.2 .6M155.7 678.4l3 .4l2.9 .2l2.8 .2l2.9 0l2.9 0l2.8-.2l3.1-.3M181.4 678l3-.6l3-.7M195.3 674.3l2.8-1.1l2.6-1.1l2.6-1.2l2.7-1.4M208.3 668.3l2.7-1.7M217.8 661.9l2.5-2M222.1 532l-2.6-2.1M202.1 519.4l-3.1-1.3M193.7 516.2l-3-.9l-2.8-.8l-2.9-.7l-2.9-.6l-3-.4l-2.9-.4l-3-.2l-2.9-.2l-3 0l-3.1 0M161.5 512.2l-3.3 .2M152.7 513.2l-3.3 .7M144 515.2l-3.1 1M135.6 518.1l-3.1 1.3M127.5 521.8l-2.9 1.6M119.9 526.4l-2.6 1.8l-2.4 1.8l-2.3 1.9l-2.3 2M106.2 537.8l-2.2 2.4M100.4 544.5l-2 2.7M114.8 663.9l2.7 2M124.6 670.6l2.8 1.5l2.6 1.3l2.7 1.3l2.7 1.1l3 1.2M140.9 677.8l3 .9l2.8 .8l2.9 .7l3.1 .6M155.3 681.2l3.3 .4M161.2 681.8l3.1 .2l3 0l3 0l3.1-.2M184.8 680.2l3.2-.7M193.4 677.9l3.2-1M199 675.9l3.1-1.3M204.4 673.5l3-1.5M226.2 658.3l2.4-2.4M219.1 526l-2.8-2M214 522.6l-2.9-1.8M208.7 519.5l-3-1.6M194.6 513.5l-3.1-1l-2.9-.8l-3-.6l-3.2-.7M173.6 509.4l-3.4-.2M161.4 509.3l-3.3 .3l-3.2 .4M108.6 531.6l-2.5 2.3M96.3 545.2l-2 2.8M125.9 674.5l3 1.6M131.4 677.2l3.2 1.3M142.9 681.4l3.3 .9M148.9 682.9l3.1 .6l3.1 .5l3.2 .4M161 684.6l3.4 .2M167.1 684.9l3.3-.1l3-.1l3.1-.3l3-.4l3.2-.5M188.4 682.3l3.3-.9M200 678.5l3.2-1.3M207.2 515.6l-3-1.5l-3.1-1.3M195.5 510.8l-3.2-1l-3.2-.8M173.8 506.5l-3.5-.1M164.3 506.4l-3.5 .1M142.5 509.8l-3.2 .9l-3.2 1.1M111.6 525.4l-2.6 2.1l-2.4 2.1l-2.4 2.3M119.1 673.8l3 1.8M139.1 683.2l3.2 1l3.2 .8M151.4 686.3l3.5 .5M163.9 687.6l3.6 .1M170.3 687.6l3.5-.1M176.6 687.2l3.3-.4l3.1-.5l3.3-.6M189.1 685l3.4-.9M195.1 683.3l3.4-1.1"/>
<path stroke="#0033cc" d="M222.5 557.1l-1.6-2l-1.5-2M214.7 548.1l-2-1.8M113.7 555l-1.6 2.1M107.3 564.9l-1.2 2.4M106.1 626.7l1.1 2.3l1.1 2l1.3 2.2M112.1 636.9l1.6 2.1M118.2 644.2l1.8 1.8l1.9 1.7M212.7 647.7l2-1.8M216.2 644.4l1.7-1.8l1.5-1.8l1.5-1.9l1.6-2M223.7 635.2l1.4-2.2M221.7 551.5l-1.8-2.1M218.4 547.9l-2-2M214.9 544.4l-2.1-1.8M209.1 539.7l-2.3-1.6M127.8 538.1l-2.3 1.6M123.8 541l-2.2 1.8M120 544.2l-2 1.8l-1.7 1.7l-1.7 1.9l-1.7 1.9M110 555.2l-1.6 2.3M107.3 559.3l-1.5 2.4M104.8 563.6l-1.3 2.5M102.5 625.7l1.1 2.5M104.6 630.2l1.4 2.4M111.3 640.5l1.8 2.2M121.6 651.2l2.2 1.8M125.5 654.3l2.3 1.6M129.6 657l2.4 1.5M186.7 665.2l2.7-.8M200.5 659.7l2.4-1.4M212.8 651.4l1.9-1.7l2-1.8M223.1 640.8l1.6-2.2M228.6 632.6l1.4-2.4M222.2 547.8l-2-2.1M218.6 544.1l-2.1-2M208.7 536l-2.5-1.6M202.1 532l-2.5-1.3l-2.3-1.1l-2.5-1M190.2 526.9l-2.7-.8M170 523.3l-2.9 0M164.9 523.3l-2.7 .1l-2.8 .3M144.7 526.8l-2.8 1M130.6 533.1l-2.4 1.4l-2.3 1.5M124.1 537.3l-2.3 1.7M118.1 542.1l-2.1 2M114.4 545.7l-1.9 2l-1.7 1.9l-1.6 2l-1.6 2.2M110.7 644.3l1.9 2.1M116 649.9l2 1.9l2 1.8M123.8 656.6l2.3 1.5l2.3 1.5M139.5 665.3l2.7 1M154.3 669.6l2.9 .4M189.9 667.2l2.8-1M201.8 662.2l2.5-1.4M206.2 659.6l2.5-1.6M214.6 653.6l2.1-1.9M212.4 535.2l-2.4-1.8M208 532.2l-2.6-1.6M198.6 527.1l-2.8-1.1M193.6 525.1l-2.6-.9l-2.6-.8l-2.7-.7M178.1 521.2l-2.8-.3l-2.8-.3M154.2 521.6l-2.8 .5l-2.8 .7M146.4 523.4l-2.8 .8l-2.5 .9l-2.6 1M133.9 528.1l-2.5 1.3l-2.4 1.3l-2.4 1.5M124.6 533.4l-2.4 1.8M120.3 536.6l-2.2 1.8l-2 1.7l-2 1.8l-2 2M112.1 650.1l2.1 2.1M126.6 661.8l2.4 1.5l2.4 1.3l2.3 1.2l2.5 1.1l2.6 1.1M141 668.9l2.6 .9l2.8 .8M148.6 671.2l2.9 .7M153.8 672.4l2.8 .4l2.9 .4M167.1 673.6l2.9-.1l2.8-.1M175.1 673.2l3-.4M185.7 671.3l2.9-.8M200.7 665.9l2.7-1.4M207.7 662l2.5-1.6M212.2 659l2.4-1.8M218.4 654l2.2-2M216.3 534.5l-2.5-1.8M199.7 524.5l-2.8-1.2M194.6 522.5l-2.8-1l-2.6-.8l-2.7-.7l-2.9-.7M167.5 517.6l-3.1 .1M156.4 518.4l-3 .4M148.3 519.9l-2.9 .8l-2.8 .9M127.8 528.2l-2.7 1.6M123 531.1l-2.4 1.7l-2.3 1.7M116.4 536.1l-2.3 2M112.3 539.8l-2.1 2.1l-2 2.1M106.4 647.9l2 2.3M125.1 664.2l2.7 1.6M134.9 669.5l2.7 1.1l2.7 1.1M145.3 673.3l2.8 .7l2.9 .7M156.1 675.6l3.1 .4M172.7 676.2l2.9-.2l2.9-.4M180.9 675.2l3.1-.6M196.9 670.7l2.8-1.2M204.4 667.2l2.7-1.5M209.2 664.4l2.6-1.7M213.4 528.9l-2.7-1.7M184.6 516.6l-3-.6l-3-.4M176.1 515.3l-3.2-.3M170.3 514.8l-3.2 0M153.2 516l-3 .6l-2.8 .6l-2.9 .8M131.4 523l-2.8 1.5M123.9 527.2l-2.7 1.7M116.8 532.1l-2.3 1.9l-2.3 2M128.6 669.5l2.8 1.5M147.2 676.7l3.2 .8M178.6 678.4l3.1-.5M199.3 518.2l-3.1-1.2M146.9 514.4l-3.2 .9M141.2 516.1l-3.2 1M130.2 520.5l-3 1.5M122.1 669l2.8 1.7M152.4 680.7l3.2 .5M158.2 681.6l3.3 .2M173.1 681.8l3.1-.2l3.1-.4M201.7 674.8l3-1.4M182.7 510.5l-3.4-.5M170.6 509.2l-3.5-.1M164.4 509.2l-3.4 .2M143.3 512.5l-3.2 .9l-3 1.1M145.9 682.2l3.3 .8M189.4 509l-3.2-.7l-3.3-.7M170.7 506.4l-3.6-.1M161.2 506.5l-3.6 .3M148.6 508.2l-3.4 .8M122.1 518.4l-3 1.8"/>
<path stroke="#004db2" d="M219.5 553.4l-1.7-2.1M213 546.5l-1.9-1.6l-2-1.6M205.5 540.6l-2.2-1.4M141.9 533.8l-2.4 1.1M133.4 538l-2.3 1.3M129.4 540.5l-2.2 1.5M125.5 543.3l-2.1 1.6M121.9 546.3l-1.9 1.7l-1.7 1.7l-1.7 1.9M115.2 553.1l-1.6 2.1M108.4 562.8l-1.3 2.4M113.6 638.8l1.6 2.1M116.6 642.4l1.8 2M121.6 647.5l1.9 1.6l2 1.6M129.1 653.4l2.2 1.4M137.3 658.1l2.4 1.1M141.7 660.1l2.5 .9M192.7 660.2l2.3-1l2.1-1l2.2-1.1l2.2-1.2M207.2 652.2l2-1.6l1.9-1.5l1.9-1.6M216.7 546.1l-2.1-1.9M200.7 534.5l-2.5-1.3M189.4 529.6l-2.7-.8M167.4 526.1l-2.6 0l-2.6 .2M157.6 526.8l-2.8 .4M147.9 528.8l-2.5 .8l-2.5 .8M140.9 531.2l-2.6 1.1M136.4 533.2l-2.4 1.2l-2.2 1.2l-2.1 1.3l-2.2 1.4M125.7 539.6l-2.2 1.6M113.1 551.3l-1.8 2.2M114.5 644.3l1.8 2l1.7 1.7l1.9 1.7l1.9 1.7M127.5 655.7l2.4 1.5M138.3 661.7l2.6 1.1M152.4 666.3l2.6 .5l2.6 .4M181.9 666.4l2.7-.6M189.1 664.5l2.4-.9l2.5-.9M202.6 658.5l2.4-1.5M206.8 655.9l2.2-1.5l2-1.5l2-1.7M214.8 540.6l-2.1-1.7l-2.2-1.6M154.6 524.4l-2.8 .5M142.2 527.7l-2.5 .9l-2.5 1.1M132.8 531.8l-2.5 1.4M126.2 535.8l-2.4 1.6M122 538.8l-2.1 1.7l-2 1.8M116.2 543.9l-2 2M112.4 646.2l1.9 2l1.9 1.9M119.8 653.4l2.2 1.8M130.3 660.8l2.4 1.3l2.4 1.2M144.4 667.1l2.6 .8l2.6 .7M151.8 669.1l2.8 .5M156.9 670l2.8 .3M164.6 670.7l2.7 0l2.7 0M177.4 670l2.7-.4l2.5-.5l2.7-.6M187.5 667.9l2.7-.8M192.4 666.3l2.7-1M197.1 664.4l2.5-1.1l2.5-1.3M186 522.8l-2.9-.7M180.8 521.6l-3-.4M172.8 520.6l-2.8-.1l-2.7-.1l-2.7 .1l-2.8 .1M156.8 521.2l-3 .4M138.8 526l-2.6 1.1l-2.6 1.2M138.5 667.9l2.8 1.1M146 670.5l2.9 .8M151.2 671.9l3 .5M159.1 673.1l2.9 .3l2.6 .1l2.9 .1M172.5 673.4l3-.3M177.8 672.8l2.8-.4l2.8-.5M190.8 669.9l2.8-1M195.8 668l2.6-1.1l2.6-1.2M210 660.6l2.4-1.8M197.2 523.5l-2.9-1.2M181.2 518.8l-2.9-.4l-2.7-.4l-2.9-.2M170.2 517.7l-3.1-.1M164.7 517.7l-3.1 .1M135.2 524.4l-2.7 1.2l-2.5 1.3l-2.5 1.4M132.4 668.3l2.8 1.3M158.8 675.9l3 .3l2.9 .1M178.2 675.6l3-.4M199.4 669.6l2.7-1.2l2.6-1.4M175.7 678.8l3.2-.4M179 681.2l3.2-.5M203.2 516.8l-3.2-1.3M167.5 506.3l-3.6 .1"/>
<path stroke="#006699" d="M209.3 543.4l-2.1-1.6M203.5 539.3l-2.3-1.3M197.3 535.9l-2.3-1.1l-2.3-1M190.7 533.1l-2.5-.9M183.9 531l-2.6-.6M169.8 529l-2.5-.1l-2.5 .1M162.7 529.1l-2.5 .2l-2.5 .3M148.7 531.5l-2.4 .8l-2.3 .7l-2.3 .9M139.7 534.8l-2.2 1l-2.2 1.1l-2.2 1.2M127.4 541.8l-2.1 1.6M115.1 640.6l1.7 2.1M125.3 650.6l2.1 1.6M131.1 654.7l2.3 1.3M135.2 657l2.4 1.2M143.9 660.9l2.5 .9M150.7 663l2.6 .6M155.3 664l2.7 .4M164.8 665l2.6 .1M185.9 662.5l2.6-.8M190.4 661l2.5-.9M201.2 656l2.2-1.3l2.1-1.3M214.5 646.1l1.9-1.9M211.1 541.2l-2.2-1.6M207.1 538.3l-2.4-1.5M198.5 533.3l-2.5-1.1M184.6 528.2l-2.7-.6M179.8 527.2l-2.8-.4M174.9 526.5l-2.7-.2l-2.4-.2l-2.6 0M152.7 527.6l-2.6 .6l-2.5 .7M143.2 530.3l-2.6 1M131.7 658.3l2.3 1.3l2.4 1.2M140.6 662.7l2.5 .9l2.4 .9M147.6 665.1l2.7 .7M157.3 667.2l2.7 .3M162.2 667.7l2.6 .2l2.5 0l2.5 0l2.6-.2M179.5 666.9l2.7-.6M184.3 665.8l2.7-.7M193.7 662.8l2.6-1.1M198.2 660.8l2.5-1.3M204.3 533.2l-2.5-1.4M192.7 527.8l-2.8-1M182.8 524.9l-2.7-.5l-2.5-.4l-2.6-.3l-2.6-.3l-2.7-.1M167.5 523.3l-2.9 0M159.7 523.7l-2.8 .3M149.6 525.4l-2.8 .8M137.5 529.6l-2.5 1.1l-2.5 1.3M134.8 663.2l2.5 1.2l2.5 1M141.9 666.2l2.8 1M149.3 668.5l2.8 .7M159.4 670.3l2.9 .3M169.7 670.7l2.7-.1l2.8-.3M196.1 526.1l-2.8-1.1M183.4 522.1l-3-.5M193.3 669l2.8-1.1M167.5 514.8l-3.2 0"/>
<path stroke="#008080" d="M207.4 542l-2.2-1.5M188.5 532.3l-2.4-.7l-2.5-.7M181.6 530.4l-2.5-.4l-2.3-.4l-2.5-.3M172.2 529.1l-2.7-.1M151 530.9l-2.6 .7M131.3 539.2l-2.2 1.4M123.7 544.8l-2.1 1.7M127.2 652l2.2 1.5M139.5 659.1l2.4 1.1M148.4 662.4l2.6 .7M153 663.6l2.6 .5M167.2 665.1l2.6-.1M183.6 663.1l2.6-.7M205.2 653.5l2.2-1.5M202.9 535.7l-2.4-1.4M191.7 530.4l-2.6-.9M182.2 527.7l-2.7-.6M177.3 526.8l-2.7-.3M155.1 527.1l-2.7 .6M138.6 532.2l-2.5 1.1M121.8 542.6l-2.1 1.8M123.5 652.8l2.2 1.6M145.2 664.4l2.7 .8M150 665.8l2.7 .6M172.1 667.7l2.6-.2l2.6-.3M187.8 526.2l-2.7-.7l-2.6-.7M157.2 524l-2.9 .4M152.1 524.8l-2.8 .7M147.1 526.1l-2.7 .8M162 670.5l2.9 .2M174.9 670.3l2.8-.3"/>
<path stroke="#009966" d="M199.4 537l-2.4-1.2M174.6 529.3l-2.7-.2M155.6 529.9l-2.5 .5l-2.4 .6M116.8 551.3l-1.7 2.1M146.1 661.7l2.6 .8M157.7 664.4l2.5 .3l2.4 .2l2.5 .1M169.5 665l2.7-.1M174.3 664.7l2.5-.3l2.3-.4l2.5-.4M196.3 532.3l-2.4-1l-2.5-1M187 528.9l-2.7-.7M160 526.5l-2.7 .3M136.1 660.7l2.5 1.1M196 661.8l2.5-1.1M195.1 528.7l-2.7-1M194.8 665.4l2.6-1.1"/>
<path stroke="#00b34c" d="M201.5 538.1l-2.4-1.3M133.1 655.9l2.4 1.3M188.2 661.8l2.5-.9M159.7 667.5l2.8 .2"/>
<path stroke="#00cc33" d="M192.9 533.9l-2.5-.9M165.1 529l-2.7 .1M162.5 526.3l-2.8 .2M177 667.2l2.8-.4"/>
<path stroke="#00e619" d="M158 529.6l-2.7 .4M171.9 664.9l2.7-.2M181.3 663.6l2.6-.6"/>
</g>
<circle cx="167.3" cy="597.0" r="65.4" fill="none" stroke="#0000f8" stroke-width="4.4"/>
<circle cx="167.3" cy="597.2" r="92.4" fill="none" stroke="#f00018" stroke-width="1.7"/>
<rect x="62.26" y="491.96" width="210.08" height="210.08" fill="none" stroke="#000" stroke-width="2"/><path d="M66.30 491.96v3.10M66.30 702.04v-3.10M62.26 698.00h3.10M272.34 698.00h-3.10M70.34 491.96v3.10M70.34 702.04v-3.10M62.26 693.96h3.10M272.34 693.96h-3.10M74.38 491.96v3.10M74.38 702.04v-3.10M62.26 689.92h3.10M272.34 689.92h-3.10M78.42 491.96v3.10M78.42 702.04v-3.10M62.26 685.88h3.10M272.34 685.88h-3.10M82.46 491.96v3.10M82.46 702.04v-3.10M62.26 681.84h3.10M272.34 681.84h-3.10M86.50 491.96v5.40M86.50 702.04v-5.40M62.26 677.80h5.40M272.34 677.80h-5.40M90.54 491.96v3.10M90.54 702.04v-3.10M62.26 673.76h3.10M272.34 673.76h-3.10M94.58 491.96v3.10M94.58 702.04v-3.10M62.26 669.72h3.10M272.34 669.72h-3.10M98.62 491.96v3.10M98.62 702.04v-3.10M62.26 665.68h3.10M272.34 665.68h-3.10M102.66 491.96v3.10M102.66 702.04v-3.10M62.26 661.64h3.10M272.34 661.64h-3.10M106.70 491.96v3.10M106.70 702.04v-3.10M62.26 657.60h3.10M272.34 657.60h-3.10M110.74 491.96v3.10M110.74 702.04v-3.10M62.26 653.56h3.10M272.34 653.56h-3.10M114.78 491.96v3.10M114.78 702.04v-3.10M62.26 649.52h3.10M272.34 649.52h-3.10M118.82 491.96v3.10M118.82 702.04v-3.10M62.26 645.48h3.10M272.34 645.48h-3.10M122.86 491.96v3.10M122.86 702.04v-3.10M62.26 641.44h3.10M272.34 641.44h-3.10M126.90 491.96v5.40M126.90 702.04v-5.40M62.26 637.40h5.40M272.34 637.40h-5.40M130.94 491.96v3.10M130.94 702.04v-3.10M62.26 633.36h3.10M272.34 633.36h-3.10M134.98 491.96v3.10M134.98 702.04v-3.10M62.26 629.32h3.10M272.34 629.32h-3.10M139.02 491.96v3.10M139.02 702.04v-3.10M62.26 625.28h3.10M272.34 625.28h-3.10M143.06 491.96v3.10M143.06 702.04v-3.10M62.26 621.24h3.10M272.34 621.24h-3.10M147.10 491.96v3.10M147.10 702.04v-3.10M62.26 617.20h3.10M272.34 617.20h-3.10M151.14 491.96v3.10M151.14 702.04v-3.10M62.26 613.16h3.10M272.34 613.16h-3.10M155.18 491.96v3.10M155.18 702.04v-3.10M62.26 609.12h3.10M272.34 609.12h-3.10M159.22 491.96v3.10M159.22 702.04v-3.10M62.26 605.08h3.10M272.34 605.08h-3.10M163.26 491.96v3.10M163.26 702.04v-3.10M62.26 601.04h3.10M272.34 601.04h-3.10M167.30 491.96v5.40M167.30 702.04v-5.40M62.26 597.00h5.40M272.34 597.00h-5.40M171.34 491.96v3.10M171.34 702.04v-3.10M62.26 592.96h3.10M272.34 592.96h-3.10M175.38 491.96v3.10M175.38 702.04v-3.10M62.26 588.92h3.10M272.34 588.92h-3.10M179.42 491.96v3.10M179.42 702.04v-3.10M62.26 584.88h3.10M272.34 584.88h-3.10M183.46 491.96v3.10M183.46 702.04v-3.10M62.26 580.84h3.10M272.34 580.84h-3.10M187.50 491.96v3.10M187.50 702.04v-3.10M62.26 576.80h3.10M272.34 576.80h-3.10M191.54 491.96v3.10M191.54 702.04v-3.10M62.26 572.76h3.10M272.34 572.76h-3.10M195.58 491.96v3.10M195.58 702.04v-3.10M62.26 568.72h3.10M272.34 568.72h-3.10M199.62 491.96v3.10M199.62 702.04v-3.10M62.26 564.68h3.10M272.34 564.68h-3.10M203.66 491.96v3.10M203.66 702.04v-3.10M62.26 560.64h3.10M272.34 560.64h-3.10M207.70 491.96v5.40M207.70 702.04v-5.40M62.26 556.60h5.40M272.34 556.60h-5.40M211.74 491.96v3.10M211.74 702.04v-3.10M62.26 552.56h3.10M272.34 552.56h-3.10M215.78 491.96v3.10M215.78 702.04v-3.10M62.26 548.52h3.10M272.34 548.52h-3.10M219.82 491.96v3.10M219.82 702.04v-3.10M62.26 544.48h3.10M272.34 544.48h-3.10M223.86 491.96v3.10M223.86 702.04v-3.10M62.26 540.44h3.10M272.34 540.44h-3.10M227.90 491.96v3.10M227.90 702.04v-3.10M62.26 536.40h3.10M272.34 536.40h-3.10M231.94 491.96v3.10M231.94 702.04v-3.10M62.26 532.36h3.10M272.34 532.36h-3.10M235.98 491.96v3.10M235.98 702.04v-3.10M62.26 528.32h3.10M272.34 528.32h-3.10M240.02 491.96v3.10M240.02 702.04v-3.10M62.26 524.28h3.10M272.34 524.28h-3.10M244.06 491.96v3.10M244.06 702.04v-3.10M62.26 520.24h3.10M272.34 520.24h-3.10M248.10 491.96v5.40M248.10 702.04v-5.40M62.26 516.20h5.40M272.34 516.20h-5.40M252.14 491.96v3.10M252.14 702.04v-3.10M62.26 512.16h3.10M272.34 512.16h-3.10M256.18 491.96v3.10M256.18 702.04v-3.10M62.26 508.12h3.10M272.34 508.12h-3.10M260.22 491.96v3.10M260.22 702.04v-3.10M62.26 504.08h3.10M272.34 504.08h-3.10M264.26 491.96v3.10M264.26 702.04v-3.10M62.26 500.04h3.10M272.34 500.04h-3.10M268.30 491.96v3.10M268.30 702.04v-3.10M62.26 496.00h3.10M272.34 496.00h-3.10" stroke="#000" stroke-width="1.6" fill="none"/>
<text y="513.0" font-size="15" stroke="#000" stroke-width="0.75"><tspan x="210.0 219.9 226.9">Eyz</tspan><tspan x="235.9" dy="3.8" font-size="23" font-style="italic" stroke-width="0.25">/</tspan><tspan x="245.4 255.0 262.0" dy="-3.8">Esw</tspan></text>
<text x="6.2" y="502.7" font-size="21" text-anchor="start" textLength="17.0" lengthAdjust="spacingAndGlyphs">c.</text>
<text x="56.4" y="523.6" font-size="15.6" text-anchor="end" textLength="17.0" lengthAdjust="spacingAndGlyphs" stroke="#000" stroke-width="0.4">20</text>
<text x="56.4" y="564.0" font-size="15.6" text-anchor="end" textLength="17.0" lengthAdjust="spacingAndGlyphs" stroke="#000" stroke-width="0.4">10</text>
<text x="56.4" y="604.4" font-size="15.6" text-anchor="end" textLength="8.3" lengthAdjust="spacingAndGlyphs" stroke="#000" stroke-width="0.4">0</text>
<text x="56.4" y="644.8" font-size="15.6" text-anchor="end" textLength="29.2" lengthAdjust="spacingAndGlyphs" stroke="#000" stroke-width="0.4">−10</text>
<text x="56.4" y="685.2" font-size="15.6" text-anchor="end" textLength="29.2" lengthAdjust="spacingAndGlyphs" stroke="#000" stroke-width="0.4">−20</text>
<text x="13.3" y="597.9" font-size="15" text-anchor="middle" textLength="80.6" lengthAdjust="spacingAndGlyphs" transform="rotate(-90 13.3 597.9)" stroke="#000" stroke-width="0.5">Z_SWI (RE)</text>
<text x="86.1" y="728.6" font-size="15.6" text-anchor="middle" textLength="29.2" lengthAdjust="spacingAndGlyphs" stroke="#000" stroke-width="0.4">−20</text>
<text x="126.5" y="728.6" font-size="15.6" text-anchor="middle" textLength="29.2" lengthAdjust="spacingAndGlyphs" stroke="#000" stroke-width="0.4">−10</text>
<text x="166.9" y="728.6" font-size="15.6" text-anchor="middle" textLength="8.3" lengthAdjust="spacingAndGlyphs" stroke="#000" stroke-width="0.4">0</text>
<text x="207.3" y="728.6" font-size="15.6" text-anchor="middle" textLength="17.0" lengthAdjust="spacingAndGlyphs" stroke="#000" stroke-width="0.4">10</text>
<text x="247.7" y="728.6" font-size="15.6" text-anchor="middle" textLength="17.0" lengthAdjust="spacingAndGlyphs" stroke="#000" stroke-width="0.4">20</text>
<text x="166.8" y="749.2" font-size="15" text-anchor="middle" textLength="80.6" lengthAdjust="spacingAndGlyphs" stroke="#000" stroke-width="0.5">Y_SWI (RE)</text>
<g fill="none" stroke-width="3.25">
<path stroke="#000000" d="M377 665.7l2.5 1.8l2.7 1.7M397.8 676.9l3.2 1M424 682l3.3 0M441.7 680.8l3.3-.7M445.5 511.1l-3.3-.7M394.4 515.5l-3.2 1.3M366.2 533.7l-2.4 2.4M358 542.8l-2.1 2.7M351.1 552.9l-1.7 3M348.2 558.3l-1.4 3l-1.2 3M341.1 615.1l.8 3.3M473.5 671.6l2.9-1.9M501.5 643.7l1.7-2.8l1.5-2.6l1.5-2.9M508.7 557.4l-1.6-3.1M502.4 546.4l-2-2.9M469.8 517l-3.1-1.6M464.2 514.2l-3.3-1.4M336.9 606.3l.4 3.5"/>
<path stroke="#000033" d="M517.3 587.7l-.4-3.5"/>
<path stroke="#00004d" d="M511.7 606.1l.2-3.3M516.5 581.4l-.7-3.4"/>
<path stroke="#000066" d="M490.3 571.6l-1.1-2.4M494.5 606.6l.3-2.6M501.6 624.3l1.1-2.9M506 605.5l.3-3.1"/>
<path stroke="#000080" d="M502.5 583.9l-.5-3M499 623.3l1-2.8M501.3 615.7l.7-2.9M506.3 591.6l-.3-3.1M504.8 580.7l-.7-3.1M512.1 597.2l0-3.3M514.9 594.1l-.2-3.4M494.5 540.7l-2.2-2.6M513.3 625.2l1-3.4M515.1 619.1l.8-3.4M520.6 593.9l-.2-3.6"/>
<path stroke="#000099" d="M480.7 639l1.6-2.1M483.5 635.2l1.4-2.2M493.7 611.3l.5-2.6M497.3 587.3l-.4-2.8M492.9 570.6l-1.1-2.6M495.2 616.7l.7-2.7M502.5 610.5l.4-3M505.3 571.8l-1-3.1M507.5 614.3l.6-3.2M511.9 591.2l-.2-3.3M514.5 588l-.4-3.4M513.7 581.9l-.7-3.2l-.7-3.1M510.7 570l-1.1-3.2M511.5 621.4l.9-3.3M516.4 612.9l.5-3.3l.4-3.1l.3-3.2l.1-3.3"/>
<path stroke="#0000b3" d="M493.7 583l-.6-2.6M484.9 561l-1.4-2.1l-1.4-2M494.8 604.3l.2-2.7M498 597.1l0-2.7M496.5 582.4l-.6-2.7M500.8 597.2l0-2.9M500.7 592l-.3-2.7l-.3-2.7M492.3 562.5l-1.4-2.5M486.8 553.8l-1.7-2.3M492.1 631.8l1.3-2.6M503.6 594.5l-.1-3M472.2 535.2l-2.4-1.8M503.2 605.2l.3-3M503.6 599.8l.1-3M493 552.7l-1.8-2.5M487.8 648.2l2-2.5M499.6 629.4l1.2-2.8M496.9 553.6l-1.7-2.7M500.9 633.2l1.4-2.9M506.1 619.8l.8-3.1M508 611.4l.5-3.1M512.1 594.2l-.2-3.3M510.9 582.4l-.7-3.3M510.2 614.9l.7-3.3M508.6 564.3l-1.3-3.2M514.7 603.3l.2-3.4M511.3 563.2l-1.4-3.3M498.7 541.3l-2.2-2.7M511.1 631.2l1.3-3.4M514.2 622.2l.9-3.4"/>
<path stroke="#0000cc" d="M482.1 637.1l1.5-2.2M497.6 589.7l-.3-2.7M497 584.8l-.6-2.7M485.8 636.8l1.5-2.4M497.2 619.9l.8-2.7M498.1 568.5l-1.1-2.8M496 563.6l-1.4-2.7M488.9 642.1l1.8-2.4M491.9 637.7l1.6-2.6M495.8 630.7l1.3-2.7M502.7 572.6l-1.1-2.9M473.9 532.9l-2.5-1.8M491.2 643.8l1.8-2.5M494.3 639.2l1.6-2.7M506.3 602.7l.1-3.1M508.9 588.6l-.4-3.2M503.4 566.4l-1.3-3M492 546.5l-2-2.5M498.2 638.3l1.6-2.9M509.1 602.9l.2-3.2M492.4 542.5l-2.2-2.5M484.1 533.9l-2.5-2.2M507.9 623.4l1-3.1M504.8 555.9l-1.7-3M500.1 548l-2-2.8M498.1 648.8l2-2.8M513 615.4l.7-3.3M514.3 572.2l-1-3.4M492.5 534.1l-2.5-2.5"/>
<path stroke="#0000e6" d="M491.1 573.9l-.9-2.5M476 644.4l1.8-2M478.2 547.9l-2-2M470.9 541.2l-2.2-1.6M497.8 602.1l.2-2.8M497.3 574.4l-1-2.8M489.7 558.1l-1.6-2.5M485.3 551.7l-1.8-2.2M482 547.8l-2-2.1M468.5 536l-2.5-1.6M500.4 604.9l.3-2.9M503.7 597.2l-.1-3M502 581.2l-.7-2.9M500 573.5l-1-2.8M499.9 620.8l.8-2.9M506.5 597.2l-.1-3.1M494.5 555.1l-1.7-2.6M484.1 652.3l2.1-2.3M503.4 619l.8-3M504.7 613.7l.6-3.1M505.7 608.2l.4-3.1M506.4 599.9l.1-3.1M490.2 544.3l-2.1-2.4M470.5 666.8l2.7-1.7M504.3 625.3l1-2.9l.9-2.9M511.3 585.3l-.5-3.2M504.9 562.6l-1.4-3M486.3 535.9l-2.4-2.2M351.9 636.8l1.6 2.9M356.5 644.4l1.8 2.6l1.8 2.4l2 2.4M367.9 658.1l2.3 2.1l2.4 2.1M381.9 669l2.7 1.6l2.7 1.6M392.3 674.6l3.1 1.3M403.5 678.7l3.2 .9M418 681.6l3.2 .2l3.1 .2M426.9 682l3.2 0l3.1-.2M435.8 681.6l3.1-.4l3.1-.5M450.4 678.8l3.1-1M456 677l3.1-1.2M488.2 656.2l2.1-2.3l2.1-2.4M509.6 617.7l.7-3.2M448.5 511.8l-3.3-.8M442.5 510.5l-3.2-.5l-3.2-.4M433.4 509.4l-3.4-.2M427.3 509.1l-3.5 .1M421.2 509.3l-3.5 .3M412 510.4l-3.3 .7M403.1 512.5l-3.3 1M388.7 517.9l-2.9 1.5l-2.8 1.6M364 535.8l-2.3 2.5M354.4 547.7l-1.9 2.9M344.6 566.8l-1.1 3.2M340.1 584.6l-.4 3.4M339.3 593.7l-.1 3.5M426.9 684.9l3.5-.1M468.2 674.7l2.8-1.6l2.8-1.7M488 660.3l2.4-2.4M496.2 651.2l2.1-2.7M499.8 646.3l1.9-2.9M508.5 630.1l1.2-3.2M512.3 618.4l.8-3.3M517.7 594l-.1-3.3l-.3-3.4M513.4 569.2l-1.1-3.4M505.7 551.8l-1.8-3M490.2 531.9l-2.6-2.4M483.1 525.6l-2.7-2l-2.7-1.9M390.4 514.1l-3.2 1.5M509.9 634.1l1.4-3.3M515.8 616l.7-3.4M517.7 600.4l.1-3.6M462.3 510.4l-3.4-1.4M520.4 603.7l.2-3.6"/>
<path stroke="#0000ff" d="M492.6 578.4l-.8-2.6M482.3 557.1l-1.6-2.1M474.3 646.1l1.9-1.9M494.1 609l.4-2.7M498 594.7l-.2-2.6l-.2-2.7M493.8 572.9l-1-2.6M491.9 568.3l-1.1-2.5M479.9 549.7l-1.9-2.1M460.5 534.5l-2.5-1.3M481.3 642.7l1.8-2.2M495.9 614.3l.6-2.7M496.9 609.5l.4-2.6l.3-2.5l.2-2.6M498 599.6l0-2.7M500.8 594.6l-.2-2.9M499.7 584.3l-.5-2.8M409.1 668.5l2.8 .7M494.4 627.1l1.1-2.6M496.3 622.4l1-2.8M500.6 602.3l.2-2.9M503.3 589.2l-.4-3M499.1 571l-1.1-2.8M490.7 554.3l-1.8-2.4M480.4 542l-2.2-2M474.4 536.8l-2.4-1.8M465.5 530.8l-2.6-1.5M482.1 650.3l2-2.2M505.7 586.1l-.4-3M484.3 542l-2.2-2.2M473.6 661.3l2.5-1.8M498.4 631.9l1.3-2.8M509.1 591.4l-.3-3.2M508.5 585.7l-.5-3.1M463 671l2.8-1.5M490 650l2-2.5M506.8 617.1l.8-3.2M510.3 579.5l-.7-3.1l-.8-3M508 570.9l-1-3.2M503.6 559.9l-1.5-3M488.4 538.1l-2.4-2.4M500.7 639.7l1.6-2.9M503.5 634.4l1.4-3M505.9 629l1.2-3.1M508.8 620.6l.9-3.2M511.9 603.1l.2-3.3M490.2 658.2l2.3-2.5M514.1 609.4l.4-3.4M514.9 600.3l.1-3.5M510 560.3l-1.5-3.2M494.6 536.5l-2.4-2.6"/>
<path stroke="#001ae5" d="M495.2 597.1l-.1-2.6M494.8 590l-.3-2.5l-.4-2.3l-.4-2.5M491.9 576.1l-.9-2.5M443.7 531l-2.6-.6M434.1 664.7l2.6-.3M463.1 654.8l2.2-1.4M486 631.2l1.3-2.4M489.2 624.8l1.1-2.4M495 601.9l.1-2.7M490.9 566.1l-1.2-2.4l-1.3-2.3M486 557.5l-1.6-2.3M476.5 546.1l-2.1-1.9M470.6 653l2.2-1.8M490.8 628.2l1.1-2.4l1-2.4M498.7 579.3l-.8-2.8M495.5 569.5l-1.1-2.6M491 560.3l-1.5-2.5M483.7 549.7l-1.9-2.1M489.5 636.2l1.5-2.5M499.2 612.5l.5-2.8M500.1 607.4l.3-2.8M487.5 550l-1.9-2.3M467.5 662l2.5-1.6M483.9 648.3l1.9-2.2M503.5 602.5l.1-3M504.2 578l-.8-2.9l-.9-2.8M495.9 557.5l-1.6-2.7M456.7 670.7l2.8-1.2M495.8 636.8l1.5-2.7M500.6 626.9l1.2-2.9M504.1 616.4l.7-3.1M509.3 594.3l-.2-3.2M508.1 582.9l-.6-3l-.6-2.8l-.8-2.9M504.4 569l-1.1-3M486.4 540l-2.3-2.3M348 619.5l1 3.1M486.1 654.2l2.2-2.3M495.2 643.1l1.6-2.5l1.6-2.6M499.6 635.7l1.5-2.8M508.5 608.6l.4-3l.2-3M511.7 588.3l-.4-3.3M495.8 647.1l1.8-2.5l1.6-2.5l1.6-2.7M507 626.3l1-3.2M510.8 611.9l.5-3.2M514.8 591.1l-.3-3.5M514.1 585l-.5-3.4M509.7 567.1l-1.2-3.2M503.3 553.2l-1.8-2.9M498.3 545.5l-2.1-2.7M486 531.8l-2.6-2.2M476.4 524.3l-2.9-1.9M476.1 670l2.8-2M507.3 632.9l1.3-3.2M510.6 624.3l1-3.3M514.5 606.4l.3-3.5M512.4 566.2l-1.3-3.4M496.7 538.8l-2.3-2.6M487.9 529.7l-2.6-2.3M475.3 520.2l-2.9-1.7l-2.9-1.7M512.3 628.2l1.1-3.4"/>
<path stroke="#0033cc" d="M488.3 567.3l-1.2-2.4M486.1 563.1l-1.3-2.3M480.8 555.2l-1.6-2.1M471 544.9l-2.1-1.6M465.3 540.6l-2.2-1.4M360.5 582.7l-.5 2.6M410.5 663l2.6 .6M448 661.8l2.5-.9M454.7 659.2l2.4-1.1M487.1 629.1l1.2-2.4M490.2 622.6l.9-2.5M492.5 615.9l.7-2.4l.5-2.5M495.1 599.5l.1-2.6M371.3 553.2l-1.6 2.2M474.4 649.8l2.1-1.9M487.1 634.7l1.4-2.2l1.3-2.3M492.8 623.7l1-2.6M494.5 619.1l.8-2.7M500.1 586.9l-.4-2.9M498 576.8l-.8-2.7M354.5 584l-.4 2.9M377.7 651.7l2.1 1.9M485.1 642.5l1.6-2.2l1.6-2.2M490.9 634l1.4-2.5M499.7 610l.4-2.9M503.5 591.8l-.3-3M502.9 586.5l-.4-3M494.8 561.2l-1.5-2.6M492.1 556.6l-1.6-2.5M485.8 547.9l-1.9-2.2M478.4 540.2l-2.2-1.9M470 533.6l-2.5-1.6M370.1 648.1l2 2.2M393.4 665.7l2.7 1.3M448 670.6l2.9-.8M485.6 646.3l1.9-2.3M493.3 635.4l1.4-2.5l1.3-2.5M497 628.3l1.1-2.8M502.9 607.8l.4-3M506.4 594.4l-.1-3.1M505.3 583.4l-.6-3.1M500.8 567.4l-1.2-2.7l-1.2-2.6M408.1 519.9l-3 .8M478 657.9l2.3-2M492.8 641.5l1.7-2.6M509.3 597.2l0-3.2M499.8 558.6l-1.5-2.7l-1.6-2.6M477.9 532.3l-2.6-1.9M473.2 528.9l-2.7-1.7M463.3 523.2l-2.9-1.4M355.8 638l1.7 2.7M369.9 656l2.3 2.2M378.6 663.4l2.7 1.9M460.4 672.2l2.9-1.4M477.6 661.9l2.5-2M482 658.2l2.3-2.2M502.1 630.6l1.3-3M508.9 573.7l-1-3.1M507.1 568.1l-1.2-3.1M499.3 552.1l-1.7-2.7l-1.8-2.5M477.2 528.3l-2.7-1.9M418.4 512.4l-3.3 .4M353.4 639.4l1.7 2.8M406.4 679.5l3.2 .7M486 658.3l2.4-2.4M511.3 609l.4-3.3M512.1 600.1l0-3.3M507.4 561.4l-1.3-2.9l-1.5-2.9M492.5 538.3l-2.2-2.3l-2.3-2.3M471.2 521l-3-1.7M513.6 612.4l.5-3.4M517.8 597.2l-.1-3.6M516.9 584.6l-.5-3.5M500.6 543.8l-2.1-2.8M478 521.9l-3-1.9M500.9 539.6l-2.3-2.9"/>
<path stroke="#004db2" d="M487.3 565.2l-1.3-2.4M477.8 551.6l-1.8-2M472.8 546.5l-2.1-1.7M454.9 534.9l-2.4-1.1M359.7 606.3l.4 2.7M491.8 618.2l.8-2.6M495.9 580l-.7-2.7M494.6 575.2l-.9-2.6M487.3 559.6l-1.5-2.4M484.5 555.4l-1.6-2.2M369.7 638.6l1.6 2.2M476.2 648.1l1.9-1.8l1.8-2M484.4 638.8l1.6-2.3M489.6 630.4l1.3-2.5M496.4 611.9l.6-2.7M488.3 555.9l-1.6-2.4M472.6 539l-2.3-1.7M411.9 524.8l-2.8 .7M468.2 658.2l2.4-1.6M472.4 655.2l2.2-1.8M483.5 644.5l1.8-2.2M488.1 638.4l1.6-2.5M495.4 624.8l1-2.7M484.1 545.9l-2-2.2M467.8 532.2l-2.6-1.6M432.6 520.6l-3-.1M352.2 580.9l-.5 3M476.2 655.7l2.1-1.8l2.1-1.9M500.6 618.3l.8-2.9M498.5 562.3l-1.4-2.7M491.4 550.5l-1.8-2.5M488 546.1l-2-2.3M348.9 583.1l-.4 3M438 675.6l3-.4M466.6 665.8l2.7-1.6M506.2 574.5l-1-3.1M502.3 563.7l-1.3-2.7l-1.4-2.7M495.4 551.2l-1.9-2.7M482.2 536l-2.4-2.1M465.8 524.5l-2.8-1.5M345.7 608.3l.5 3.1M348.9 622.2l1 3.1M362.2 647.5l2 2.5M383.4 666.6l2.6 1.6l2.7 1.5M438.4 678.4l3.1-.5M475.3 663.6l2.6-1.9M491.8 647.8l1.9-2.6M500.8 554.6l-1.7-2.8M479.6 530.1l-2.7-2M469.8 523.4l-2.9-1.6M370.3 533.7l-2.4 2.2M364 540l-2.2 2.5M458.8 675.9l3.1-1.3M469.5 670.7l2.8-1.7M481.6 662.3l2.5-2.2M492.1 651.8l2.1-2.6M502.1 637.1l1.5-3M504.7 631.8l1.3-3.1M515 597.2l-.1-3.5M512.4 575.9l-.9-3.3M501.7 550.6l-1.9-2.9M481.3 527.9l-2.7-2.1M468.5 519.5l-3-1.6M415.1 510l-3.4 .5M483.4 664.4l2.6-2.2M492.3 655.9l2.2-2.6M507.3 554.6l-1.7-3.1M485.5 527.6l-2.7-2.2"/>
<path stroke="#006699" d="M489.3 569.4l-1.1-2.4M479.3 553.4l-1.7-2.1M459.2 537l-2.4-1.2M446 531.6l-2.6-.7M420.1 529.3l-2.6 .3M359.2 601.6l.2 2.7M401.5 660.1l2.5 .9M472.5 647.7l2-1.8M484.8 633.2l1.3-2.3M495.3 577.6l-.8-2.7M468.9 539.7l-2.3-1.6M464.8 537l-2.4-1.5M412.5 527.6l-2.7 .6M356.9 606.7l.4 2.8M441.7 666.4l2.7-.6M462.4 658.5l2.4-1.5M482.9 640.8l1.6-2.2M493.7 621.4l.9-2.6M499.3 581.8l-.7-2.8M494.5 567.2l-1.2-2.7M476.5 542.3l-2.1-1.9M459.6 530.8l-2.7-1.2M452.5 527.8l-2.8-1M356.3 576.5l-.8 2.8M354.9 612.2l.7 2.8M361.9 631.5l1.4 2.5M387.9 659.4l2.5 1.5M416.7 670l2.8 .3M456.9 664.4l2.7-1.2M466 659.6l2.5-1.6M476.3 651.9l2-1.9l1.9-1.9M481.8 646.4l1.9-2.1M493.3 629.5l1.2-2.7M497.9 617.5l.7-2.7l.7-2.6M500.7 576.1l-.8-2.9M497.1 566l-1.3-2.7M482.3 543.9l-2.1-2.1M463.2 529.5l-2.7-1.4M362.3 556.3l-1.6 2.6M350.5 596.8l.1 3M416.3 672.8l3 .4M426.9 673.6l3-.1M450.6 669.9l2.8-1M460.5 665.9l2.7-1.4M469.8 660.6l2.4-1.8M487.3 644.3l1.8-2.4M490.5 639.9l1.6-2.5M497.3 559.9l-1.5-2.7M489.8 548.3l-2-2.5M486.2 544l-2.1-2.3M441 518.8l-3-.4M402.7 521.4l-2.9 1.1M351.5 621.4l1.1 2.9M355.7 631.7l1.4 2.7M424.2 676.3l3.1 .1M454.1 671.7l2.9-1.2M482.1 654.2l2.2-2.2M488.3 542.1l-2.2-2.3M480.1 534.1l-2.5-2M468.4 525.9l-2.9-1.6M460.7 522l-3-1.3M435.9 515.3l-3.2-.3M351.9 630.3l1.4 2.9M502.3 557.2l-1.6-2.9M496 547.2l-1.9-2.6l-2-2.4M490.4 540.2l-2.2-2.4M472.3 525l-2.8-1.7M439.1 512.8l-3.3-.4M430.2 512l-3.3 0M421.3 512.2l-3.3 .2M379.7 526.4l-2.7 1.9M343.3 611.6l.7 3.3M363.8 653.8l2.2 2.4M374.6 663.9l2.7 2M464.2 673.5l3-1.5M511.6 573l-1-3.3M478.9 526l-2.8-2M375.6 525.8l-2.7 2.1M349.6 555.6l-1.6 3M340.5 612.1l.7 3.3M506 635.7l1.4-3.1M484.8 523.4l-2.9-2.2"/>
<path stroke="#008080" d="M493.2 580.7l-.7-2.6M474.5 548.1l-2-1.8M461.3 538.1l-2.4-1.3M417.8 529.6l-2.7 .4M367.1 564.9l-1.2 2.4M366.9 628.8l1.2 2.2l1.3 2.2M370.6 634.9l1.5 2.2M376.4 642.4l1.8 2M379.7 645.9l2 1.8M383.2 649.1l2.1 1.6M388.9 653.4l2.2 1.4M429.3 665l2.7-.1M461 656l2.3-1.3M467 652.2l2-1.6l2-1.5M479.2 640.9l1.6-2.1M491 620.4l.9-2.5M466.9 538.3l-2.4-1.5M458.3 533.3l-2.5-1.1M439.6 527.2l-2.8-.4M378 545.9l-1.9 1.8l-1.8 2M356.4 591.9l-.2 2.8M364.4 630.2l1.4 2.4M453.5 662.8l2.4-1l2.4-1.1M472.6 651.4l2.1-1.8M479.7 644.6l1.8-2.1M496.4 571.9l-1-2.7M493.4 564.8l-1.3-2.6M478.4 544.1l-2.1-2M447.6 526.2l-2.8-.8M419.5 523.7l-2.8 .3M390.4 533.1l-2.5 1.5M381.8 538.8l-2.2 1.8M370.7 549.5l-1.8 2.2M362.1 562.2l-1.3 2.5l-1.1 2.5M353.6 591.7l-.2 2.9M353.5 602l.3 2.9M367.4 640.2l1.7 2.3M406.6 667.8l2.8 .8M470.3 656.7l2.3-1.7M474.4 653.6l2.1-1.9M500.8 599.7l0-2.9M493.5 558.9l-1.6-2.6M476.4 538.5l-2.3-1.9M460.8 528.3l-2.7-1.3M448.4 523.5l-2.9-.8M427.3 520.4l-3 .1M411.3 522.1l-2.9 .7M374 541.8l-2.1 2.1M482.4 540l-2.2-2l-2.1-1.8l-2.3-1.9M471.6 531.3l-2.6-1.7M464.5 527l-2.7-1.4M405.4 520.6l-3 1M385.2 529.6l-2.6 1.7M378.4 534.3l-2.5 2M349.5 580.3l-.6 3.1M366.2 647.9l2 2.3M382.6 662.7l2.4 1.6l2.6 1.5M402.4 672.4l3 1M413.2 675.2l3 .4M426.9 676.4l3.1-.1M471.4 662.9l2.5-1.8M480.1 656.1l2.3-2.1M489.6 646l1.8-2.5M497.1 634.4l1.4-2.7M502.5 621.7l1-3M505.3 610.9l.4-3M470.8 527.4l-2.7-1.7M393.8 521.8l-2.7 1.3l-2.7 1.4M346.6 613.9l.8 3.2M354.4 635.4l1.6 2.9M367.8 654l2.3 2.3M388.4 669.5l2.8 1.5M421.2 679l3.2 .2M452.3 675.2l3.1-1M479.8 660.1l2.4-2.1M484.1 656.3l2.3-2.3M493.5 645.5l1.9-2.7M503.3 628l1.1-3M450.7 515.3l-3.2-.9M368.2 535.7l-2.4 2.4M360.2 544.5l-2 2.7M347.2 567.7l-1 3.2M342.9 585l-.4 3.3M342.1 596.8l0 3.3M343.9 614.5l.7 3.2M476.9 665.9l2.6-1.9l2.4-2M483.9 660.3l2.4-2.2M494 649.5l2-2.7M488.3 533.9l-2.5-2.3M409 511l-3.3 .8M380.7 522.4l-2.9 1.9M356.1 545.2l-2 2.8M339.4 602.9l.3 3.3l.4 3.2"/>
<path stroke="#009966" d="M467.2 542l-2.2-1.5M463.3 539.3l-2.3-1.3M413.1 530.4l-2.6 .6M389.2 540.5l-2.2 1.5M361.1 580.4l-.6 2.6M359.2 592.1l-.1 2.7M359.4 604l.3 2.6M424.6 665l2.6 .1M470.7 649.2l2.1-1.7M483.1 553.5l-1.8-2.2M472.8 542.8l-2.2-1.8M453.8 531.3l-2.6-1M449.2 529.6l-2.7-.8M405.3 529.5l-2.6 .9M389.7 536.8l-2.4 1.5M362.3 625.7l1.1 2.5M365.6 632.3l1.5 2.4M374.3 644.3l1.9 2.1M395.9 660.7l2.5 1.1M417.1 667.2l2.7 .3M458 660.8l2.5-1.3M464.5 657.2l2.4-1.5M468.7 654.4l2.2-1.6M480.2 545.9l-2-2M450 526.9l-2.7-.8M355 581.5l-.5 2.8M363.2 633.7l1.5 2.5M370.5 644.3l1.9 2.1M374 648.1l2 2M381.6 655l2.3 1.7M414.1 669.6l2.9 .4M429.5 670.7l2.9-.2M459.3 663.3l2.6-1.3M489.1 552.1l-1.8-2.4M401.1 525l-2.7 1l-2.6 1.1M351.7 610.1l.5 2.8l.7 2.8M366.7 644l1.9 2.3M377.8 655.5l2.3 1.9M418.9 673.1l3 .3M474.1 657.4l2.3-1.9M480.2 652.2l2.1-2.1M502 613.1l.5-3M466.9 528.3l-2.7-1.5M462 525.7l-2.8-1.3M395 524.4l-2.8 1.3M364.6 548l-1.8 2.5M348.9 610.6l.6 3.1M362.8 643.5l1.8 2.5M387.3 665.7l2.7 1.5M392.2 668.3l2.8 1.3M432.5 676.2l3.1-.3M461.8 668.4l2.7-1.4M486 650.2l2-2.3M484.3 538l-2.3-2.2M475.6 530.6l-2.7-1.9M401.9 518.8l-3.1 1M381.3 528.7l-2.7 1.9M372.2 535.8l-2.3 2.2M345.7 585.4l-.4 3.2M345.1 591.1l-.2 3.2M357.3 640.4l1.7 2.7M360.5 645.2l1.9 2.6M364 649.7l2.1 2.4M418.3 678.7l3.2 .3M429.8 679.2l3.2-.2M446.8 676.8l3.1-.8M465.5 669.7l2.9-1.6M472.9 665.3l2.7-1.9M488.1 652.1l2.1-2.4M481.9 532l-2.6-2.1M459.1 518.2l-3.1-1.2M442 513.3l-3.2-.5M424.3 512l-3.3 .2M412.2 680.7l3.2 .5M483.7 529.8l-2.6-2.2M339.7 587.6l-.3 3.5M339.3 599.9l.2 3.4"/>
<path stroke="#00b34c" d="M495 592.4l-.2-2.7M469.1 543.4l-2.1-1.6M441.4 530.4l-2.6-.5M432 529.1l-2.7-.1M395.3 536.8l-2.4 1.3M383.5 544.8l-2.1 1.7M363.2 573.6l-.9 2.5M364.9 624.6l1 2.2l1.2 2.3M422.2 664.9l2.7 .1M431.7 664.9l2.7-.2M436.4 664.4l2.5-.4l2.5-.4M450.2 661l2.5-.9M465 653.5l2.2-1.5M481.5 551.5l-1.8-2.1M462.7 535.7l-2.4-1.4M446.8 528.9l-2.7-.7M434.7 526.5l-2.8-.2M398.4 532.2l-2.5 1.1M368.4 557.2l-1.5 2.4M358.3 614l.7 2.7M371.1 640.5l1.8 2.2M377.7 647.9l2 1.8l1.9 1.7M383.3 652.8l2.2 1.6M391.5 658.3l2.4 1.4M424.5 667.9l2.7 0M451.2 663.7l2.6-1M466.3 534.6l-2.3-1.5l-2.4-1.3M457.2 529.7l-2.6-1.1M442.6 524.9l-2.8-.5M432.4 523.5l-2.9-.2M424.7 523.3l-2.7 .1l-2.8 .3M388.2 534.4l-2.5 1.6M377.9 542.1l-2.1 2M363.3 560l-1.4 2.5M357 574.1l-.8 2.7M353.4 594.3l0 2.7l0 2.7M357.8 622.1l1 2.7M390.1 660.8l2.5 1.4M447.3 667.9l2.7-.8M480 648.3l2-2.1M440.6 521.6l-3-.4M389 530.6l-2.5 1.5l-2.3 1.5M370.3 545.7l-1.9 2.2M356.2 568.2l-1.1 2.8M352.8 615.4l.8 2.9M360.7 635.1l1.6 2.6M363.5 639.7l1.7 2.3l1.7 2.3M403.3 669.8l2.9 .8M413.6 672.4l3 .4M421.6 673.4l3 .1M434.9 673.2l2.9-.4l2.8-.4M455.6 668l2.8-1.1M465.2 663.4l2.6-1.6M472 659l2.4-1.8M501.8 570l-1.2-2.9M469.3 529.8l-2.7-1.6M459.5 524.5l-2.7-1.1l-2.7-1.1M432.8 517.8l-3.1-.1M397.5 523.3l-2.8 1.2M350.7 618.7l1 3M352.4 624l1.2 2.9M361.2 641.3l1.8 2.5M368 650l2.1 2.3M394.7 669.5l2.8 1.2M405.1 673.3l3 .8M440.7 675.2l3.1-.6M446.1 674.1l3-.8M475.8 659.7l2.5-2M449.9 518l-3.1-.8M413 516l-3.2 .6M396.5 520.7l-3 1.3M349.9 568.7l-1 3.1M344.9 594l0 3.2M350.8 627.6l1.3 3M358.8 642.8l1.9 2.7M455.1 674.3l3-1.1M468.1 668.3l2.7-1.7M467.2 522l-3-1.5M456.4 517.1l-3.2-1M445 513.9l-3.3-.7M433.2 512.2l-3.3-.2M415.4 512.8l-3.2 .5M401 516.1l-3 1l-2.9 1.1M387.3 521.8l-2.9 1.6M362.1 542.2l-2.1 2.6M352.1 556.9l-1.5 3M346.3 570.6l-.9 3l-.9 3M342.5 587.9l-.2 3.3M342.9 608.7l.5 3.2M347.1 625.9l1.2 3.1M432.9 681.8l3.3-.2M453.2 677.9l3.2-1M461.5 674.8l3-1.4M466.9 672.2l2.9-1.6M472 669.2l2.8-1.8M473.8 522.6l-2.9-1.8M465.8 518.1l-3.1-1.4M457.3 514.5l-3.2-1.1M383.3 520.8l-2.9 1.8M342.7 572.6l-.9 3.3M349.4 638.1l1.7 3M467 515.6l-3.2-1.5"/>
<path stroke="#00cc33" d="M452.7 533.9l-2.3-.9l-2.4-.8M427.2 528.9l-2.6 .1M415.4 529.9l-2.6 .5M404 533l-2.5 .9M385.3 543.3l-2.1 1.6M366 567l-1.1 2.4M360.1 585l-.4 2.7M360 608.7l.5 2.6M378 644.2l1.9 1.9M381.4 647.5l2.1 1.7M427 665.1l2.6-.1M458.9 657.2l2.4-1.3M488.2 627l1.1-2.4M451.5 530.4l-2.6-.9M444.4 528.2l-2.7-.6M429.7 526.1l-2.7 0M393.9 534.3l-2.4 1.4M369.8 555.2l-1.6 2.3M357.3 584.5l-.4 2.8M372.7 642.5l1.8 2.1M376 646.1l2 2M409.8 665.8l2.7 .6M422 667.7l2.8 .2M427 667.9l2.6 0l2.6-.2M436.8 667.2l2.6-.4l2.6-.5M444.1 665.8l2.7-.7M448.9 664.5l2.6-.9M440.1 524.4l-2.9-.4M369.1 551.5l-1.7 2.3M354.1 586.6l-.3 2.8M353.4 599.4l.2 2.9M359.7 626.8l1.2 2.7M365.9 638.1l1.6 2.4M368.9 642.3l1.8 2.2M372.2 646.2l2 2.1M392.3 662l2.6 1.3M401.7 666.2l2.8 1M426.9 670.7l2.9 0M452.2 666.3l2.7-1M501.4 578.6l-.8-2.9M453.4 525.1l-2.6-.9l-2.8-.8M419.3 520.8l-3 .4M354.3 573.2l-.8 2.9M351.7 583.5l-.4 2.8l-.4 2.9M350.6 594.2l-.1 3M350.7 602.2l.3 2.8l.3 2.8M354.2 620.5l1 2.8M359.4 632.8l1.5 2.6M371.9 650.1l2.1 2.1M379.8 657.2l2.4 1.8M384.2 660.4l2.5 1.6M388.7 663.2l2.6 1.5M398.3 667.9l2.8 1.1M445.5 671.3l2.9-.8M462.9 664.7l2.6-1.5M443.8 519.4l-3.1-.6M435.6 518.1l-3.1-.3M421.7 517.8l-3.1 .3M380.6 532.7l-2.5 1.8M376.2 536.1l-2.3 2M366.4 545.8l-2 2.5M361.4 552.5l-1.7 2.6M354.6 564.6l-1.2 2.8M351.7 572.3l-1 3M347.9 602.4l.3 3.1M348.5 607.9l.4 3M353.4 626.6l1.2 2.8M359.7 638.9l1.7 2.6M380.3 661.1l2.5 1.8M464.2 667.2l2.7-1.5M469 664.4l2.6-1.7M458.1 520.8l-2.9-1.1l-2.9-.9M447.2 517.3l-3.2-.8M415.8 515.6l-3.1 .5M362.4 546.2l-1.9 2.6M354.6 558.3l-1.5 2.8M349 571.4l-.9 2.9l-.8 3M349.8 625l1.1 3M376.3 661.7l2.6 1.9M381 665.1l2.7 1.7M390.9 670.8l2.9 1.4M407 676.7l3.2 .8M474.8 526.6l-2.8-1.8M461.9 519.4l-3.1-1.3M377.3 528.1l-2.7 2M358.4 546.9l-1.9 2.7M350.7 559.6l-1.4 3M348.3 565l-1.2 3.1M342.1 599.8l.2 3.3M345.3 620.3l1 3.1M389.7 673.4l3 1.4M444.6 680.2l3.2-.7M460.2 515.6l-3.2-1.2M454.4 513.5l-3.3-1M436.5 509.6l-3.5-.3M400.1 513.4l-3.2 1.1M370.8 529.6l-2.6 2.2M340.6 581.6l-.5 3.4M339.5 590.7l-.2 3.4M359.8 536.2l-2.3 2.6"/>
<path stroke="#00e619" d="M439.1 530l-2.7-.4M434.4 529.3l-2.7-.2M429.6 529l-2.6-.1M422.5 529.1l-2.7 .2M410.8 530.9l-2.5 .7l-2.4 .7M397.4 535.8l-2.4 1.2M381.7 546.3l-2 1.8M376.6 551.3l-1.7 2.1M363.1 620.1l.9 2.5M371.9 636.9l1.6 2.1M392.9 655.9l2.4 1.3M397.1 658.1l2.4 1.1M405.9 661.7l2.6 .8M415.1 664l2.7 .4M477.6 642.7l1.7-2.1M419.8 526.5l-2.7 .3M381.6 542.6l-1.9 1.7l-2 1.8M361.4 570.3l-1 2.6M356.2 596.9l0 2.7M361.3 623.4l1.1 2.6M366.9 634.4l1.4 2.2l1.5 2.2M381.4 651.2l2.2 1.8M389.4 657l2.4 1.5M393.7 659.5l2.5 1.3M405 664.4l2.7 .8M414.6 666.8l2.8 .4M419.5 667.5l2.8 .2M431.9 667.7l2.8-.2M466.6 655.9l2.3-1.6M470.6 537.4l-2.4-1.6M417 524l-2.9 .4M397.3 529.6l-2.7 1.2M386 535.8l-2.4 1.6M358.8 569.2l-1 2.6l-.9 2.6M355.6 579l-.7 2.8M353.8 604.6l.3 2.8M379.6 653.4l2.2 1.8M399.3 665.3l2.7 1M419.2 670.3l2.9 .3M434.7 670.3l2.8-.3M439.8 669.6l2.8-.5M449.7 667.2l2.8-1M454.6 665.4l2.6-1.1M435.3 520.9l-3-.3M396.1 527l-2.7 1.3M382.2 535l-2.2 1.7l-2.2 1.8M368.6 547.7l-1.8 2.2l-1.7 2.2M353.6 575.7l-.8 2.8l-.6 2.7M351 588.8l-.3 3M356.1 625.5l1.1 2.8M373.8 652l2.1 1.9l2.1 1.8M395.8 666.9l2.8 1.1M405.8 670.5l2.9 .8M440.2 672.4l2.8-.5l2.8-.7M476.1 534.5l-2.5-1.8M430 517.7l-2.9-.1l-2.9 .1M416.2 518.4l-3 .4M400.1 522.3l-2.9 1.2M390 526.8l-2.7 1.5M382.8 531.1l-2.5 1.8M374.1 537.9l-2.1 2l-2 2l-2 2.1M358.4 557.2l-1.5 2.7M350.8 575l-.8 3M347.9 591.3l-.1 3.1M348.1 605.1l.4 3.1M349.4 613.3l.7 2.9l.7 2.8M358.3 636.5l1.6 2.7M389.7 667l2.7 1.4M410.4 674.6l3.1 .6M421.4 676.2l3.1 .1M443.4 674.7l3.1-.7M448.8 673.4l3-1M444.4 516.6l-3-.6l-3-.4M430.1 514.8l-3 0l-3 0M388.7 524.3l-2.9 1.6M370.1 537.7l-2.3 2.3M360.7 548.5l-1.9 2.7M357.5 553.3l-1.6 2.6l-1.5 2.7M353.3 560.8l-1.4 2.9M344.9 596.8l0 3.1l.2 3M347.3 616.7l.8 3.1M372 658l2.3 2l2.3 1.9M412.7 677.9l3.1 .5M432.7 679l3-.2l3-.4M444 677.5l3.2-.8M457.7 673.3l3-1.3M436.2 512.4l-3.3-.2M392.7 519.2l-2.9 1.4l-2.8 1.4M374.9 529.9l-2.6 2.1M356.7 549.3l-1.7 2.6l-1.6 2.7M346.2 623.1l1 3.2M354.9 641.9l1.8 2.8M372.3 662l2.6 2.1M387 672l3 1.5M415.1 681.2l3.3 .4M418.1 509.6l-3.4 .4M339.2 596.8l.1 3.5M342.6 621l.9 3.2l1.1 3M368.9 527.4l-2.6 2.3M459.3 509.2l-3.5-1.2"/>
<path stroke="#00ff00" d="M436.7 529.6l-2.6-.3M424.9 529l-2.7 .1M399.5 534.8l-2.4 1.1M391.1 539.2l-2.2 1.4M387.2 541.8l-2.1 1.6M379.9 547.9l-1.8 1.8l-1.7 1.9M365 569.2l-1 2.3l-.9 2.4M362.4 575.8l-.8 2.6M359.1 594.5l-.1 2.6M361 613.3l.7 2.6M363.9 622.4l1.1 2.4M387 652l2.2 1.5M395 657l2.4 1.2M408.2 662.4l2.6 .7M441.1 663.6l2.5-.5l2.4-.7M456.1 532.3l-2.6-1.1M424.8 526.1l-2.8 .2M372.9 551.3l-1.8 2.2M358.3 579.7l-.6 2.7M356.6 604.3l.3 2.7M357.2 609.2l.5 2.5l.6 2.6M358.9 616.4l.8 2.5l.8 2.3l.9 2.5M385.3 654.3l2.3 1.6M400.4 662.7l2.6 1M407.4 665.1l2.7 .7M412.2 666.3l2.7 .6M446.5 665.2l2.7-.8M427.3 523.3l-2.9 0M409.4 525.4l-2.8 .8M399.6 528.6l-2.6 1.1M392.6 531.8l-2.5 1.4M376 543.9l-1.9 1.9l-1.9 2M375.8 649.9l2.1 2M383.6 656.6l2.3 1.5l2.3 1.5M411.6 669.1l2.8 .5M424.4 670.7l2.9 0M437.2 670l2.9-.4M444.8 668.6l2.8-.8M463.8 660.9l2.5-1.5M445.8 522.8l-2.9-.7M429.9 520.5l-3-.1M408.7 522.7l-2.9 .8M365.3 551.9l-1.7 2.3l-1.5 2.4M351.3 607.5l.4 3M391 664.5l2.7 1.4M408.4 671.2l2.8 .7l2.8 .5M451.8 521.6l-3-1M419 518l-3.1 .4M410.8 519.3l-3.1 .7M359.9 554.8l-1.6 2.7M348.5 585.8l-.4 3.1M397.2 670.5l2.9 1.2M451.5 672.6l2.9-1.1M421.5 515l-3.2 .3M366.1 541.9l-2.1 2.4M352.1 563.4l-1.2 2.8l-1.1 2.8M346.2 582.6l-.5 3.1M345.1 602.6l.3 3.2M346.1 611.1l.6 3.2M365.9 651.9l2.2 2.3M393.5 672l3 1.3M398.8 674.2l3.1 1M409.8 677.4l3.2 .6M424.1 679.2l3.2 0M449.6 676.1l3.1-1M403.8 515.2l-3.1 1M384.7 523.3l-2.8 1.7M353.5 554.3l-1.6 2.9M342.5 605.7l.4 3.3M409.2 680.1l3.3 .7M424.2 509.2l-3.4 .2M341.8 618.1l.9 3.3M436.1 684.4l3.4-.4"/>
<path stroke="#1ae500" d="M448.3 532.3l-2.6-.8M370.7 558.8l-1.4 2.2M373.4 638.8l1.6 2l1.6 1.9M385.1 650.6l2.1 1.6M390.9 654.7l2.3 1.3M417.5 664.4l2.6 .3M432.2 526.3l-2.8-.2M410.1 528.2l-2.7 .7M403 530.3l-2.6 1M374.5 549.4l-1.8 2.1M367.1 559.3l-1.5 2.4M364.6 563.6l-1.2 2.3l-1.1 2.4M359.7 574.9l-.8 2.7M356.9 587l-.3 2.7M356.2 594.4l0 2.7M387.3 655.7l2.4 1.5M398.1 661.7l2.6 1.1M402.7 663.6l2.6 .9M434.4 667.5l2.7-.3M454.9 528.7l-2.7-1M437.5 524l-2.8-.3M394.9 530.7l-2.6 1.3M364.7 557.8l-1.5 2.5M353.8 589.1l-.3 2.9M354.1 607.1l.4 2.9M360.8 629.2l1.3 2.6M364.5 635.9l1.6 2.5M394.6 663.2l2.5 1.2l2.5 1M404.2 667.1l2.7 .8M421.8 670.5l2.9 .2M442.3 669.2l2.8-.7M443.2 522.1l-3-.5M424.6 520.5l-3 .1M406.2 523.4l-2.9 .8M391.3 529.3l-2.6 1.5M355.2 570.7l-1 2.8M350.7 591.5l-.1 3M355.1 623l1.1 2.8M357.1 628l1.2 2.6l1.3 2.5M362.1 637.4l1.6 2.5M368.4 646.1l1.9 2.2M382 658.8l2.4 1.8M400.8 668.9l2.8 1M429.6 673.5l3-.1M453.1 669l2.8-1.1M454.4 522.5l-2.9-1.1M424.5 517.7l-3.1 .1M392.4 525.6l-2.7 1.4M355.8 562.1l-1.3 2.8M352.6 569.7l-1.1 2.9M347.7 596.8l.1 3l.1 2.9M364.4 645.7l2 2.5M371.8 654l2.2 2l2.2 1.9M378.1 659.5l2.5 1.8M399.8 671.5l2.9 1.1M435.2 676l3.1-.4M459.2 669.6l2.8-1.3M433 515l-3.2-.2M424.4 514.8l-3.2 .2M410.2 516.5l-3.2 .8M383.7 527.2l-2.7 1.7M376.6 532.1l-2.5 2M359 550.9l-1.7 2.7M345.4 588.2l-.3 3.2M404.3 676l3.1 .8M426.9 679.2l3.2 0M441.2 678l3.2-.6M447.8 514.5l-3.2-.7M343.4 582.1l-.5 3.2M342.3 590.9l-.2 3.3M342.3 602.8l.2 3.3M423.8 684.8l3.5 .1"/>
<path stroke="#33cc00" d="M406.2 532.2l-2.5 .9M401.7 533.8l-2.4 1.1M393.2 538l-2.3 1.3M375 553.1l-1.6 2.1M359.7 587.4l-.3 2.6M369.3 633l1.4 2.2M399.3 659.1l2.4 1.1M403.7 660.9l2.5 .9M412.8 663.6l2.6 .5M445.7 662.5l2.6-.8M427.2 526.1l-2.7 0M407.7 528.8l-2.7 .8M400.7 531.2l-2.6 1.1M356.4 601.8l.2 2.8M363.3 627.9l1.3 2.5M429.8 523.3l-2.9 0M414.4 524.4l-2.8 .5M406.9 526.1l-2.7 .8M379.8 540.4l-2.1 1.9M356.2 617.2l.8 2.7M432.1 670.6l2.9-.3M461.6 662.2l2.5-1.4M437.9 521.2l-3-.4M393.7 528.1l-2.7 1.4M384.4 533.4l-2.4 1.8M432.3 673.4l3-.3M413.5 518.8l-3.1 .6M356.9 634.1l1.5 2.7M375.9 657.7l2.5 2M407.7 674l3.1 .7M418.6 675.9l3.1 .3M452.7 518.9l-3.1-1M399.1 519.7l-3 1.1M347.4 576.9l-.7 3l-.6 3M396.1 673.2l3 1.1M415.5 678.4l3.2 .4M382.2 524.8l-2.8 1.8M342.1 593.9l0 3.3M365.8 655.9l2.4 2.4M395.1 675.8l3.1 1.2M463 516.8l-3.2-1.3M451.5 512.6l-3.3-.9M430.4 509.2l-3.5-.1"/>
<path stroke="#4db200" d="M369.4 560.8l-1.3 2.3M359.4 589.7l-.2 2.7M361.6 615.6l.8 2.6M419.8 664.7l2.7 .2M417.4 526.8l-2.8 .4M385.5 539.6l-2.1 1.5l-2 1.7M360.5 572.6l-.9 2.6M435 523.7l-2.9-.3M383.9 537.3l-2.3 1.7M421.9 520.6l-3 .3M386.4 661.8l2.6 1.6M438.3 518.4l-3.1-.4M368.2 543.8l-2 2.3M353.6 567.1l-1.2 2.9M349.5 562.2l-1.3 3.1M397.2 514.4l-3.2 1.2M361.9 538.1l-2.2 2.6"/>
<path stroke="#669900" d="M495.1 594.8l-.1-2.7M476.2 549.8l-1.9-1.9M360.5 611l.6 2.6M362.3 617.9l.9 2.5M452.5 660.2l2.4-1.1M456.8 658.2l2.4-1.2M442 527.7l-2.7-.6M357.8 582.1l-.6 2.7M356.2 599.3l.2 2.8M461.9 532l-2.6-1.3M445.1 525.5l-2.8-.7M354.5 609.7l.5 2.8M358.7 624.5l1.1 2.6M449.1 520.7l-2.8-.7l-2.9-.7M350.1 577.6l-.7 3.1M347.8 594.1l-.1 3.1M369.9 652l2.2 2.2M429.7 676.3l3.1-.1M438.7 515.6l-3.2-.4M418.7 515.2l-3.2 .4M374.4 533.9l-2.4 2.1M427.3 512l-3.3 0M406.7 514.4l-3.2 .9M447.5 679.6l3.2-.9M368.4 531.6l-2.5 2.3M341.2 578.6l-.7 3.3M458.3 511.8l-3.4-1.1"/>
<path stroke="#808000" d="M373.5 555l-1.6 2.1M368.2 562.8l-1.3 2.4M422.3 526.3l-2.8 .2M391.8 535.5l-2.4 1.5M387.6 538.1l-2.3 1.6M362.4 568l-1.1 2.6M367.5 553.5l-1.6 2.4M355.5 614.7l.8 2.8M356.9 619.6l1 2.8M378 538.3l-2.2 1.9M359.6 560.9l-1.4 2.7M363 550.2l-1.8 2.5M415.9 675.6l3.1 .4M378.9 530.4l-2.6 1.9M353.1 632.9l1.5 2.8M401.5 675.1l3.1 1M409.6 513.8l-3.2 .7M395.4 518.1l-3.1 1.3M372.6 531.7l-2.5 2.2M366 537.8l-2.2 2.4M343.6 569.7l-1 3.3"/>
<path stroke="#996600" d="M372.1 556.9l-1.5 2.2M460.3 659.7l2.4-1.4M474.6 540.6l-2.2-1.8M366.1 555.6l-1.6 2.5M372.1 543.7l-2 2.2M358.4 563.3l-1.3 2.7M424.3 673.5l3 .1M386.1 525.7l-2.7 1.7M464.5 520.6l-3-1.4M344.6 576.3l-.7 3.2M509.6 627.2l1.1-3.2M515.9 578.3l-.8-3.4"/>
<path stroke="#b34c00" d="M407.4 517.2l-3.1 .8"/>
<path stroke="#e61900" d="M361.7 578.1l-.7 2.6M359 596.9l.1 2.5l.1 2.5M488.6 561.7l-1.5-2.4M404.5 526.8l-2.8 1M372.4 547.6l-1.9 2.1M458.4 527.1l-2.6-1.1l-2.7-1M416.6 521.2l-3 .4M357.2 565.7l-1.1 2.8M498 625.8l1.1-2.8M506.1 588.9l-.4-3.1M387.6 528.2l-2.7 1.6M357.1 559.6l-1.4 2.7M493.7 548.8l-1.9-2.6M453.5 516.2l-3.1-1M412.5 513.2l-3.3 .7M344 579.1l-.7 3.3M361.8 651.5l2.2 2.5M496.5 543l-2.2-2.6"/>
<path stroke="#ff0000" d="M457.1 535.9l-2.4-1.1M437.1 526.8l-2.7-.3M414 521.6l-3 .5M353.5 617.9l.8 2.9M458.1 667l2.7-1.3M348.2 588.5l-.3 3.1M364.2 544l-2 2.5M345.3 605.4l.4 3.2M506 565.3l-1.3-3.1"/>
<path stroke="#e50000" d="M474.7 544.4l-2.1-1.8M414.9 527.1l-2.7 .6M396.2 533.2l-2.5 1.3M365.8 561.4l-1.4 2.4M359 577.3l-.7 2.7M356.6 589.4l-.2 2.8M402 527.7l-2.7 1M359.8 566.9l-1.1 2.6M403.6 524.1l-2.8 1M376 540l-2.2 2M360.9 558.6l-1.5 2.6M350.6 599.5l.1 3M354.5 629.1l1.3 2.8M404.6 517.9l-3.1 1M368.1 539.8l-2.2 2.3M509.3 600l0-3.2M474.5 667.6l2.7-1.9M345.7 563.9l-1.2 3.2M340.1 609l.5 3.4"/>
</g>
<circle cx="427.1" cy="597.0" r="65.05" fill="none" stroke="#0000f8" stroke-width="4.3"/>
<circle cx="427.1" cy="596.6" r="92.4" fill="none" stroke="#e80010" stroke-width="1.3" stroke-dasharray="2.4 0.3"/>
<path d="M435.1 504.6A92.4 92.4 0 0 1 519.5 600.6" fill="none" stroke="#f00010" stroke-width="1.9"/>
<rect x="322.06" y="491.96" width="210.08" height="210.08" fill="none" stroke="#000" stroke-width="2"/><path d="M326.10 491.96v3.10M326.10 702.04v-3.10M322.06 698.00h3.10M532.14 698.00h-3.10M330.14 491.96v3.10M330.14 702.04v-3.10M322.06 693.96h3.10M532.14 693.96h-3.10M334.18 491.96v3.10M334.18 702.04v-3.10M322.06 689.92h3.10M532.14 689.92h-3.10M338.22 491.96v3.10M338.22 702.04v-3.10M322.06 685.88h3.10M532.14 685.88h-3.10M342.26 491.96v3.10M342.26 702.04v-3.10M322.06 681.84h3.10M532.14 681.84h-3.10M346.30 491.96v5.40M346.30 702.04v-5.40M322.06 677.80h5.40M532.14 677.80h-5.40M350.34 491.96v3.10M350.34 702.04v-3.10M322.06 673.76h3.10M532.14 673.76h-3.10M354.38 491.96v3.10M354.38 702.04v-3.10M322.06 669.72h3.10M532.14 669.72h-3.10M358.42 491.96v3.10M358.42 702.04v-3.10M322.06 665.68h3.10M532.14 665.68h-3.10M362.46 491.96v3.10M362.46 702.04v-3.10M322.06 661.64h3.10M532.14 661.64h-3.10M366.50 491.96v3.10M366.50 702.04v-3.10M322.06 657.60h3.10M532.14 657.60h-3.10M370.54 491.96v3.10M370.54 702.04v-3.10M322.06 653.56h3.10M532.14 653.56h-3.10M374.58 491.96v3.10M374.58 702.04v-3.10M322.06 649.52h3.10M532.14 649.52h-3.10M378.62 491.96v3.10M378.62 702.04v-3.10M322.06 645.48h3.10M532.14 645.48h-3.10M382.66 491.96v3.10M382.66 702.04v-3.10M322.06 641.44h3.10M532.14 641.44h-3.10M386.70 491.96v5.40M386.70 702.04v-5.40M322.06 637.40h5.40M532.14 637.40h-5.40M390.74 491.96v3.10M390.74 702.04v-3.10M322.06 633.36h3.10M532.14 633.36h-3.10M394.78 491.96v3.10M394.78 702.04v-3.10M322.06 629.32h3.10M532.14 629.32h-3.10M398.82 491.96v3.10M398.82 702.04v-3.10M322.06 625.28h3.10M532.14 625.28h-3.10M402.86 491.96v3.10M402.86 702.04v-3.10M322.06 621.24h3.10M532.14 621.24h-3.10M406.90 491.96v3.10M406.90 702.04v-3.10M322.06 617.20h3.10M532.14 617.20h-3.10M410.94 491.96v3.10M410.94 702.04v-3.10M322.06 613.16h3.10M532.14 613.16h-3.10M414.98 491.96v3.10M414.98 702.04v-3.10M322.06 609.12h3.10M532.14 609.12h-3.10M419.02 491.96v3.10M419.02 702.04v-3.10M322.06 605.08h3.10M532.14 605.08h-3.10M423.06 491.96v3.10M423.06 702.04v-3.10M322.06 601.04h3.10M532.14 601.04h-3.10M427.10 491.96v5.40M427.10 702.04v-5.40M322.06 597.00h5.40M532.14 597.00h-5.40M431.14 491.96v3.10M431.14 702.04v-3.10M322.06 592.96h3.10M532.14 592.96h-3.10M435.18 491.96v3.10M435.18 702.04v-3.10M322.06 588.92h3.10M532.14 588.92h-3.10M439.22 491.96v3.10M439.22 702.04v-3.10M322.06 584.88h3.10M532.14 584.88h-3.10M443.26 491.96v3.10M443.26 702.04v-3.10M322.06 580.84h3.10M532.14 580.84h-3.10M447.30 491.96v3.10M447.30 702.04v-3.10M322.06 576.80h3.10M532.14 576.80h-3.10M451.34 491.96v3.10M451.34 702.04v-3.10M322.06 572.76h3.10M532.14 572.76h-3.10M455.38 491.96v3.10M455.38 702.04v-3.10M322.06 568.72h3.10M532.14 568.72h-3.10M459.42 491.96v3.10M459.42 702.04v-3.10M322.06 564.68h3.10M532.14 564.68h-3.10M463.46 491.96v3.10M463.46 702.04v-3.10M322.06 560.64h3.10M532.14 560.64h-3.10M467.50 491.96v5.40M467.50 702.04v-5.40M322.06 556.60h5.40M532.14 556.60h-5.40M471.54 491.96v3.10M471.54 702.04v-3.10M322.06 552.56h3.10M532.14 552.56h-3.10M475.58 491.96v3.10M475.58 702.04v-3.10M322.06 548.52h3.10M532.14 548.52h-3.10M479.62 491.96v3.10M479.62 702.04v-3.10M322.06 544.48h3.10M532.14 544.48h-3.10M483.66 491.96v3.10M483.66 702.04v-3.10M322.06 540.44h3.10M532.14 540.44h-3.10M487.70 491.96v3.10M487.70 702.04v-3.10M322.06 536.40h3.10M532.14 536.40h-3.10M491.74 491.96v3.10M491.74 702.04v-3.10M322.06 532.36h3.10M532.14 532.36h-3.10M495.78 491.96v3.10M495.78 702.04v-3.10M322.06 528.32h3.10M532.14 528.32h-3.10M499.82 491.96v3.10M499.82 702.04v-3.10M322.06 524.28h3.10M532.14 524.28h-3.10M503.86 491.96v3.10M503.86 702.04v-3.10M322.06 520.24h3.10M532.14 520.24h-3.10M507.90 491.96v5.40M507.90 702.04v-5.40M322.06 516.20h5.40M532.14 516.20h-5.40M511.94 491.96v3.10M511.94 702.04v-3.10M322.06 512.16h3.10M532.14 512.16h-3.10M515.98 491.96v3.10M515.98 702.04v-3.10M322.06 508.12h3.10M532.14 508.12h-3.10M520.02 491.96v3.10M520.02 702.04v-3.10M322.06 504.08h3.10M532.14 504.08h-3.10M524.06 491.96v3.10M524.06 702.04v-3.10M322.06 500.04h3.10M532.14 500.04h-3.10M528.10 491.96v3.10M528.10 702.04v-3.10M322.06 496.00h3.10M532.14 496.00h-3.10" stroke="#000" stroke-width="1.6" fill="none"/>
<text y="513.0" font-size="15" stroke="#000" stroke-width="0.75"><tspan x="469.8 479.7 486.7">Eyz</tspan><tspan x="495.7" dy="3.8" font-size="23" font-style="italic" stroke-width="0.25">/</tspan><tspan x="505.2 514.8 521.8" dy="-3.8">Esw</tspan></text>
<text x="301.6" y="502.5" font-size="20.5" text-anchor="start" textLength="15.2" lengthAdjust="spacingAndGlyphs">c'</text>
<text x="345.9" y="728.6" font-size="15.6" text-anchor="middle" textLength="29.2" lengthAdjust="spacingAndGlyphs" stroke="#000" stroke-width="0.4">−20</text>
<text x="386.3" y="728.6" font-size="15.6" text-anchor="middle" textLength="29.2" lengthAdjust="spacingAndGlyphs" stroke="#000" stroke-width="0.4">−10</text>
<text x="426.7" y="728.6" font-size="15.6" text-anchor="middle" textLength="8.3" lengthAdjust="spacingAndGlyphs" stroke="#000" stroke-width="0.4">0</text>
<text x="467.1" y="728.6" font-size="15.6" text-anchor="middle" textLength="17.0" lengthAdjust="spacingAndGlyphs" stroke="#000" stroke-width="0.4">10</text>
<text x="507.5" y="728.6" font-size="15.6" text-anchor="middle" textLength="17.0" lengthAdjust="spacingAndGlyphs" stroke="#000" stroke-width="0.4">20</text>
<text x="426.6" y="749.2" font-size="15" text-anchor="middle" textLength="80.6" lengthAdjust="spacingAndGlyphs" stroke="#000" stroke-width="0.5">Y_SWI (RE)</text>
<text x="70.6" y="17.6" font-size="23" text-anchor="start" textLength="158.4" lengthAdjust="spacingAndGlyphs">|ConeAngle|&lt;60</text>
<text x="330.4" y="17.6" font-size="23" text-anchor="start" textLength="158.4" lengthAdjust="spacingAndGlyphs">|ConeAngle|&gt;60</text>
<defs><linearGradient id="cb" x1="0" y1="0" x2="0" y2="1"><stop offset="0.00" stop-color="#000000"/><stop offset="0.25" stop-color="#ff0000"/><stop offset="0.50" stop-color="#00ff00"/><stop offset="0.75" stop-color="#0000ff"/><stop offset="1.00" stop-color="#000000"/></linearGradient></defs>
<rect x="561.4" y="259.5" width="17.6" height="211.2" fill="url(#cb)"/>
<text x="557.6" y="268.2" font-size="11" text-anchor="end" font-weight="bold" textLength="16.2" lengthAdjust="spacingAndGlyphs">4.0</text>
<text x="557.6" y="307.2" font-size="11" text-anchor="end" font-weight="bold" textLength="16.2" lengthAdjust="spacingAndGlyphs">3.2</text>
<text x="557.6" y="348.9" font-size="11" text-anchor="end" font-weight="bold" textLength="16.2" lengthAdjust="spacingAndGlyphs">2.4</text>
<text x="557.6" y="391.7" font-size="11" text-anchor="end" font-weight="bold" textLength="16.2" lengthAdjust="spacingAndGlyphs">1.6</text>
<text x="557.6" y="433.0" font-size="11" text-anchor="end" font-weight="bold" textLength="16.2" lengthAdjust="spacingAndGlyphs">0.8</text>
<text x="557.6" y="470.6" font-size="11" text-anchor="end" font-weight="bold" textLength="16.2" lengthAdjust="spacingAndGlyphs">0.0</text>
<text transform="translate(591.6 383.6) rotate(-90)" font-size="12.6" font-weight="bold"><tspan x="0">E</tspan><tspan x="8.6" dy="3.2" font-size="19" font-style="italic" font-weight="normal" stroke="#000" stroke-width="0.5">/</tspan><tspan x="15.4 23.4 28.8" dy="-3.2">Esw</tspan></text>
</svg>
</body></html>
